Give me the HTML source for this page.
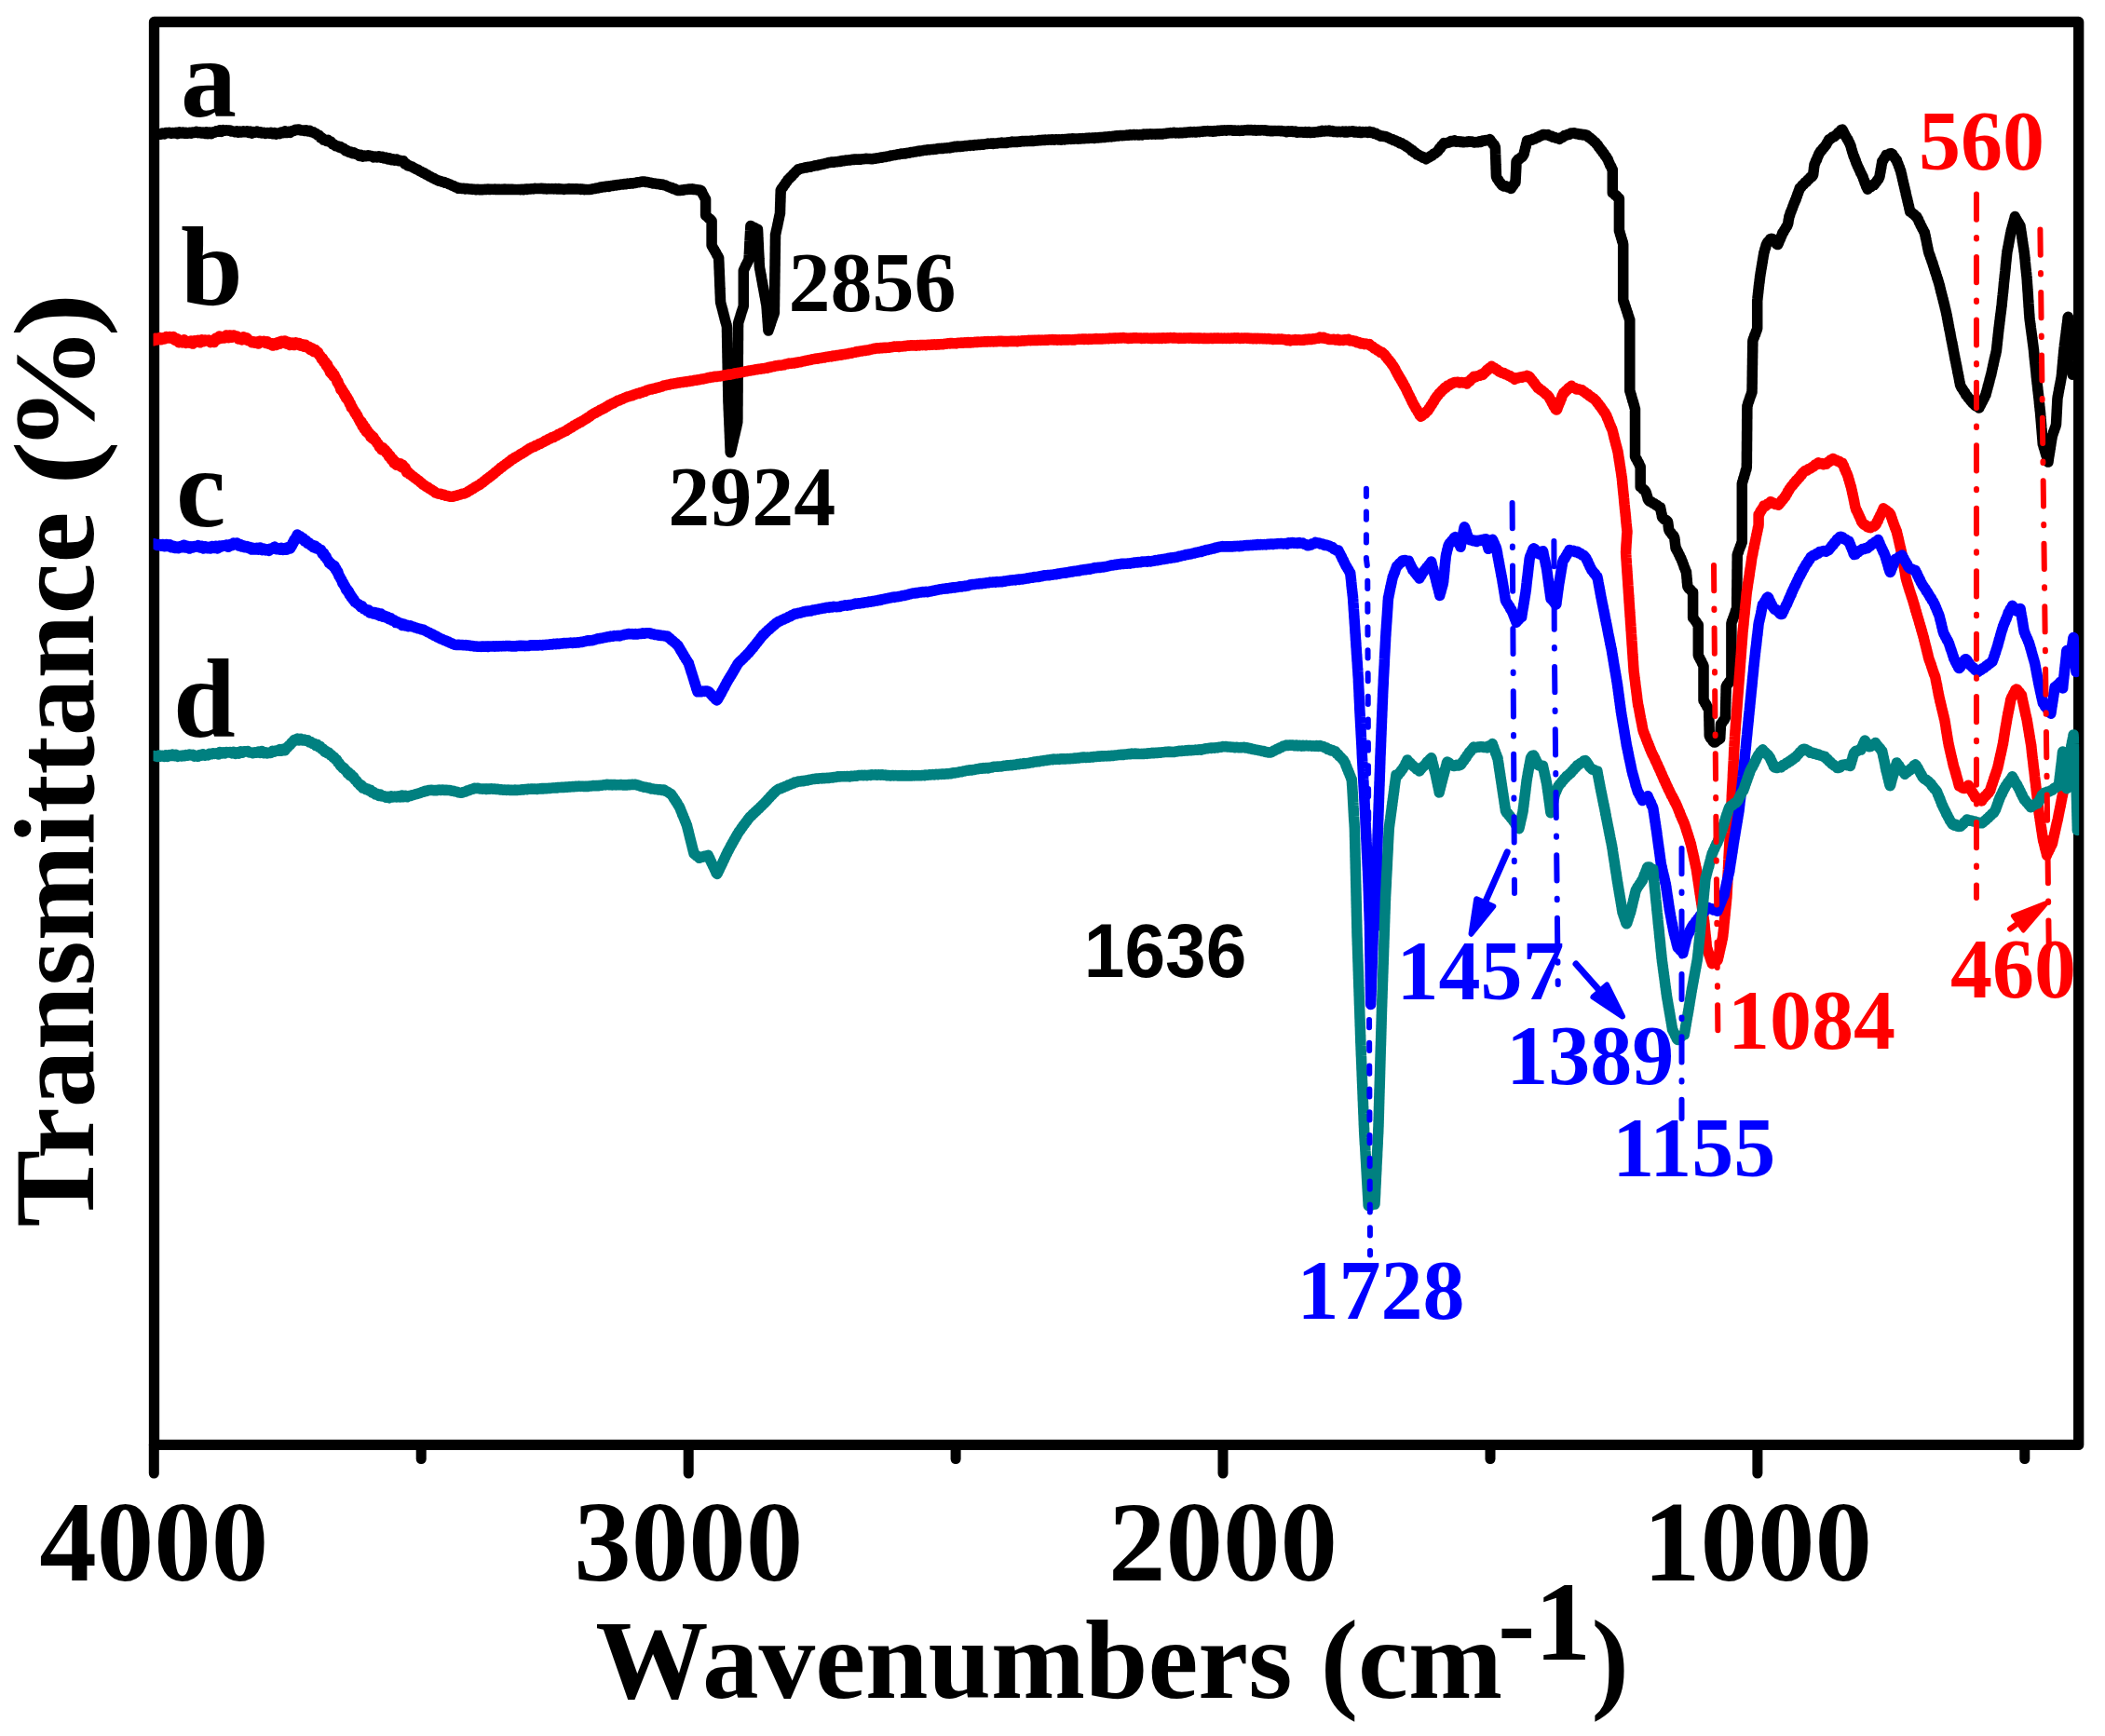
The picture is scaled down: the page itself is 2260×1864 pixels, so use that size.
<!DOCTYPE html>
<html><head><meta charset="utf-8"><title>FTIR spectra</title>
<style>html,body{margin:0;padding:0;background:#fff}svg{display:block}</style></head>
<body>
<svg width="2260" height="1864" viewBox="0 0 2260 1864">
<rect width="2260" height="1864" fill="#fff"/>
<defs><clipPath id="cp"><rect x="164.5" y="23.5" width="2067.7" height="1527.9"/></clipPath></defs>
<rect x="165.5" y="23.5" width="2066.2" height="1527.9" fill="none" stroke="#000" stroke-width="11.3" stroke-linejoin="round"/>
<g fill="none" stroke-linejoin="round" stroke-linecap="round" stroke-width="11.5" clip-path="url(#cp)">
<polyline stroke="#000" points="165.5,143.1 169.0,144.9 170.8,143.8 172.6,144.3 174.4,143.0 176.3,143.9 178.1,142.5 179.9,142.8 181.7,142.3 183.5,143.3 185.3,142.6 187.1,143.1 188.9,142.2 190.7,143.5 192.5,141.9 194.4,143.0 196.2,142.1 198.0,143.3 199.8,142.4 201.6,143.2 203.4,142.2 205.2,143.2 207.0,142.0 208.8,142.5 210.7,141.4 212.5,142.7 214.3,141.8 216.1,143.0 217.9,142.1 219.7,143.3 221.5,142.0 223.3,143.5 225.1,142.1 227.0,143.5 228.8,141.8 230.6,142.3 232.4,140.7 234.2,141.2 236.0,139.8 237.8,141.2 239.6,139.6 241.4,140.3 243.2,139.8 245.1,140.2 246.9,139.9 248.7,141.1 250.5,140.9 252.3,141.7 254.1,140.9 255.9,142.2 257.7,141.1 259.5,142.0 261.4,140.9 263.2,141.7 265.0,140.8 266.8,142.3 268.6,141.2 270.4,143.2 272.2,141.5 274.0,142.2 275.8,141.1 277.6,142.4 279.5,141.7 281.3,143.0 283.1,142.3 285.0,143.5 286.9,142.5 288.8,143.2 290.7,142.3 292.6,143.7 294.5,142.6 296.4,144.1 298.3,143.0 300.2,143.6 302.1,142.0 304.0,142.7 305.9,140.9 307.8,142.4 309.7,141.3 311.6,142.3 313.5,140.5 315.4,140.6 317.3,139.2 319.2,139.4 321.1,139.0 323.0,140.1 324.9,139.9 326.8,140.4 328.7,139.8 330.6,140.9 332.5,140.3 334.4,141.8 336.3,141.8 337.9,143.2 339.5,143.5 341.1,145.3 342.6,145.3 344.2,148.0 345.8,147.9 347.4,150.3 349.0,150.2 350.6,151.4 352.2,150.5 353.7,152.3 355.3,152.1 357.1,154.8 358.8,155.1 360.5,156.7 362.2,156.7 364.0,158.2 365.7,157.6 367.4,159.2 369.1,159.5 370.9,161.9 372.6,161.6 374.3,163.4 376.2,163.0 378.1,164.6 380.0,163.8 381.9,165.5 383.8,165.5 385.7,167.3 387.6,166.3 389.5,168.1 391.4,167.1 393.3,167.8 395.2,166.7 397.1,167.6 399.0,167.4 401.0,168.9 402.9,168.0 404.8,169.0 406.7,167.8 408.6,169.1 410.5,168.4 412.4,169.9 414.3,169.0 416.2,170.9 418.1,169.8 420.0,171.7 421.9,170.9 423.8,172.1 425.7,171.1 427.6,172.7 429.5,172.2 431.4,173.3 433.0,172.9 434.5,175.8 436.1,175.7 437.7,177.9 439.3,177.8 440.9,178.7 442.5,179.1 444.0,180.2 445.6,180.8 447.2,181.8 448.8,182.3 450.4,183.6 452.1,184.2 453.8,185.4 455.6,185.9 457.3,187.2 459.0,187.9 460.8,189.2 462.5,189.7 464.2,191.0 465.9,191.5 467.7,192.7 469.4,193.3 471.1,194.2 472.9,194.4 474.7,195.2 476.4,195.4 478.2,196.4 479.9,196.6 481.7,197.7 483.4,198.1 485.2,199.2 486.9,199.6 488.7,200.8 490.5,201.2 492.2,202.3 494.1,202.0 496.0,202.6 497.9,202.3 499.8,202.9 501.7,202.5 503.6,203.0 505.5,203.0 507.4,203.4 509.3,203.2 511.2,203.8 513.0,203.3 514.8,203.8 516.6,203.4 518.5,203.7 520.3,203.3 522.1,203.5 523.9,203.0 525.7,203.6 527.5,203.2 529.3,203.4 531.1,203.1 532.9,203.6 534.8,203.2 536.6,203.6 538.4,203.3 540.2,203.6 542.0,203.1 543.8,203.5 545.6,203.2 547.4,203.6 549.2,203.2 551.1,203.6 552.9,203.4 554.7,203.6 556.5,203.4 558.3,203.7 560.1,203.2 561.9,203.7 563.7,203.1 565.5,203.4 567.3,202.9 569.2,203.0 571.0,202.7 572.8,202.9 574.6,202.3 576.4,202.6 578.2,202.4 580.0,202.5 581.8,202.2 583.6,202.7 585.5,202.4 587.3,203.0 589.1,202.6 590.9,202.8 592.7,202.6 594.6,202.9 596.4,202.5 598.2,203.1 600.0,202.6 601.9,203.0 603.7,203.0 605.5,203.4 607.3,203.0 609.2,203.1 611.0,202.6 612.8,203.0 614.6,202.7 616.5,203.1 618.3,202.7 620.1,203.1 621.9,202.9 623.8,203.4 625.6,203.0 627.4,203.7 629.2,203.4 631.1,203.6 632.9,203.4 634.8,203.3 636.7,202.7 638.6,202.6 640.5,201.9 642.4,202.0 644.3,201.0 646.2,201.2 648.1,200.5 650.0,200.7 651.9,200.0 653.8,200.4 655.7,199.5 657.5,199.6 659.3,198.9 661.1,199.1 662.9,198.4 664.7,198.5 666.5,198.0 668.3,198.1 670.1,197.6 671.9,197.7 673.7,197.1 675.5,197.3 677.3,196.7 679.1,197.0 680.9,196.4 682.7,196.4 684.5,195.7 686.3,195.7 688.1,195.2 689.9,195.0 691.8,194.9 693.7,195.6 695.6,195.5 697.5,196.3 699.4,196.3 701.3,197.0 703.2,197.0 705.1,197.6 707.0,197.5 708.9,198.2 710.8,197.9 712.7,198.7 714.4,198.9 716.1,199.9 717.8,200.4 719.5,201.4 721.2,201.5 722.9,202.7 724.6,202.8 726.3,203.9 727.9,204.4 729.8,204.5 731.7,204.1 733.7,204.2 735.6,203.4 737.5,203.5 739.4,202.9 741.3,203.2 743.2,202.8 745.1,203.6 747.0,203.4 748.9,204.1 750.8,203.9 752.7,204.6 753.7,206.4 754.6,208.6 755.6,210.1 756.6,212.3 757.6,213.9 757.6,216.2 757.6,217.8 757.6,220.0 757.6,221.6 757.6,223.7 757.6,225.3 757.6,227.6 757.6,229.2 757.6,231.3 759.2,232.5 760.8,234.3 762.5,235.4 764.1,237.1 764.1,238.7 764.1,240.8 764.1,242.5 764.1,244.7 764.1,246.3 764.1,248.5 764.1,250.1 764.1,252.2 764.1,253.9 764.1,256.0 764.1,257.7 764.1,259.8 764.1,261.5 764.1,263.6 765.0,265.0 766.0,267.0 766.9,268.3 767.9,270.3 768.8,271.6 769.8,273.7 770.7,275.0 771.7,277.0 771.7,278.5 771.8,280.6 771.9,282.2 772.0,284.4 772.0,285.9 772.1,288.0 772.2,289.5 772.3,291.6 772.3,293.1 772.4,295.3 772.5,296.9 772.6,299.1 772.6,300.6 772.7,302.7 772.8,304.3 772.8,306.4 772.9,307.7 773.0,310.0 773.1,311.5 773.1,313.6 773.2,315.2 773.3,317.2 773.4,318.8 773.4,321.0 773.5,322.5 773.6,324.6 774.0,326.0 774.5,328.2 774.9,329.4 775.4,331.6 775.9,332.9 776.3,335.2 776.8,336.5 777.2,338.7 777.7,340.0 778.1,342.2 778.6,343.6 779.0,345.6 779.5,346.9 780.0,349.1 780.4,350.6 780.5,352.7 780.5,354.3 780.5,356.2 780.6,357.7 780.6,359.9 780.6,361.4 780.7,363.6 780.7,365.0 780.7,367.1 780.8,368.6 780.8,370.8 780.8,372.2 780.9,374.5 780.9,375.9 780.9,378.2 781.0,379.7 781.0,381.8 781.0,383.2 781.1,385.4 781.1,386.9 781.1,389.1 781.2,390.6 781.2,392.7 781.2,394.2 781.3,396.4 781.3,397.8 781.4,400.0 781.4,401.5 781.4,403.5 781.5,405.1 781.5,407.3 781.5,408.7 781.6,410.9 781.6,412.3 781.6,414.4 781.7,415.9 781.7,418.1 781.7,419.6 781.8,421.9 781.8,423.3 781.8,425.4 781.9,426.9 781.9,429.1 781.9,430.4 782.0,432.8 782.1,434.1 782.2,436.5 782.2,437.9 782.3,440.2 782.4,441.6 782.5,443.8 782.5,445.3 782.6,447.4 782.7,449.0 782.8,451.2 782.9,452.5 782.9,454.8 783.0,456.4 783.1,458.4 783.2,460.0 783.2,462.1 783.3,463.7 783.4,465.9 783.5,467.4 783.5,469.7 783.6,471.2 783.7,473.3 783.8,474.6 783.8,476.9 783.9,478.4 784.0,480.7 784.1,482.0 784.1,484.3 784.2,485.8 784.6,484.3 785.1,482.3 785.5,480.9 785.9,478.7 786.3,477.3 786.8,475.1 787.2,473.7 787.6,471.4 788.0,470.0 788.4,467.9 788.9,466.4 789.3,464.2 789.7,462.8 790.1,460.6 790.6,459.1 791.0,456.8 791.4,455.2 791.8,453.2 791.8,451.8 791.9,449.6 791.9,448.1 791.9,445.9 791.9,444.6 791.9,442.3 791.9,440.8 791.9,438.6 791.9,437.3 792.0,435.0 792.0,433.6 792.0,431.5 792.0,430.2 792.0,427.8 792.0,426.3 792.0,424.3 792.0,422.9 792.1,420.8 792.1,419.2 792.1,417.1 792.1,415.5 792.1,413.4 792.1,411.9 792.1,409.8 792.1,408.4 792.2,406.3 792.2,404.9 792.2,402.6 792.2,401.2 792.2,398.9 792.2,397.7 792.2,395.4 792.3,393.9 792.3,391.9 792.3,390.3 792.3,388.1 792.3,386.7 792.3,384.6 792.3,383.2 792.3,381.1 792.4,379.6 792.4,377.5 792.4,376.0 792.4,373.7 792.4,372.5 792.4,370.1 792.4,368.7 792.4,366.6 792.5,365.0 792.5,362.9 792.5,361.5 792.5,359.4 792.5,358.0 792.5,355.8 792.5,354.2 792.5,352.1 792.6,350.7 792.6,348.5 792.6,347.1 793.1,345.1 793.6,343.8 794.1,341.8 794.7,340.4 795.2,338.3 795.7,336.9 796.2,334.9 796.7,333.7 797.3,331.8 797.8,330.3 798.3,328.3 798.3,326.8 798.3,324.7 798.3,323.1 798.3,321.1 798.3,319.5 798.3,317.5 798.3,315.9 798.3,313.8 798.3,312.4 798.3,310.1 798.3,308.8 798.3,306.6 798.3,305.0 798.3,303.0 798.3,301.5 798.3,299.3 798.3,297.9 798.3,295.7 798.3,294.3 798.3,292.0 798.3,290.6 799.1,288.6 799.9,287.1 800.7,285.1 801.5,283.8 802.4,281.8 803.2,280.4 804.0,278.4 804.1,277.0 804.2,274.7 804.3,273.3 804.4,271.2 804.5,269.7 804.6,267.5 804.7,266.0 804.8,264.0 804.8,262.6 804.9,260.2 805.0,258.8 805.1,256.7 805.2,255.2 805.3,253.2 805.4,251.7 805.5,249.4 805.6,248.1 805.7,245.9 805.8,244.4 805.9,242.4 807.8,243.6 809.7,244.3 811.6,245.6 813.5,246.4 813.6,248.6 813.7,250.1 813.8,252.1 813.8,253.7 813.9,255.9 814.0,257.3 814.1,259.5 814.2,261.0 814.3,263.0 814.4,264.6 814.4,266.7 814.5,268.3 814.6,270.4 814.7,271.9 814.8,274.0 814.9,275.5 815.0,277.7 815.1,279.1 815.1,281.4 815.2,282.8 815.3,284.9 815.4,286.3 815.7,288.6 816.1,290.0 816.4,292.2 816.7,293.6 817.1,295.9 817.4,297.2 817.7,299.4 818.0,300.9 818.4,303.0 818.7,304.4 819.0,306.7 819.4,308.2 819.7,310.2 820.0,311.7 820.4,313.9 820.7,315.4 821.0,317.5 821.4,319.0 821.7,321.0 822.0,322.5 822.3,324.8 822.7,326.3 823.0,328.3 823.1,329.9 823.3,332.1 823.4,333.7 823.5,335.9 823.7,337.5 823.8,339.7 824.0,341.2 824.1,343.5 824.2,345.0 824.4,347.3 824.5,348.8 824.6,351.1 824.8,352.7 824.9,354.9 825.5,353.0 826.1,351.5 826.7,349.5 827.3,348.1 827.8,346.0 828.4,344.6 829.0,342.6 829.6,341.2 830.2,339.1 830.8,337.8 831.4,335.7 831.4,334.2 831.4,332.1 831.4,330.7 831.5,328.3 831.5,327.0 831.5,324.7 831.5,323.3 831.6,321.1 831.6,319.8 831.6,317.5 831.6,316.0 831.7,313.9 831.7,312.5 831.7,310.3 831.7,308.9 831.8,306.6 831.8,305.2 831.8,303.1 831.8,301.5 831.9,299.3 831.9,297.9 831.9,295.8 831.9,294.2 832.0,292.1 832.0,290.6 832.0,288.5 832.0,287.0 832.1,284.8 832.1,283.3 832.1,281.1 832.1,279.6 832.2,277.5 832.2,276.0 832.2,273.9 832.2,272.4 832.3,270.2 832.3,268.8 832.3,266.7 832.3,265.2 832.4,263.1 832.4,261.4 832.4,259.4 832.4,257.9 832.5,255.7 832.5,254.3 832.5,252.1 832.9,250.6 833.3,248.4 833.7,246.7 834.2,244.4 834.6,242.9 835.0,240.6 835.4,239.1 835.8,236.6 836.2,235.2 836.6,232.8 837.0,231.2 837.5,229.1 837.5,227.4 837.6,225.2 837.6,223.6 837.7,221.3 837.7,219.8 837.8,217.6 837.9,216.0 837.9,213.7 838.0,212.1 838.0,209.9 838.1,208.4 838.2,206.1 838.2,204.5 839.3,202.4 840.4,201.3 841.5,199.4 842.6,198.2 843.6,196.2 844.7,195.2 845.8,193.2 847.2,192.0 848.7,190.2 850.1,189.2 851.5,187.2 852.9,186.2 854.4,184.3 855.8,183.2 857.2,181.6 859.0,181.4 860.8,180.7 862.6,180.5 864.4,179.8 866.2,179.9 868.0,179.2 869.8,179.3 871.6,178.6 873.4,178.4 875.2,177.8 877.0,177.8 878.8,177.1 880.6,177.0 882.4,176.2 884.2,176.3 886.0,175.5 887.8,175.3 889.6,174.5 891.4,174.4 893.3,174.0 895.1,174.3 896.9,173.7 898.7,173.8 900.5,173.3 902.3,173.4 904.1,172.6 905.9,172.7 907.7,172.1 909.6,172.2 911.4,171.8 913.2,171.9 915.0,171.3 916.8,171.4 918.6,170.9 920.4,171.3 922.2,170.9 924.0,171.3 925.8,170.8 927.7,170.7 929.5,170.3 931.6,170.5 933.7,170.5 935.9,170.8 938.0,170.3 939.8,170.3 941.6,169.7 943.5,169.7 945.3,169.0 947.1,169.2 948.9,168.5 950.7,168.5 952.5,167.9 954.3,167.8 956.1,167.1 957.9,167.0 959.8,166.5 961.6,166.5 963.4,165.8 965.2,165.7 967.0,165.1 968.8,165.2 970.6,164.8 972.4,164.9 974.2,164.2 976.0,164.2 977.9,163.6 979.7,163.5 981.5,163.0 983.3,163.0 985.1,162.2 986.9,162.4 988.7,161.9 990.5,161.7 992.3,161.2 994.2,161.3 996.0,160.7 997.8,160.9 999.6,160.5 1001.4,160.6 1003.2,160.2 1005.0,160.3 1006.8,159.5 1008.6,159.6 1010.4,159.3 1012.3,159.5 1014.1,159.0 1015.9,159.1 1017.7,158.7 1019.5,158.9 1021.3,158.1 1023.1,158.2 1024.9,157.3 1026.7,157.7 1028.6,157.1 1030.4,157.6 1032.2,157.1 1034.0,157.2 1035.8,156.5 1037.6,156.7 1039.4,156.2 1041.2,156.4 1043.0,155.9 1044.8,156.2 1046.7,155.6 1048.5,155.7 1050.3,155.2 1052.1,155.5 1053.9,155.0 1055.7,155.2 1057.5,154.7 1059.3,154.6 1061.1,154.1 1063.0,154.3 1064.8,153.9 1066.6,154.4 1068.4,154.1 1070.2,154.1 1072.0,153.5 1073.8,153.6 1075.6,153.1 1077.4,153.5 1079.3,153.3 1081.1,153.4 1082.9,152.7 1084.7,152.8 1086.5,152.1 1088.3,152.5 1090.1,152.2 1091.9,152.6 1093.7,152.0 1095.5,152.2 1097.4,151.5 1099.2,151.8 1101.0,151.4 1102.8,151.7 1104.6,151.4 1106.4,151.6 1108.2,151.1 1110.0,151.5 1111.8,151.1 1113.7,151.1 1115.5,150.5 1117.3,150.8 1119.1,150.3 1120.9,150.6 1122.7,150.1 1124.5,150.3 1126.3,149.9 1128.1,150.2 1129.9,149.7 1131.8,150.2 1133.6,149.7 1135.4,149.9 1137.2,149.8 1139.0,150.2 1140.8,149.6 1142.6,149.9 1144.4,149.4 1146.2,149.6 1148.1,149.0 1149.9,149.4 1151.7,148.7 1153.5,149.2 1155.3,148.9 1157.1,149.2 1158.9,148.7 1160.7,149.0 1162.5,148.6 1164.3,148.8 1166.2,148.3 1168.0,148.6 1169.8,148.1 1171.6,148.3 1173.4,147.9 1175.2,148.4 1177.0,147.8 1178.8,148.1 1180.6,147.4 1182.5,147.7 1184.3,147.3 1186.1,147.4 1187.9,146.9 1189.7,147.1 1191.5,146.5 1193.3,146.9 1195.1,146.3 1196.9,146.4 1198.8,145.7 1200.6,146.0 1202.4,145.4 1204.2,145.7 1206.0,145.5 1207.8,145.5 1209.6,145.1 1211.4,145.2 1213.2,144.6 1215.0,145.0 1216.9,144.4 1218.7,144.9 1220.5,144.5 1222.3,145.1 1224.1,144.6 1225.9,144.9 1227.7,144.1 1229.5,144.2 1231.3,144.0 1233.2,144.2 1235.0,143.8 1236.8,144.2 1238.6,143.9 1240.4,144.2 1242.2,143.8 1244.0,144.1 1245.8,143.7 1247.6,144.1 1249.4,143.4 1251.3,143.5 1253.1,142.9 1254.9,142.9 1256.7,142.6 1258.5,142.8 1260.3,142.3 1262.1,142.9 1263.9,142.6 1265.7,142.9 1267.6,142.5 1269.4,142.8 1271.2,142.3 1273.0,142.5 1274.8,141.9 1276.6,142.1 1278.4,141.6 1280.2,141.9 1282.0,141.5 1283.8,142.1 1285.7,141.4 1287.5,141.7 1289.3,141.2 1291.1,141.4 1292.9,140.8 1294.7,140.9 1296.5,140.6 1298.3,141.0 1300.1,140.8 1302.0,141.3 1303.8,140.6 1305.6,140.9 1307.4,140.3 1309.2,140.5 1311.0,140.0 1312.8,140.2 1314.6,139.8 1316.4,140.2 1318.3,139.7 1320.1,139.9 1321.9,139.7 1323.7,140.2 1325.5,140.0 1327.3,140.3 1329.1,140.1 1330.9,140.5 1332.7,140.1 1334.5,140.2 1336.4,139.7 1338.2,139.8 1340.0,139.4 1341.8,139.8 1343.6,139.5 1345.4,140.0 1347.2,139.6 1349.0,140.2 1350.8,139.8 1352.7,140.1 1354.5,139.7 1356.3,139.9 1358.1,139.8 1359.9,140.4 1361.7,140.3 1363.5,140.7 1365.3,140.5 1367.1,140.7 1368.9,140.4 1370.8,140.6 1372.6,140.4 1374.4,140.7 1376.2,140.6 1378.0,141.0 1379.8,140.9 1381.6,141.8 1383.4,140.8 1385.2,141.2 1387.1,140.7 1388.9,141.6 1390.7,141.1 1392.5,142.3 1394.3,141.8 1396.1,142.1 1397.9,141.7 1399.7,142.3 1401.5,141.5 1403.3,142.4 1405.2,141.6 1407.0,142.5 1408.8,141.9 1410.6,142.3 1412.4,141.7 1414.2,141.8 1416.0,141.1 1417.8,141.5 1419.6,140.3 1421.5,141.1 1423.3,140.3 1425.1,140.8 1426.9,140.1 1428.7,140.9 1430.5,140.6 1432.3,141.6 1434.1,141.2 1435.9,141.8 1437.8,141.2 1439.6,141.7 1441.4,141.0 1443.2,141.9 1445.0,141.1 1446.8,142.0 1448.6,141.0 1450.4,141.4 1452.2,140.8 1454.0,142.0 1455.9,141.3 1457.7,142.2 1459.5,141.4 1461.3,142.5 1463.1,141.6 1464.9,142.1 1466.7,141.5 1468.5,142.4 1470.3,141.3 1472.1,142.5 1473.8,142.1 1475.5,143.4 1477.3,143.2 1479.0,144.7 1480.7,144.9 1482.4,146.3 1484.2,146.0 1485.9,146.6 1487.6,146.5 1489.4,147.5 1491.1,148.0 1492.8,149.3 1494.5,149.4 1496.3,150.6 1498.0,150.7 1499.7,152.1 1501.5,152.2 1503.2,154.0 1504.9,153.8 1506.6,155.3 1508.4,155.6 1509.8,157.4 1511.2,157.5 1512.6,159.3 1514.1,159.6 1515.5,161.8 1516.9,161.6 1518.3,163.7 1519.8,164.1 1521.4,166.1 1523.0,166.2 1524.7,167.7 1526.3,168.0 1527.9,169.4 1529.5,169.0 1531.2,170.7 1532.8,169.5 1534.4,168.9 1536.1,167.4 1537.7,167.1 1539.3,165.0 1541.0,164.6 1542.6,163.1 1543.9,162.1 1545.1,159.7 1546.4,159.2 1547.7,156.5 1548.9,155.8 1550.2,153.6 1552.1,154.0 1554.0,153.2 1555.9,153.0 1557.8,151.5 1559.7,151.9 1561.6,150.9 1563.5,152.2 1565.4,151.7 1567.3,152.4 1569.2,151.9 1571.1,152.8 1573.0,152.4 1574.9,152.6 1576.8,151.7 1578.7,152.3 1580.6,152.0 1582.5,153.0 1584.4,152.6 1586.3,152.8 1588.2,151.8 1590.1,152.4 1592.0,151.0 1593.9,151.2 1595.8,150.4 1597.7,150.7 1599.6,149.5 1600.8,151.7 1601.9,152.7 1603.0,154.9 1604.2,155.4 1605.3,158.0 1605.4,159.1 1605.5,161.7 1605.5,163.0 1605.6,165.3 1605.7,166.8 1605.7,169.2 1605.8,170.7 1605.9,173.2 1605.9,174.1 1606.0,176.9 1606.1,178.3 1606.1,180.7 1606.2,181.9 1606.3,184.5 1606.3,185.6 1606.4,188.2 1606.5,189.6 1607.5,192.0 1608.6,193.0 1609.7,195.3 1610.8,196.1 1611.9,198.0 1612.9,199.1 1614.8,200.0 1616.7,199.8 1618.6,201.0 1620.5,200.9 1622.4,202.4 1623.6,200.1 1624.7,199.2 1625.9,196.9 1627.0,196.0 1627.1,193.5 1627.2,192.2 1627.3,189.9 1627.4,188.6 1627.5,185.7 1627.6,184.9 1627.7,182.0 1627.8,180.7 1627.9,178.1 1627.9,177.2 1628.0,174.4 1628.1,173.5 1629.7,171.3 1631.2,170.8 1632.7,169.2 1634.2,168.5 1635.7,166.3 1636.2,165.3 1636.7,162.5 1637.2,161.2 1637.6,158.7 1638.1,157.7 1638.6,154.7 1639.1,153.7 1639.5,151.1 1641.3,151.3 1643.0,150.2 1644.7,150.2 1646.4,149.0 1648.1,149.0 1649.8,147.7 1651.5,147.3 1653.2,145.9 1654.9,145.7 1656.7,144.4 1660.0,144.8 1661.8,144.6 1663.6,145.9 1665.3,145.9 1667.1,147.3 1668.9,147.3 1670.7,148.3 1672.5,148.4 1674.3,149.3 1676.0,147.7 1677.8,147.5 1679.6,145.5 1681.4,145.4 1683.2,144.3 1685.0,144.4 1686.7,143.0 1688.5,143.0 1690.3,142.8 1692.1,143.8 1693.9,143.4 1695.6,144.5 1697.4,143.9 1699.2,144.9 1701.0,144.4 1702.8,145.0 1704.2,145.5 1705.6,147.6 1707.1,147.7 1708.5,149.5 1709.9,150.3 1711.3,151.9 1712.8,152.7 1714.2,154.8 1715.3,155.5 1716.5,158.0 1717.6,158.8 1718.7,160.9 1719.9,161.7 1721.0,164.0 1722.2,164.9 1723.3,167.2 1724.4,168.1 1725.6,170.5 1726.4,171.4 1727.2,173.9 1728.0,175.5 1728.8,177.7 1729.7,178.7 1730.5,181.0 1731.3,182.1 1731.3,184.8 1731.3,186.0 1731.3,188.5 1731.3,189.7 1731.3,192.3 1731.3,193.1 1731.3,196.0 1731.3,197.2 1731.3,199.3 1731.3,200.8 1731.3,203.3 1731.3,204.6 1731.3,206.9 1732.7,207.5 1734.1,209.7 1735.6,210.1 1737.0,212.3 1738.4,213.1 1738.4,215.8 1738.4,216.8 1738.4,219.2 1738.4,220.1 1738.4,222.6 1738.4,224.0 1738.4,226.4 1738.4,227.4 1738.4,230.1 1738.4,231.1 1738.4,233.8 1738.4,234.7 1738.4,237.4 1738.4,238.2 1738.4,240.7 1738.4,241.7 1738.4,244.6 1738.4,245.6 1738.4,248.1 1739.0,249.0 1739.5,251.8 1740.0,252.5 1740.6,255.4 1741.1,256.2 1741.6,258.8 1742.2,259.8 1742.7,262.7 1742.7,263.5 1742.7,266.0 1742.7,267.2 1742.7,270.0 1742.7,270.7 1742.7,273.5 1742.7,274.3 1742.7,277.0 1742.7,277.9 1742.7,280.6 1742.7,281.8 1742.7,284.1 1742.7,285.5 1742.7,287.7 1742.7,288.9 1742.7,291.8 1742.7,292.5 1742.7,295.0 1742.7,296.1 1742.7,299.0 1742.7,299.7 1742.7,302.5 1742.7,303.7 1742.7,305.9 1742.7,307.1 1742.7,309.5 1742.7,310.6 1742.7,313.5 1742.7,314.2 1742.7,316.9 1742.7,317.8 1742.7,320.6 1742.7,321.6 1743.3,324.2 1743.9,325.2 1744.5,327.8 1745.1,328.9 1745.7,331.4 1746.3,332.7 1746.9,334.9 1747.5,336.1 1748.0,338.7 1748.6,339.6 1749.2,342.1 1749.8,343.2 1749.8,346.0 1749.8,346.8 1749.8,349.5 1749.8,350.5 1749.8,353.2 1749.8,354.6 1749.8,356.9 1749.8,358.3 1749.8,360.6 1749.8,361.6 1749.8,364.2 1749.8,365.5 1749.8,367.8 1749.8,369.1 1749.8,371.6 1749.8,372.6 1749.8,375.2 1749.8,376.7 1749.8,379.2 1749.8,380.0 1749.8,382.7 1749.8,384.1 1749.8,386.4 1749.8,387.4 1749.8,390.0 1749.8,391.4 1749.8,393.9 1749.8,394.9 1749.8,397.5 1749.8,398.8 1749.8,401.0 1749.8,402.2 1749.8,405.1 1749.8,405.8 1749.8,408.4 1749.8,409.5 1749.8,412.4 1749.8,413.5 1749.8,415.9 1749.8,417.2 1749.8,419.8 1750.3,420.9 1750.9,423.2 1751.4,424.2 1751.9,427.0 1752.4,428.0 1752.9,430.5 1753.5,431.6 1754.0,434.0 1754.5,435.2 1755.0,437.6 1755.5,439.1 1755.5,441.6 1755.5,442.7 1755.5,445.1 1755.5,446.4 1755.5,448.6 1755.5,449.7 1755.5,452.7 1755.5,453.4 1755.5,455.9 1755.5,457.3 1755.5,460.0 1755.5,461.1 1755.5,463.6 1755.5,464.7 1755.5,467.2 1755.5,468.1 1755.5,471.0 1755.5,471.9 1755.5,474.4 1755.5,475.8 1755.5,478.0 1755.5,479.4 1755.5,481.8 1755.5,482.8 1755.5,485.7 1755.5,486.5 1755.5,489.2 1755.5,490.2 1756.5,492.4 1757.4,493.4 1758.4,495.9 1759.3,496.8 1760.3,499.7 1761.2,500.8 1761.2,503.0 1761.2,504.2 1761.2,506.9 1761.2,508.4 1761.2,511.2 1761.2,512.3 1761.2,514.7 1761.2,516.2 1761.2,518.6 1761.2,520.0 1761.2,522.7 1762.7,523.3 1764.1,525.7 1765.5,526.0 1766.9,528.0 1767.5,529.6 1768.1,531.8 1768.7,533.4 1769.2,535.8 1769.8,537.0 1771.4,538.5 1773.0,538.9 1774.6,540.3 1776.2,540.6 1777.8,542.3 1779.4,542.7 1781.0,544.6 1782.6,544.9 1783.0,547.5 1783.3,548.7 1783.7,550.9 1784.1,552.0 1784.4,554.6 1784.8,555.6 1786.7,557.6 1788.6,558.4 1790.5,560.1 1790.8,561.6 1791.1,564.0 1791.3,565.5 1791.6,568.0 1791.9,569.3 1793.1,571.3 1794.2,572.2 1795.3,574.2 1796.5,574.8 1797.6,577.0 1797.9,578.3 1798.1,580.7 1798.3,582.0 1798.6,584.8 1798.8,585.7 1799.0,588.6 1799.9,589.2 1800.7,591.6 1801.5,592.6 1802.3,594.9 1803.1,595.8 1803.9,598.4 1804.8,599.2 1805.5,601.7 1806.2,602.8 1806.9,605.2 1807.6,606.6 1808.3,609.3 1809.0,610.3 1809.7,612.7 1810.5,614.0 1810.6,616.8 1810.8,617.7 1811.0,620.8 1811.2,621.9 1811.3,624.8 1811.5,625.8 1811.7,628.4 1811.9,629.8 1813.3,632.1 1814.7,632.8 1816.2,635.0 1817.6,635.8 1817.6,638.0 1817.6,639.0 1817.6,641.7 1817.6,642.7 1817.6,645.3 1817.6,646.5 1817.6,649.1 1817.6,649.8 1817.6,652.5 1817.6,653.6 1817.6,656.3 1817.6,657.3 1817.6,659.9 1817.6,660.8 1817.6,663.4 1818.7,664.4 1819.9,666.4 1821.0,667.5 1822.1,669.6 1823.3,670.9 1823.3,673.2 1823.3,674.3 1823.3,676.9 1823.3,677.8 1823.3,680.7 1823.3,681.6 1823.3,684.1 1823.3,685.3 1823.3,687.9 1823.3,688.8 1823.3,691.4 1823.3,692.6 1823.3,695.0 1823.3,696.2 1823.3,698.7 1823.3,699.6 1823.3,702.3 1823.3,703.3 1824.1,705.6 1824.9,706.7 1825.7,708.7 1826.5,709.7 1827.4,712.0 1828.2,713.1 1829.0,715.2 1829.0,716.3 1829.0,718.9 1829.0,720.2 1829.0,722.7 1829.0,723.5 1829.0,726.3 1829.0,727.5 1829.0,729.8 1829.0,731.1 1829.0,733.8 1829.0,734.6 1829.0,737.4 1829.0,738.3 1829.0,741.0 1829.0,742.3 1829.0,744.9 1829.0,745.8 1829.0,748.6 1829.0,749.7 1829.0,752.2 1829.9,753.0 1830.9,755.5 1831.8,756.3 1832.8,758.9 1833.7,759.9 1834.7,762.3 1834.7,763.3 1834.8,766.1 1834.8,767.2 1834.8,769.8 1834.9,771.1 1834.9,773.5 1835.0,774.8 1835.0,777.4 1835.0,778.7 1835.1,781.2 1835.1,782.6 1835.2,785.1 1835.2,786.2 1835.2,788.8 1835.3,790.1 1836.5,792.7 1837.8,793.5 1839.1,795.9 1840.4,797.1 1842.0,796.8 1843.5,794.9 1845.1,794.4 1846.7,793.1 1846.8,791.4 1846.9,788.9 1847.0,787.9 1847.1,785.2 1847.2,784.0 1847.3,781.0 1847.4,779.7 1847.5,777.3 1848.7,776.4 1850.0,774.0 1851.2,772.9 1852.4,770.5 1852.4,769.2 1852.5,766.7 1852.5,765.7 1852.6,763.5 1852.6,762.1 1852.6,759.7 1852.7,758.8 1852.7,756.1 1852.8,755.0 1852.8,752.4 1852.9,751.2 1852.9,748.8 1853.0,748.0 1853.0,745.3 1853.1,744.0 1853.1,741.5 1853.1,740.7 1853.2,738.1 1853.2,737.2 1854.4,734.8 1855.5,734.0 1856.7,731.7 1857.8,730.6 1858.9,728.4 1858.9,727.1 1858.9,724.7 1858.9,723.7 1858.9,721.0 1858.9,719.9 1858.9,717.7 1858.9,716.4 1858.9,714.0 1858.9,712.7 1858.9,710.1 1858.9,709.0 1858.9,706.8 1858.9,705.3 1858.9,702.9 1858.9,701.9 1858.9,699.0 1858.9,698.3 1858.9,695.6 1858.9,694.4 1858.9,692.1 1858.9,691.0 1858.9,688.5 1858.9,687.1 1858.9,684.5 1858.9,683.9 1858.9,681.3 1858.9,679.9 1858.9,677.3 1858.9,676.4 1858.9,673.8 1858.9,672.8 1858.9,670.4 1858.9,669.4 1859.6,666.7 1860.2,666.0 1860.8,663.5 1861.5,662.4 1862.1,659.9 1862.7,658.8 1863.4,656.0 1864.0,655.1 1864.6,652.5 1864.7,651.5 1864.7,648.9 1864.7,647.7 1864.7,645.0 1864.7,644.3 1864.7,641.7 1864.8,640.5 1864.8,637.9 1864.8,636.5 1864.8,634.3 1864.8,632.8 1864.9,630.2 1864.9,629.2 1864.9,626.7 1864.9,625.8 1864.9,623.3 1865.0,621.8 1865.0,619.4 1865.0,618.4 1865.0,615.7 1865.0,614.8 1865.0,612.1 1865.1,610.8 1865.1,608.2 1865.1,607.4 1865.1,604.7 1865.1,603.4 1865.2,601.2 1865.2,600.1 1865.2,597.2 1865.2,596.0 1865.9,593.5 1866.5,592.7 1867.1,590.0 1867.8,589.0 1868.4,586.5 1869.1,585.6 1869.7,583.1 1870.3,582.2 1870.3,579.5 1870.3,578.1 1870.3,576.0 1870.3,574.7 1870.3,571.9 1870.3,571.2 1870.3,568.6 1870.3,567.1 1870.3,564.8 1870.3,563.6 1870.3,561.0 1870.3,559.9 1870.3,557.3 1870.3,556.4 1870.3,553.9 1870.3,552.5 1870.3,549.9 1870.3,549.1 1870.3,546.4 1870.3,545.2 1870.3,542.5 1870.3,541.4 1870.3,539.0 1870.3,537.8 1870.3,535.3 1870.3,534.1 1870.3,531.4 1870.3,530.5 1870.3,527.9 1870.3,526.9 1870.3,524.0 1870.3,522.9 1870.3,520.4 1870.3,519.4 1870.9,517.0 1871.4,515.7 1872.0,513.2 1872.5,512.2 1873.1,509.4 1873.7,508.1 1874.2,505.3 1874.8,504.2 1875.3,501.5 1875.3,500.5 1875.3,498.1 1875.4,496.9 1875.4,494.4 1875.4,493.4 1875.4,490.7 1875.4,489.7 1875.4,487.1 1875.4,485.9 1875.5,483.4 1875.5,482.1 1875.5,479.5 1875.5,478.6 1875.5,476.0 1875.5,475.1 1875.6,472.5 1875.6,471.6 1875.6,469.0 1875.6,467.8 1875.6,465.1 1875.6,464.2 1875.7,461.4 1875.7,460.4 1875.7,457.9 1875.7,456.7 1875.7,454.0 1875.7,452.9 1875.7,450.3 1875.8,449.5 1875.8,446.9 1875.8,445.7 1875.8,443.1 1875.8,442.0 1875.8,439.4 1875.9,438.5 1875.9,435.8 1876.4,434.8 1877.0,432.1 1877.6,431.0 1878.2,428.7 1878.7,427.6 1879.3,425.2 1879.9,424.6 1880.4,422.3 1881.0,421.3 1881.0,418.4 1881.1,417.6 1881.1,414.8 1881.1,413.9 1881.2,411.3 1881.2,410.3 1881.2,407.6 1881.2,406.5 1881.3,403.6 1881.3,402.5 1881.3,400.3 1881.3,399.0 1881.4,396.4 1881.4,395.3 1881.4,392.5 1881.5,391.8 1881.5,389.1 1881.5,387.7 1881.5,385.2 1881.6,384.2 1881.6,381.8 1881.6,380.3 1881.7,378.0 1881.7,376.6 1881.7,374.0 1881.7,373.1 1881.8,370.7 1881.8,369.4 1881.8,367.1 1881.9,365.9 1882.6,363.4 1883.2,362.4 1883.9,359.9 1884.6,358.9 1885.3,356.3 1886.0,355.0 1886.7,352.5 1886.7,351.5 1886.7,349.0 1886.7,347.4 1886.7,344.8 1886.7,344.0 1886.7,341.4 1886.7,340.2 1886.7,337.7 1886.7,336.3 1886.7,333.9 1886.7,332.6 1886.7,330.1 1886.7,328.8 1886.7,326.3 1886.7,325.0 1886.7,322.6 1886.9,321.3 1887.1,318.7 1887.3,317.9 1887.5,315.1 1887.7,314.2 1887.9,311.5 1888.1,310.2 1888.3,307.7 1888.5,306.7 1888.7,304.1 1889.0,303.1 1889.2,300.4 1889.4,299.6 1889.6,296.9 1889.9,295.6 1890.2,293.1 1890.5,291.8 1890.8,289.4 1891.1,288.2 1891.4,285.7 1891.7,284.8 1892.0,282.0 1892.3,281.3 1892.6,278.4 1892.9,277.3 1893.2,274.9 1893.5,273.8 1893.8,271.3 1894.4,269.8 1895.0,267.1 1895.6,265.9 1896.1,263.2 1896.7,262.0 1898.0,259.8 1899.3,259.2 1900.5,256.8 1901.8,256.2 1903.2,256.6 1904.6,258.8 1905.9,259.5 1907.3,262.0 1908.7,262.6 1909.5,261.0 1910.4,258.4 1911.2,257.1 1912.1,254.5 1912.9,252.9 1913.8,250.1 1914.8,249.3 1915.7,247.1 1916.7,246.0 1917.6,243.9 1918.6,242.8 1919.5,240.6 1919.9,239.0 1920.2,236.4 1920.6,234.7 1920.9,232.2 1921.6,231.2 1922.2,228.4 1922.9,227.5 1923.5,225.3 1924.2,224.2 1924.8,221.8 1925.5,220.5 1926.1,218.3 1926.8,217.5 1927.4,214.9 1928.1,214.3 1928.7,211.8 1929.3,210.9 1929.9,208.3 1930.5,207.6 1931.1,205.2 1931.7,204.2 1932.3,201.7 1933.8,200.9 1935.2,198.6 1936.6,198.1 1938.0,195.8 1939.5,195.3 1940.9,193.1 1942.3,192.4 1943.7,190.2 1945.2,189.9 1946.6,187.9 1946.8,186.6 1947.1,183.8 1947.3,182.9 1947.5,180.3 1947.8,178.9 1948.0,176.5 1948.8,175.1 1949.7,172.4 1950.5,171.5 1951.3,168.8 1952.1,167.5 1952.9,165.1 1953.7,164.3 1954.9,161.8 1956.0,161.4 1957.1,159.3 1958.3,158.5 1959.4,156.8 1960.5,155.6 1961.6,153.4 1962.6,152.0 1963.7,149.5 1965.5,149.1 1967.3,147.2 1969.1,146.9 1970.8,145.2 1972.3,144.2 1973.7,142.4 1975.1,142.0 1976.5,139.7 1978.0,139.1 1978.8,140.5 1979.7,142.7 1980.5,143.9 1981.4,146.3 1982.2,146.9 1983.1,149.4 1984.0,149.9 1984.8,152.3 1985.7,153.3 1986.5,155.7 1987.1,156.8 1987.7,159.7 1988.2,161.0 1988.8,163.4 1989.4,164.9 1990.1,167.6 1990.8,168.3 1991.5,171.1 1992.2,172.1 1992.9,175.0 1993.7,176.3 1994.5,178.6 1995.3,179.9 1996.1,182.0 1996.9,183.2 1997.7,185.7 1998.5,186.5 1999.4,188.8 2000.1,189.9 2000.8,192.7 2001.5,193.8 2002.2,196.5 2002.9,197.3 2003.6,200.0 2004.3,201.2 2005.1,203.2 2006.8,201.4 2008.6,200.7 2010.4,198.6 2012.2,198.5 2013.3,196.6 2014.5,195.5 2015.6,193.4 2016.7,192.5 2017.9,189.7 2018.2,188.4 2018.6,185.7 2019.0,184.2 2019.3,181.4 2019.7,180.3 2020.0,177.6 2020.4,176.1 2020.7,173.3 2021.8,172.2 2022.9,169.9 2023.9,169.0 2025.0,166.5 2026.9,166.9 2028.8,165.0 2030.7,164.8 2031.9,165.7 2033.0,168.2 2034.1,168.8 2035.3,171.1 2036.4,172.0 2037.1,174.7 2037.9,175.8 2038.6,178.6 2039.3,179.5 2040.0,182.3 2040.7,183.3 2041.1,186.2 2041.6,187.0 2042.0,189.8 2042.4,190.8 2042.8,193.3 2043.3,194.9 2043.7,197.2 2044.1,198.4 2044.6,200.8 2045.0,202.2 2045.4,204.6 2045.9,205.8 2046.3,208.6 2046.7,209.8 2047.2,212.3 2047.6,213.3 2048.1,216.2 2048.5,217.1 2048.9,219.7 2049.4,220.8 2049.8,223.5 2050.2,224.8 2050.7,227.3 2052.1,227.7 2053.5,229.5 2055.0,230.1 2056.4,231.9 2057.8,232.5 2058.7,234.7 2059.5,235.7 2060.4,238.3 2061.2,239.3 2062.1,242.1 2062.9,242.9 2063.8,245.2 2064.7,246.4 2065.5,248.5 2066.4,249.6 2066.7,252.0 2067.1,252.8 2067.4,255.3 2067.8,256.3 2068.2,258.6 2068.5,259.8 2068.9,262.3 2069.2,263.3 2069.6,265.9 2069.9,266.7 2070.3,269.1 2070.6,270.3 2071.4,273.0 2072.1,274.4 2072.8,276.9 2073.5,278.4 2074.2,281.0 2074.9,282.4 2075.5,284.9 2076.0,286.1 2076.6,288.3 2077.1,289.4 2077.7,292.0 2078.2,292.6 2078.8,295.0 2079.3,296.3 2079.9,298.8 2080.4,299.6 2081.0,302.0 2081.5,303.4 2082.1,305.8 2082.5,306.5 2082.9,309.3 2083.4,310.5 2083.8,313.0 2084.3,314.1 2084.7,316.2 2085.2,317.6 2085.6,320.0 2086.1,321.0 2086.5,323.5 2087.0,324.6 2087.4,327.0 2087.8,328.0 2088.3,330.8 2088.7,331.8 2089.2,334.4 2089.5,335.3 2089.9,337.7 2090.3,338.8 2090.6,341.7 2091.0,342.6 2091.3,345.4 2091.7,346.3 2092.0,349.1 2092.4,350.1 2092.7,352.9 2093.1,354.1 2093.5,356.3 2093.8,357.4 2094.2,360.2 2094.5,361.5 2094.9,364.1 2095.2,365.2 2095.6,367.5 2096.0,368.5 2096.3,371.4 2096.7,372.1 2097.0,374.9 2097.3,375.8 2097.7,378.3 2098.0,379.5 2098.4,382.1 2098.7,383.0 2099.0,385.6 2099.4,386.3 2099.7,388.8 2100.1,390.0 2100.4,392.6 2100.8,393.2 2101.1,395.7 2101.4,396.7 2101.8,399.6 2102.1,400.2 2102.5,402.9 2102.8,403.7 2103.2,406.2 2103.5,407.5 2103.8,409.8 2104.2,410.9 2104.5,413.2 2104.9,414.2 2106.1,416.5 2107.2,417.9 2108.4,420.2 2109.6,421.4 2110.8,424.2 2112.0,425.1 2113.2,427.3 2114.4,428.1 2115.6,430.2 2116.7,431.2 2117.9,432.9 2119.1,433.9 2121.0,435.9 2122.9,436.3 2124.8,438.1 2125.7,435.9 2126.6,434.8 2127.5,432.4 2128.4,431.3 2129.3,428.9 2130.2,427.8 2131.1,425.4 2132.0,424.0 2132.4,421.5 2132.9,420.5 2133.4,418.1 2133.9,416.9 2134.3,414.3 2134.8,413.5 2135.3,411.0 2135.8,409.7 2136.2,407.3 2136.7,406.0 2137.2,403.7 2137.7,402.6 2138.1,400.3 2138.5,398.8 2138.9,396.4 2139.3,395.1 2139.7,392.6 2140.1,391.8 2140.5,388.9 2140.9,388.0 2141.3,385.4 2141.7,384.2 2142.1,382.0 2142.6,380.8 2143.0,378.1 2143.4,377.1 2143.6,374.7 2143.8,373.4 2144.0,370.9 2144.2,369.8 2144.4,367.1 2144.6,365.9 2144.8,363.5 2145.0,362.5 2145.2,359.7 2145.4,358.5 2145.6,356.2 2145.8,355.0 2146.0,352.4 2146.2,351.6 2146.5,348.6 2146.7,347.8 2146.9,345.1 2147.2,343.8 2147.4,341.2 2147.6,340.0 2147.9,337.2 2148.1,336.3 2148.4,333.7 2148.6,332.2 2148.8,329.8 2149.1,328.6 2149.3,326.1 2149.4,325.0 2149.6,322.1 2149.8,321.3 2150.0,318.4 2150.2,317.1 2150.4,314.8 2150.6,313.8 2150.8,311.1 2151.0,309.6 2151.2,307.2 2151.3,306.1 2151.5,303.3 2151.7,302.0 2151.9,299.9 2152.1,298.6 2152.3,295.7 2152.5,294.9 2152.7,292.1 2152.9,290.8 2153.1,288.2 2153.3,287.1 2153.4,284.7 2153.6,283.2 2153.8,280.9 2154.0,279.8 2154.2,276.8 2154.4,275.7 2154.6,273.1 2154.8,271.7 2155.1,269.1 2155.5,268.0 2155.8,265.6 2156.2,264.4 2156.6,261.6 2156.9,260.3 2157.3,257.8 2157.6,256.5 2158.0,254.2 2158.3,252.8 2158.7,250.4 2159.0,249.2 2159.5,246.6 2160.0,245.5 2160.5,243.1 2161.0,242.0 2161.4,239.6 2161.9,238.4 2162.4,236.1 2162.9,235.3 2163.3,232.5 2164.3,234.8 2165.2,236.1 2166.2,238.0 2167.1,239.0 2168.1,241.4 2169.0,242.5 2169.3,245.1 2169.6,246.0 2169.8,248.5 2170.1,249.5 2170.4,251.9 2170.6,252.9 2170.9,255.6 2171.2,256.7 2171.4,259.3 2171.7,260.2 2172.0,262.8 2172.2,263.8 2172.5,266.1 2172.8,267.1 2173.0,269.7 2173.3,270.6 2173.5,273.2 2173.7,274.5 2173.9,276.9 2174.1,278.3 2174.3,281.0 2174.4,282.0 2174.6,284.4 2174.8,286.0 2175.0,288.4 2175.2,289.5 2175.4,292.0 2175.6,293.5 2175.8,295.8 2176.0,297.2 2176.2,299.8 2176.3,300.7 2176.4,303.3 2176.5,304.6 2176.7,306.9 2176.8,308.3 2176.9,310.7 2177.0,312.0 2177.2,314.2 2177.3,315.4 2177.4,317.9 2177.5,319.4 2177.6,321.7 2177.8,323.0 2177.9,325.3 2178.0,326.7 2178.1,329.3 2178.3,330.1 2178.4,332.9 2178.5,334.3 2178.6,336.6 2178.8,337.7 2178.9,340.4 2179.0,341.5 2179.3,344.2 2179.5,345.3 2179.8,347.9 2180.0,349.2 2180.3,351.7 2180.5,353.1 2180.8,355.3 2181.0,356.8 2181.3,359.2 2181.5,360.4 2181.8,362.9 2182.0,364.3 2182.3,366.7 2182.5,368.2 2182.8,370.5 2183.0,371.9 2183.3,374.6 2183.5,375.6 2183.7,378.5 2183.9,379.6 2184.0,382.4 2184.2,383.4 2184.4,385.7 2184.6,387.2 2184.8,389.6 2185.0,391.0 2185.2,393.3 2185.4,394.5 2185.6,397.3 2185.8,398.3 2186.0,400.9 2186.1,401.8 2186.3,404.5 2186.5,405.7 2186.7,408.1 2186.9,409.2 2187.1,411.7 2187.3,412.6 2187.5,415.1 2187.7,416.1 2187.9,419.0 2188.1,420.1 2188.3,422.3 2188.5,423.3 2188.7,426.1 2188.9,426.8 2189.1,429.3 2189.3,430.5 2189.4,433.0 2189.6,434.0 2189.8,436.7 2190.0,437.6 2190.2,440.5 2190.4,441.5 2190.6,444.1 2190.7,445.1 2190.9,447.8 2191.0,448.7 2191.2,451.4 2191.3,452.3 2191.5,454.8 2191.6,456.0 2191.8,458.7 2191.9,459.7 2192.1,462.0 2192.2,463.2 2192.4,466.0 2192.5,466.9 2192.7,469.6 2192.8,470.7 2193.0,473.1 2193.1,474.5 2193.3,476.9 2193.8,478.1 2194.4,480.6 2195.0,482.1 2195.6,484.6 2196.1,486.0 2196.7,488.4 2197.3,489.6 2197.8,492.1 2198.4,493.5 2199.0,496.1 2199.3,493.5 2199.5,492.2 2199.8,489.9 2200.1,488.6 2200.4,486.2 2200.7,485.1 2201.0,482.4 2201.3,481.5 2201.5,479.1 2201.8,478.0 2202.1,475.3 2202.4,474.2 2202.7,471.6 2203.0,470.7 2203.3,468.1 2204.0,466.4 2204.7,463.9 2205.4,462.5 2206.1,460.0 2206.8,458.4 2207.5,455.7 2207.6,454.4 2207.7,451.8 2207.8,450.6 2207.9,447.9 2208.0,446.7 2208.1,444.1 2208.2,443.1 2208.3,440.2 2208.4,439.3 2208.5,436.5 2208.6,435.4 2208.7,432.8 2208.8,431.6 2208.9,428.8 2209.0,427.9 2209.3,425.5 2209.7,424.2 2210.0,421.7 2210.4,420.5 2210.7,417.6 2211.1,416.6 2211.4,414.0 2211.8,412.9 2212.2,410.1 2212.5,408.9 2212.9,406.3 2213.2,405.4 2213.4,402.8 2213.6,401.8 2213.7,399.0 2213.9,398.1 2214.1,395.6 2214.2,394.2 2214.4,392.0 2214.6,390.7 2214.7,388.0 2214.9,387.2 2215.1,384.6 2215.2,383.6 2215.4,380.8 2215.6,379.5 2215.7,377.3 2215.9,376.1 2216.1,373.6 2216.3,372.3 2216.5,369.8 2216.8,368.7 2217.0,366.4 2217.2,365.2 2217.4,362.8 2217.7,361.7 2217.9,359.3 2218.1,358.2 2218.3,355.6 2218.6,354.6 2218.8,352.1 2219.0,351.0 2219.2,348.5 2219.5,347.4 2219.7,345.0 2219.9,343.8 2220.1,341.2 2220.4,340.2 2220.7,341.1 2221.0,343.9 2221.3,345.1 2221.6,347.5 2221.9,348.5 2222.3,351.4 2222.6,352.6 2222.9,355.1 2223.2,355.9 2223.3,358.5 2223.4,359.9 2223.5,362.3 2223.5,363.5 2223.6,365.9 2223.7,367.2 2223.8,369.7 2223.9,370.6 2223.9,373.2 2224.0,374.3 2224.1,376.9 2224.2,378.1 2224.3,380.3 2224.3,381.3 2224.4,383.9 2224.5,384.9 2224.6,387.7 2224.7,388.7 2224.7,391.2 2224.8,392.5 2224.9,394.9 2225.0,396.0 2225.0,398.4 2225.1,399.4 2225.2,402.2"/>
<polyline stroke="#f00" points="165.5,363.9 165.2,365.8 167.1,363.3 169.0,365.0 170.9,362.6 172.8,364.8 174.7,362.9 176.6,363.9 178.5,361.7 180.4,363.0 182.3,361.6 184.2,363.4 186.1,361.5 188.0,365.4 189.9,363.4 191.8,367.7 193.7,365.3 195.6,367.9 197.5,364.7 199.4,368.4 201.3,366.5 203.2,368.2 205.1,366.1 207.0,369.1 208.9,365.8 210.8,367.3 212.7,365.3 214.6,367.8 216.5,364.8 218.4,366.6 220.3,365.0 222.2,366.0 224.1,365.1 226.0,367.7 227.9,367.0 229.8,367.5 231.7,363.1 233.7,364.5 235.6,360.9 237.5,363.3 239.4,361.7 241.3,362.9 243.2,360.0 245.1,362.7 247.0,359.9 248.9,362.2 250.8,360.0 252.7,361.8 254.4,360.9 256.2,364.1 257.9,363.3 259.7,364.9 261.4,361.8 263.2,364.4 264.9,362.7 266.7,365.8 268.5,365.8 270.2,367.6 272.0,366.8 273.7,368.2 275.5,366.9 277.4,369.1 279.3,366.2 281.2,367.3 283.1,366.4 285.0,368.4 286.9,366.7 288.8,369.3 290.7,368.6 292.6,371.1 294.5,369.1 296.4,370.5 298.3,367.6 300.2,369.2 302.1,366.3 304.0,367.8 305.9,366.1 307.8,369.2 309.7,367.2 311.6,370.6 313.5,368.1 315.4,370.6 317.3,367.8 319.2,370.1 321.1,368.4 322.8,371.3 324.6,369.8 326.3,372.3 328.0,370.2 329.7,373.0 331.5,372.2 333.2,375.6 334.9,373.8 336.7,377.6 338.4,375.5 340.1,378.8 341.4,378.0 342.6,381.2 343.9,382.0 345.2,385.3 346.5,384.8 347.7,388.8 349.0,388.3 350.3,392.7 351.5,391.3 352.5,395.9 353.4,395.3 354.4,399.8 355.3,397.5 356.3,401.9 357.2,400.0 358.2,404.1 359.1,402.7 360.1,405.9 361.0,406.4 362.0,410.4 362.9,409.8 363.9,413.5 364.8,414.3 365.8,418.2 366.7,417.0 367.7,420.4 368.6,420.2 369.6,423.9 370.5,423.1 371.5,427.3 372.4,426.2 373.4,429.5 374.3,429.5 375.3,433.5 376.2,433.0 377.2,437.7 378.1,437.0 379.1,440.1 380.0,440.4 381.0,443.4 381.9,443.1 382.9,446.4 383.8,446.2 384.8,449.8 385.7,450.1 386.8,453.4 387.9,452.7 389.0,457.5 390.1,456.0 391.2,460.9 392.3,459.0 393.3,463.8 394.4,462.2 395.5,465.6 396.6,465.2 397.7,469.0 398.8,467.5 399.9,471.0 401.0,469.3 402.2,472.5 403.5,472.9 404.8,475.8 406.0,476.5 407.3,479.9 408.6,479.3 409.8,482.9 411.1,480.7 412.4,483.7 413.6,483.1 414.9,486.4 416.2,486.2 417.5,490.4 418.9,489.3 420.2,493.6 421.6,492.6 422.9,497.1 424.3,495.5 425.7,499.3 427.0,498.5 428.4,499.9 429.7,497.7 431.1,501.4 432.5,499.3 433.8,502.6 435.2,502.3 436.6,507.2 438.1,506.7 439.6,509.0 441.0,509.5 442.5,511.1 443.9,511.7 445.4,513.3 446.9,514.0 448.3,515.4 449.8,516.1 451.3,517.7 452.7,518.7 454.2,520.3 455.9,521.1 457.6,522.5 459.3,523.1 460.9,524.7 462.6,525.3 464.3,526.7 466.0,527.6 467.7,529.1 469.4,529.7 471.3,530.3 473.2,530.3 475.1,531.2 477.0,531.3 478.9,532.3 480.8,532.5 482.7,533.2 484.6,533.3 486.5,533.2 488.4,532.4 490.3,532.2 492.2,531.4 494.1,531.1 496.0,530.2 497.9,530.1 499.8,529.4 501.5,528.6 503.2,527.2 504.9,526.5 506.6,525.1 508.3,524.5 509.9,523.1 511.6,522.4 513.3,521.2 515.0,520.5 516.5,518.9 518.1,518.2 519.6,516.8 521.1,515.9 522.6,514.3 524.1,513.5 525.7,512.0 527.2,511.3 528.7,509.6 530.2,508.7 531.7,507.1 533.2,506.3 534.6,504.7 536.1,503.9 537.5,502.3 539.0,501.6 540.5,500.1 541.9,499.4 543.4,498.0 544.9,497.3 546.3,495.9 547.8,495.1 549.2,493.4 550.8,493.0 552.4,491.5 554.0,490.9 555.6,489.7 557.2,489.0 558.7,487.7 560.3,487.1 561.9,485.9 563.5,485.2 565.1,483.8 566.7,483.1 568.3,481.8 570.0,481.0 571.7,480.0 573.4,479.6 575.2,478.4 576.9,478.0 578.6,476.7 580.3,476.3 582.1,475.2 583.8,474.5 585.5,473.3 587.3,472.7 589.0,471.4 590.7,471.0 592.4,469.8 594.2,469.6 595.9,468.3 597.6,467.8 599.4,466.5 601.1,465.9 602.8,464.7 604.5,464.2 606.3,463.1 607.9,462.5 609.4,461.1 611.0,460.5 612.6,459.2 614.2,458.8 615.8,457.2 617.4,456.8 618.9,455.4 620.5,454.8 622.1,453.6 623.7,453.2 625.3,451.9 626.9,451.2 628.5,450.0 630.0,449.3 631.6,447.9 633.2,447.2 634.8,445.6 636.4,444.8 638.0,443.7 639.5,443.2 641.1,442.1 642.7,441.5 644.3,440.3 645.9,439.8 647.5,438.7 649.0,438.2 650.6,436.9 652.2,436.3 653.8,435.0 655.4,434.4 657.0,433.4 658.6,433.0 660.1,431.8 661.7,431.2 663.3,430.0 665.0,430.0 666.8,428.8 668.5,428.4 670.2,427.4 671.9,426.8 673.7,426.0 675.4,425.7 677.1,425.0 678.9,424.8 680.6,423.8 682.3,423.4 684.0,422.6 685.8,422.6 687.5,421.5 689.2,421.5 691.0,420.5 692.7,420.3 694.4,419.1 696.1,418.8 697.9,418.0 699.6,418.1 701.3,417.3 703.2,417.3 705.1,416.2 707.0,416.2 708.9,415.4 710.8,415.1 712.7,414.0 714.6,413.8 716.5,413.2 718.4,413.0 720.3,412.3 722.2,412.2 724.0,411.7 725.8,411.7 727.6,410.9 729.4,411.0 731.2,410.4 733.0,410.5 734.8,409.9 736.6,410.1 738.4,409.4 740.3,409.4 742.1,408.9 743.9,408.9 745.7,408.3 747.5,408.3 749.3,407.7 751.1,407.7 752.9,407.0 754.7,407.0 756.6,406.4 758.4,406.3 760.2,405.5 762.0,405.4 763.8,404.9 765.6,404.9 767.4,404.2 769.2,404.6 771.0,404.0 772.8,404.0 774.7,403.4 776.5,403.4 778.3,402.7 780.1,402.8 781.9,402.0 783.7,402.3 785.5,401.7 787.3,401.6 789.1,400.8 791.0,400.8 792.8,400.2 794.6,400.2 796.4,399.5 798.2,399.5 800.0,398.8 801.8,398.7 803.6,397.9 805.4,398.0 807.3,397.4 809.1,397.5 810.9,396.7 812.7,396.8 814.5,396.2 816.3,396.3 818.1,395.7 819.9,395.7 821.7,395.2 823.5,395.2 825.4,394.3 827.2,394.4 829.0,393.7 830.8,393.6 832.6,392.7 834.4,392.8 836.2,392.2 838.0,392.4 839.8,392.0 841.7,391.8 843.5,390.9 845.3,390.8 847.1,390.1 848.9,390.3 850.7,389.9 852.5,390.1 854.3,389.3 856.1,389.4 857.9,388.8 859.8,388.7 861.6,387.9 863.4,387.8 865.2,387.2 867.0,387.0 868.8,386.4 870.6,386.4 872.4,385.7 874.2,385.6 876.1,385.0 877.9,385.2 879.7,384.4 881.5,384.5 883.3,383.9 885.1,384.1 886.9,383.3 888.7,383.3 890.5,382.7 892.4,382.9 894.2,382.1 896.0,382.2 897.8,381.6 899.6,381.7 901.4,381.0 903.2,381.2 905.0,380.4 906.8,380.5 908.6,379.9 910.5,379.9 912.3,379.2 914.1,379.2 916.0,378.6 917.8,378.4 919.6,377.6 921.5,377.7 923.3,376.9 925.2,377.0 927.0,376.4 928.8,376.6 930.7,376.0 932.5,376.0 934.3,375.2 936.2,375.0 938.0,374.3 939.8,374.4 941.6,373.8 943.5,374.1 945.3,373.4 947.1,373.7 948.9,373.2 950.7,373.5 952.5,373.2 954.3,373.3 956.1,372.7 957.9,372.8 959.8,372.0 961.6,372.3 963.4,371.9 965.2,372.4 967.0,371.9 968.8,372.0 970.6,371.5 972.4,371.7 974.2,371.0 976.0,371.3 977.9,370.7 979.7,371.1 981.5,370.8 983.3,371.2 985.1,370.6 986.9,370.9 988.7,370.4 990.5,370.7 992.3,370.4 994.2,370.7 996.0,370.2 997.8,370.4 999.6,370.0 1001.4,370.2 1003.2,369.8 1005.0,370.2 1006.8,369.7 1008.6,370.0 1010.4,369.6 1012.3,369.8 1014.1,369.2 1015.9,369.3 1017.7,368.7 1019.5,368.9 1021.3,368.4 1023.1,368.8 1024.9,368.7 1026.7,368.9 1028.6,368.2 1030.4,368.3 1032.2,368.0 1034.0,368.3 1035.8,367.8 1037.6,368.1 1039.4,367.6 1041.2,368.1 1043.0,367.6 1044.8,367.8 1046.7,367.3 1048.5,367.6 1050.3,367.1 1052.1,367.3 1053.9,367.0 1055.7,367.1 1057.5,366.7 1059.3,367.1 1061.1,366.6 1063.0,366.9 1064.8,366.5 1066.6,366.9 1068.4,366.5 1070.2,366.8 1072.0,366.3 1073.8,366.5 1075.6,366.2 1077.4,366.8 1079.3,366.4 1081.1,366.8 1082.9,366.4 1084.7,366.6 1086.5,366.2 1088.3,366.5 1090.1,366.3 1091.9,366.7 1093.7,366.1 1095.5,366.3 1097.4,365.8 1099.2,366.1 1101.0,365.7 1102.8,365.7 1104.6,365.3 1106.4,365.7 1108.2,365.3 1110.0,365.6 1111.8,365.2 1113.7,365.5 1115.5,365.0 1117.3,365.4 1119.1,365.1 1120.9,365.3 1122.7,365.0 1124.5,365.3 1126.3,364.7 1128.1,364.9 1129.9,364.6 1131.8,365.1 1133.6,364.7 1135.4,365.2 1137.2,364.8 1139.0,365.2 1140.8,364.7 1142.6,365.1 1144.4,364.7 1146.2,365.0 1148.1,364.7 1149.9,364.9 1151.7,364.8 1153.5,364.9 1155.3,364.4 1157.1,364.3 1158.9,364.1 1160.7,364.3 1162.5,363.9 1164.3,364.4 1166.2,364.0 1168.0,364.4 1169.8,363.9 1171.6,364.3 1173.4,363.9 1175.2,364.1 1177.0,363.6 1178.8,364.0 1180.6,363.8 1182.5,364.1 1184.3,363.6 1186.1,363.8 1187.9,363.4 1189.7,363.7 1191.5,363.1 1193.3,363.4 1195.1,363.0 1196.9,363.4 1198.8,362.9 1200.6,363.2 1202.4,362.8 1204.2,363.0 1206.0,362.5 1207.8,363.0 1209.6,363.0 1211.4,363.5 1213.2,363.0 1215.0,363.3 1216.9,362.7 1218.7,363.0 1220.5,362.8 1222.3,363.1 1224.1,362.9 1225.9,363.4 1227.7,363.0 1229.5,363.2 1231.3,362.9 1233.2,363.3 1235.0,363.1 1236.8,363.6 1238.6,363.0 1240.4,363.2 1242.2,363.1 1244.0,363.4 1245.8,362.9 1247.6,363.4 1249.4,362.8 1251.3,363.3 1253.1,362.8 1254.9,363.0 1256.7,362.6 1258.5,363.0 1260.3,362.6 1262.1,363.1 1263.9,363.0 1265.7,363.4 1267.6,363.0 1269.4,363.3 1271.2,363.0 1273.0,363.2 1274.8,362.9 1276.6,363.2 1278.4,362.8 1280.2,363.3 1282.0,362.9 1283.8,363.3 1285.7,362.9 1287.5,363.4 1289.3,363.1 1291.1,363.5 1292.9,363.1 1294.7,363.6 1296.5,363.2 1298.3,363.5 1300.1,363.1 1302.0,363.5 1303.8,363.0 1305.6,363.3 1307.4,362.9 1309.2,363.3 1311.0,363.1 1312.8,363.5 1314.6,363.1 1316.4,363.4 1318.3,363.1 1320.1,363.5 1321.9,363.0 1323.7,363.3 1325.5,362.8 1327.3,363.2 1329.1,362.8 1330.9,363.5 1332.7,363.0 1334.5,363.3 1336.4,362.9 1338.2,363.2 1340.0,363.0 1341.8,363.5 1343.6,363.2 1345.4,363.7 1347.2,363.2 1349.0,363.8 1350.8,363.3 1352.7,363.7 1354.5,363.4 1356.3,363.8 1358.1,363.5 1359.9,363.9 1361.7,363.5 1363.5,364.1 1365.3,363.9 1367.1,364.5 1368.9,364.1 1370.8,364.3 1372.6,364.0 1374.4,364.3 1376.2,364.0 1378.0,364.5 1379.8,364.5 1381.6,365.5 1383.4,364.6 1385.2,365.9 1387.1,365.0 1388.9,365.3 1390.7,364.6 1392.5,365.2 1394.3,364.7 1396.2,365.3 1398.1,365.0 1400.0,365.2 1401.9,364.2 1403.8,364.7 1405.7,363.9 1407.6,364.6 1409.5,363.7 1411.4,364.0 1413.3,363.2 1415.2,363.3 1417.1,362.1 1419.0,362.9 1420.9,362.2 1422.8,363.6 1424.7,363.4 1426.6,364.5 1428.5,364.4 1430.4,364.6 1432.3,364.3 1434.2,365.0 1436.1,364.2 1438.0,365.5 1439.9,365.1 1441.8,365.4 1443.7,364.8 1445.6,365.0 1447.5,364.3 1449.4,365.9 1451.3,365.5 1453.2,366.4 1455.1,366.2 1457.0,367.8 1458.9,367.6 1460.8,368.9 1462.7,368.5 1464.6,369.6 1466.5,368.9 1468.4,369.8 1470.3,369.6 1472.0,371.7 1473.7,372.1 1475.4,374.3 1477.1,374.4 1478.8,376.1 1480.5,376.5 1482.2,378.5 1483.9,378.3 1485.6,380.2 1486.7,380.9 1487.8,383.0 1489.0,383.9 1490.1,385.9 1491.3,386.7 1492.4,388.6 1493.5,389.5 1494.7,391.7 1495.8,392.9 1497.0,395.0 1497.8,396.1 1498.7,398.4 1499.6,399.7 1500.5,402.1 1501.3,402.5 1502.2,405.0 1503.1,405.5 1504.0,408.0 1504.9,408.5 1505.7,411.0 1506.6,411.5 1507.5,414.2 1508.4,414.8 1509.2,417.2 1510.1,418.2 1511.0,421.1 1511.8,422.0 1512.7,424.3 1513.5,425.3 1514.4,427.9 1515.3,429.0 1516.1,431.7 1517.0,432.6 1517.9,435.0 1519.0,436.1 1520.0,438.8 1521.1,439.6 1522.2,442.2 1523.3,443.6 1524.4,446.0 1525.5,447.1 1527.0,446.2 1528.5,444.3 1530.0,444.0 1531.6,441.8 1533.1,441.1 1534.1,438.7 1535.2,437.8 1536.2,435.4 1537.3,434.5 1538.4,432.1 1539.4,431.3 1540.5,428.6 1541.5,427.8 1542.6,425.5 1544.0,424.4 1545.4,422.0 1546.9,421.2 1548.3,419.0 1549.7,418.4 1551.1,416.3 1552.6,416.2 1554.0,414.0 1555.9,413.9 1557.8,412.1 1559.7,411.6 1561.6,410.5 1563.5,410.6 1565.4,410.2 1567.3,411.1 1569.2,410.5 1571.1,411.1 1573.0,410.8 1574.9,411.8 1576.4,409.7 1577.9,409.4 1579.5,407.1 1581.0,406.3 1582.5,404.3 1584.4,404.7 1586.3,403.6 1588.2,403.4 1590.1,402.1 1592.0,402.4 1593.4,400.4 1594.7,399.7 1596.1,397.5 1597.4,397.3 1598.8,395.2 1600.2,395.1 1601.5,393.3 1603.1,394.9 1604.7,395.2 1606.3,396.8 1607.9,397.2 1609.4,398.9 1611.0,399.4 1612.7,400.6 1614.4,400.4 1616.1,401.9 1617.8,402.2 1619.5,403.4 1621.2,403.5 1622.9,405.2 1624.5,405.5 1626.2,407.2 1628.1,405.7 1630.0,405.9 1631.9,405.0 1633.8,405.2 1635.7,404.3 1637.6,404.6 1639.5,403.4 1641.4,404.1 1642.6,405.0 1643.8,407.1 1645.0,408.1 1646.2,410.2 1647.4,411.3 1648.6,413.3 1649.8,414.4 1651.0,416.6 1652.4,416.9 1653.8,418.7 1655.2,419.0 1656.7,420.6 1658.1,421.3 1659.5,423.3 1660.9,423.8 1662.4,425.5 1663.3,426.7 1664.3,429.0 1665.3,430.1 1666.2,432.5 1667.2,433.8 1668.2,436.2 1669.2,436.8 1670.1,439.3 1671.1,440.1 1671.8,439.3 1672.6,436.6 1673.3,435.3 1674.1,432.9 1674.8,431.8 1675.6,429.0 1676.3,428.2 1677.0,425.2 1677.8,424.2 1678.5,421.8 1680.0,421.4 1681.4,419.2 1682.8,418.6 1684.2,416.5 1685.7,416.0 1687.1,414.3 1689.0,416.1 1690.9,416.6 1692.8,418.0 1694.7,417.7 1696.6,418.6 1698.5,418.8 1700.1,420.4 1701.7,421.2 1703.3,422.9 1704.8,423.2 1706.4,425.2 1708.0,425.8 1709.6,427.3 1711.2,428.0 1712.8,429.8 1713.9,430.7 1715.0,432.6 1716.2,433.6 1717.3,435.8 1718.5,436.6 1719.6,438.8 1720.7,439.9 1721.9,442.2 1723.0,442.9 1724.2,445.4 1724.9,446.4 1725.6,448.9 1726.3,449.7 1727.0,452.1 1727.7,453.4 1728.4,456.0 1729.2,457.1 1729.9,459.5 1730.6,460.3 1731.3,462.8 1731.7,464.2 1732.2,466.7 1732.6,467.4 1733.0,470.2 1733.5,471.2 1733.9,473.5 1734.4,474.8 1734.8,476.9 1735.2,478.1 1735.7,480.2 1736.1,481.3 1736.6,483.8 1737.0,484.6 1737.3,487.1 1737.5,488.0 1737.8,490.7 1738.1,491.6 1738.3,494.1 1738.6,494.8 1738.9,497.3 1739.1,498.5 1739.4,500.8 1739.7,501.9 1739.9,504.3 1740.2,505.3 1740.5,507.7 1740.7,508.8 1741.0,511.6 1741.3,512.6 1741.5,515.5 1741.7,516.2 1741.8,519.1 1742.0,520.2 1742.2,522.9 1742.4,524.1 1742.6,526.9 1742.8,528.1 1743.0,530.7 1743.2,531.7 1743.4,534.5 1743.6,535.9 1743.7,538.2 1743.9,539.7 1744.1,542.1 1744.3,543.4 1744.5,546.3 1744.7,547.3 1744.9,550.1 1745.1,551.0 1745.3,553.9 1745.5,554.9 1745.6,557.5 1745.8,558.9 1746.0,561.5 1746.2,562.8 1746.4,565.4 1746.6,566.6 1746.8,569.1 1747.0,570.4 1746.9,572.9 1746.7,573.9 1746.6,576.6 1746.5,577.8 1746.4,580.3 1746.3,581.4 1746.1,583.9 1746.0,585.0 1745.9,587.9 1745.8,588.7 1745.7,591.4 1745.6,592.3 1745.7,595.3 1745.8,596.2 1745.9,598.6 1746.0,600.0 1746.2,602.5 1746.3,603.8 1746.4,606.1 1746.5,607.4 1746.7,610.0 1746.8,611.1 1746.9,613.9 1747.0,614.9 1747.2,617.5 1747.3,618.6 1747.4,620.9 1747.5,622.0 1747.7,624.6 1747.8,626.2 1747.9,628.6 1748.0,629.7 1748.2,632.3 1748.3,633.4 1748.4,636.0 1748.5,636.9 1748.7,639.6 1748.8,640.6 1748.9,643.2 1749.0,644.5 1749.1,646.8 1749.3,648.4 1749.4,650.7 1749.5,652.1 1749.6,654.5 1749.8,655.5 1749.9,658.0 1750.0,659.4 1750.1,661.7 1750.3,662.9 1750.4,665.6 1750.5,666.8 1750.6,669.4 1750.8,670.5 1750.9,672.8 1751.0,673.9 1751.1,676.8 1751.3,677.9 1751.4,680.3 1751.5,681.7 1751.6,683.9 1751.8,685.3 1751.9,687.8 1752.0,688.9 1752.1,691.4 1752.2,692.6 1752.4,695.1 1752.5,696.5 1752.6,699.1 1752.7,700.1 1752.9,702.8 1753.0,703.7 1753.1,706.3 1753.2,707.6 1753.4,709.9 1753.5,711.1 1753.6,714.0 1753.7,714.8 1753.9,717.6 1754.0,718.7 1754.1,720.9 1754.3,722.1 1754.6,724.7 1754.8,726.0 1755.0,728.1 1755.2,729.6 1755.5,731.7 1755.7,732.8 1755.9,735.7 1756.1,736.7 1756.4,739.2 1756.6,739.9 1756.8,742.4 1757.0,743.6 1757.3,746.2 1757.5,747.1 1757.7,749.8 1757.9,751.1 1758.2,753.5 1758.4,754.5 1758.7,757.3 1759.1,758.2 1759.5,760.7 1759.8,761.7 1760.2,764.4 1760.5,765.7 1760.9,768.3 1761.2,769.5 1761.6,771.8 1761.9,773.1 1762.3,775.4 1762.7,776.6 1763.0,779.2 1763.4,780.7 1763.7,782.9 1764.1,784.2 1764.7,786.3 1765.4,787.8 1766.1,790.1 1766.7,790.8 1767.4,793.5 1768.0,794.5 1768.7,796.9 1769.4,797.7 1770.0,800.2 1770.7,801.1 1771.3,803.7 1772.0,804.3 1772.6,806.7 1773.4,808.0 1774.2,810.3 1774.9,810.9 1775.7,813.1 1776.5,814.0 1777.2,816.6 1778.0,817.7 1778.8,819.8 1779.6,821.0 1780.3,823.3 1781.1,824.5 1781.9,826.5 1782.6,827.7 1783.4,830.1 1784.2,831.3 1785.0,833.7 1785.7,834.7 1786.5,837.3 1787.3,838.0 1788.1,840.7 1788.8,841.5 1789.6,843.9 1790.4,845.0 1791.2,847.4 1792.0,848.4 1792.9,850.7 1793.7,852.0 1794.6,854.5 1795.5,855.0 1796.3,857.6 1797.2,858.3 1798.0,861.0 1798.9,861.8 1799.7,864.0 1800.4,865.2 1801.2,867.4 1801.9,868.8 1802.6,871.1 1803.3,871.9 1804.0,874.8 1804.7,875.6 1805.4,878.0 1806.2,879.1 1806.9,881.4 1807.6,882.3 1808.3,884.3 1808.8,885.6 1809.4,887.7 1809.9,888.6 1810.5,891.4 1811.0,892.3 1811.6,894.6 1812.1,895.6 1812.7,897.9 1813.2,899.2 1813.8,901.7 1814.3,902.5 1814.9,905.3 1815.4,906.1 1815.8,908.5 1816.2,909.7 1816.6,912.3 1817.0,913.5 1817.5,915.9 1817.9,917.2 1818.3,919.8 1818.7,920.6 1819.1,923.4 1819.5,924.7 1819.9,926.9 1820.3,928.3 1820.7,930.9 1821.1,931.7 1821.4,934.4 1821.7,935.7 1821.9,937.8 1822.2,939.0 1822.5,941.5 1822.7,942.6 1823.0,945.0 1823.3,946.0 1823.5,948.6 1823.8,949.6 1824.1,952.5 1824.3,953.1 1824.6,956.0 1824.9,957.0 1825.1,959.4 1825.4,960.6 1825.7,962.9 1825.9,964.1 1826.2,966.4 1826.5,967.5 1826.7,970.1 1827.0,971.1 1827.3,973.7 1827.5,975.0 1827.8,977.2 1828.1,978.6 1828.3,980.9 1828.6,982.0 1828.9,984.6 1829.1,985.5 1829.4,987.9 1829.7,989.3 1829.9,991.7 1830.1,992.8 1830.2,995.6 1830.4,996.6 1830.6,999.4 1830.8,1000.7 1831.0,1003.2 1831.2,1004.5 1831.4,1006.8 1831.6,1007.9 1831.8,1010.8 1832.0,1011.6 1832.1,1014.2 1832.3,1015.7 1832.5,1018.4 1833.1,1019.0 1833.7,1021.4 1834.2,1022.6 1834.8,1024.8 1835.4,1025.6 1836.0,1028.2 1836.5,1029.3 1837.1,1031.7 1837.7,1032.4 1838.2,1034.7 1840.1,1033.0 1842.0,1032.7 1843.9,1031.1 1844.3,1030.1 1844.8,1027.6 1845.2,1026.6 1845.6,1024.1 1846.0,1022.9 1846.4,1020.4 1846.8,1019.3 1847.2,1016.9 1847.6,1015.9 1848.0,1013.4 1848.4,1012.4 1848.8,1009.5 1849.2,1008.4 1849.6,1006.1 1849.8,1004.9 1850.0,1002.2 1850.2,1001.2 1850.4,998.7 1850.6,997.6 1850.8,995.0 1850.9,993.7 1851.1,991.2 1851.3,989.7 1851.5,987.3 1851.7,986.3 1851.9,983.5 1852.1,982.6 1852.2,979.8 1852.4,978.8 1852.6,976.1 1852.8,975.0 1853.0,972.3 1853.2,971.1 1853.4,968.6 1853.5,967.6 1853.7,964.8 1853.9,963.8 1854.0,961.2 1854.1,960.3 1854.2,957.5 1854.3,956.4 1854.4,953.7 1854.5,952.6 1854.6,950.2 1854.7,949.1 1854.7,946.7 1854.8,945.2 1854.9,942.7 1855.0,941.9 1855.1,939.0 1855.2,938.0 1855.3,935.4 1855.4,934.1 1855.5,931.9 1855.6,930.8 1855.7,927.9 1855.8,926.8 1855.8,924.4 1855.9,923.1 1856.0,920.8 1856.1,919.5 1856.2,917.2 1856.3,915.7 1856.4,913.2 1856.5,912.2 1856.6,909.6 1856.7,908.7 1856.8,905.9 1856.9,904.9 1857.0,902.5 1857.0,901.2 1857.1,898.7 1857.2,897.7 1857.3,895.2 1857.4,893.8 1857.5,891.0 1857.6,890.0 1857.7,887.7 1857.8,886.3 1857.9,884.1 1858.0,882.9 1858.1,880.3 1858.1,879.2 1858.2,876.4 1858.3,875.2 1858.4,872.9 1858.5,871.8 1858.6,869.3 1858.7,867.9 1858.8,865.7 1858.9,864.1 1859.0,861.8 1859.1,860.8 1859.2,858.0 1859.3,856.9 1859.3,854.2 1859.4,853.2 1859.5,850.7 1859.6,849.4 1859.7,846.9 1859.8,846.0 1859.9,843.2 1860.0,842.0 1860.1,839.6 1860.2,838.7 1860.3,836.1 1860.4,834.7 1860.4,832.3 1860.5,831.2 1860.6,828.5 1860.7,827.4 1860.8,825.0 1860.9,823.7 1861.0,821.2 1861.1,820.4 1861.2,817.7 1861.3,816.3 1861.4,813.9 1861.5,812.8 1861.6,810.1 1861.6,809.3 1861.7,806.5 1861.8,805.3 1861.9,802.9 1862.0,801.6 1862.1,799.1 1862.2,798.1 1862.3,795.8 1862.4,794.3 1862.5,792.0 1862.6,790.6 1862.7,788.5 1862.9,787.2 1863.0,784.6 1863.2,783.4 1863.3,780.9 1863.4,779.6 1863.6,777.0 1863.7,776.1 1863.9,773.4 1864.0,772.2 1864.1,770.0 1864.3,769.0 1864.4,766.3 1864.5,765.3 1864.7,762.3 1864.8,761.6 1865.0,759.0 1865.1,757.7 1865.2,755.1 1865.4,753.9 1865.5,751.7 1865.6,750.2 1865.8,747.9 1865.9,746.6 1866.1,744.1 1866.2,742.9 1866.3,740.7 1866.5,739.3 1866.6,736.8 1866.7,735.7 1866.9,733.5 1867.0,732.1 1867.2,729.5 1867.3,728.5 1867.4,726.2 1867.6,725.0 1867.7,722.6 1867.9,721.4 1868.0,718.8 1868.1,717.5 1868.3,715.3 1868.4,714.0 1868.5,711.6 1868.7,710.4 1868.8,707.6 1869.0,706.6 1869.1,704.0 1869.2,703.0 1869.4,700.4 1869.5,699.5 1869.6,696.8 1869.8,695.5 1869.9,693.0 1870.1,691.8 1870.2,689.5 1870.3,688.6 1870.5,686.0 1870.6,684.9 1870.8,682.0 1870.9,681.0 1871.0,678.6 1871.2,677.4 1871.4,675.1 1871.6,673.9 1871.8,671.4 1872.0,670.3 1872.1,667.7 1872.3,666.6 1872.5,663.6 1872.7,662.4 1872.9,660.0 1873.1,659.1 1873.3,656.2 1873.4,655.3 1873.6,652.7 1873.8,651.5 1874.0,648.8 1874.2,647.7 1874.4,645.0 1874.6,643.7 1874.7,641.5 1874.9,639.9 1875.1,637.5 1875.3,636.3 1875.6,633.9 1875.9,632.4 1876.2,630.2 1876.4,628.8 1876.7,626.1 1877.0,625.2 1877.3,622.3 1877.6,621.2 1877.9,618.9 1878.2,617.7 1878.4,614.9 1878.7,613.6 1879.0,611.1 1879.3,610.0 1879.6,607.6 1879.9,606.1 1880.2,603.5 1880.4,602.6 1880.7,599.7 1881.0,598.4 1881.4,596.0 1881.8,595.0 1882.1,592.4 1882.5,591.0 1882.9,588.4 1883.3,587.6 1883.6,584.8 1884.0,583.9 1884.4,581.3 1884.8,580.2 1885.1,577.9 1885.5,576.3 1885.9,574.0 1886.3,572.9 1886.6,570.6 1887.0,569.6 1887.4,566.6 1887.8,566.0 1888.1,563.1 1888.1,562.3 1888.1,559.6 1888.1,558.3 1888.1,556.0 1888.1,555.0 1888.1,552.4 1889.1,551.7 1890.0,548.9 1891.0,548.4 1891.9,546.2 1892.9,545.3 1893.8,543.1 1895.6,543.3 1897.4,541.3 1899.2,541.1 1901.0,538.7 1902.7,539.8 1904.4,540.1 1906.1,541.5 1907.8,541.1 1909.5,542.3 1910.7,540.2 1911.9,539.5 1913.1,537.1 1914.3,536.6 1915.5,534.4 1916.7,533.5 1917.6,531.3 1918.6,530.2 1919.5,527.8 1920.5,527.0 1921.4,524.7 1922.4,523.8 1923.5,521.8 1924.7,521.2 1925.9,518.8 1927.1,518.3 1928.3,516.0 1929.5,515.4 1930.7,513.5 1931.9,512.7 1933.1,510.7 1934.2,510.0 1935.4,507.8 1936.6,506.9 1938.3,505.3 1940.0,505.3 1941.7,503.6 1943.5,503.2 1945.2,501.7 1947.0,501.1 1948.7,499.0 1950.5,498.7 1952.3,496.8 1954.1,497.9 1955.9,497.6 1957.6,498.7 1959.4,498.2 1960.9,498.2 1962.3,496.4 1963.7,496.0 1965.1,494.1 1966.6,494.3 1968.0,492.4 1969.6,494.1 1971.3,493.9 1973.0,495.3 1974.6,495.3 1976.3,497.1 1978.0,497.3 1978.8,499.4 1979.6,500.5 1980.4,503.3 1981.2,504.4 1982.0,507.0 1982.9,508.4 1983.7,510.8 1984.2,511.8 1984.7,514.3 1985.3,515.5 1985.8,517.9 1986.3,519.3 1986.9,521.7 1987.4,522.6 1987.9,525.6 1988.3,526.7 1988.7,529.3 1989.1,530.3 1989.5,532.8 1989.9,534.1 1990.3,536.6 1990.7,538.0 1991.1,540.6 1991.4,541.6 1991.8,544.1 1992.2,545.2 1992.9,547.7 1993.7,548.6 1994.4,550.5 1995.1,551.5 1995.8,553.8 1996.5,554.6 1997.2,556.7 1997.9,557.6 1998.6,560.1 1999.4,561.1 2001.1,563.3 2002.9,563.7 2004.7,565.8 2006.5,566.3 2008.3,566.7 2010.0,565.0 2011.8,565.1 2013.6,563.7 2014.5,562.6 2015.3,560.1 2016.2,559.3 2017.0,556.6 2017.9,555.4 2018.7,553.3 2019.6,552.0 2020.5,549.7 2021.3,548.3 2022.2,545.8 2023.6,547.4 2025.0,547.8 2026.4,549.4 2027.9,550.1 2029.3,551.7 2029.9,552.9 2030.6,555.4 2031.2,556.6 2031.9,559.2 2032.5,560.4 2033.2,562.9 2033.8,564.0 2034.5,566.5 2035.1,567.2 2035.8,569.7 2036.4,570.5 2036.8,573.1 2037.2,574.1 2037.6,576.4 2038.1,577.6 2038.5,580.3 2038.9,581.3 2039.3,583.8 2039.7,584.8 2040.1,587.5 2040.5,588.2 2040.9,590.8 2041.3,591.7 2041.7,594.3 2042.1,595.6 2042.4,598.3 2042.7,599.4 2043.0,601.7 2043.4,602.7 2043.7,605.3 2044.0,606.8 2044.3,609.2 2044.6,610.3 2044.9,612.9 2045.2,613.7 2045.5,616.5 2045.8,617.7 2046.1,620.0 2046.4,621.2 2047.0,623.5 2047.5,624.9 2048.1,627.4 2048.6,628.1 2049.1,630.5 2049.7,631.8 2050.2,634.3 2050.8,635.4 2051.3,637.5 2051.9,638.8 2052.4,641.1 2053.0,642.0 2053.5,644.3 2054.1,645.7 2054.6,647.9 2055.1,648.9 2055.6,651.5 2056.1,652.4 2056.6,655.2 2057.2,656.1 2057.7,658.8 2058.2,659.7 2058.7,662.0 2059.2,663.2 2059.8,665.5 2060.3,666.8 2060.8,669.3 2061.3,670.2 2061.8,672.7 2062.4,673.9 2062.9,676.6 2063.4,677.4 2063.9,680.0 2064.4,681.1 2064.9,683.5 2065.4,684.5 2065.8,687.2 2066.3,688.5 2066.7,690.6 2067.1,691.9 2067.6,694.2 2068.0,695.2 2068.5,697.9 2068.9,698.9 2069.3,701.2 2069.8,702.3 2070.2,704.8 2070.6,706.2 2071.3,708.8 2071.9,709.8 2072.6,712.2 2073.2,713.4 2073.9,716.2 2074.5,717.5 2075.2,720.0 2075.8,721.4 2076.5,723.9 2077.1,724.9 2077.8,727.1 2078.1,728.5 2078.5,731.1 2078.8,732.0 2079.2,734.8 2079.6,735.4 2079.9,738.3 2080.3,739.6 2080.6,742.1 2081.0,743.2 2081.3,745.7 2081.7,746.8 2082.1,749.3 2082.5,750.4 2082.9,753.2 2083.4,754.0 2083.8,756.7 2084.2,757.7 2084.7,760.6 2085.1,761.6 2085.6,764.2 2086.0,765.0 2086.4,767.8 2086.9,768.7 2087.3,771.4 2087.8,772.6 2088.1,775.2 2088.4,776.2 2088.7,778.6 2089.0,779.8 2089.3,782.8 2089.6,783.6 2089.9,786.4 2090.2,787.3 2090.5,789.9 2090.8,791.2 2091.1,793.7 2091.4,794.5 2091.7,797.3 2092.0,798.2 2092.4,800.9 2092.8,801.9 2093.3,804.7 2093.7,805.9 2094.1,808.3 2094.5,809.5 2094.9,811.9 2095.3,812.9 2095.7,815.1 2096.1,816.2 2096.5,818.9 2096.9,819.7 2097.3,822.3 2097.7,823.2 2098.3,825.6 2098.8,826.4 2099.3,829.1 2099.8,829.8 2100.3,832.8 2100.8,833.9 2101.4,836.4 2101.9,837.6 2102.4,840.3 2102.9,841.7 2103.4,844.0 2105.3,844.8 2107.2,846.3 2109.1,846.4 2111.3,845.0 2113.4,843.2 2114.4,845.3 2115.5,846.6 2116.5,849.2 2117.5,850.2 2118.5,852.4 2119.5,853.3 2120.6,856.1 2122.3,856.3 2124.1,858.5 2125.9,858.5 2127.7,859.9 2128.9,857.2 2130.1,856.5 2131.3,854.5 2132.6,854.1 2133.8,851.7 2135.0,851.5 2136.2,849.2 2136.8,848.6 2137.4,846.1 2137.9,845.0 2138.5,842.5 2139.1,841.8 2139.7,839.2 2140.2,838.3 2140.8,835.7 2141.4,834.7 2141.9,832.5 2142.5,831.6 2143.1,829.0 2143.7,828.2 2144.2,825.8 2144.8,824.8 2145.2,822.0 2145.6,821.1 2146.0,818.7 2146.4,817.3 2146.8,815.0 2147.2,813.7 2147.6,811.2 2148.0,810.2 2148.5,807.6 2148.9,806.1 2149.3,803.6 2149.7,802.3 2150.1,799.9 2150.5,798.8 2150.8,795.9 2151.1,795.1 2151.4,792.5 2151.7,790.8 2152.0,788.6 2152.3,787.4 2152.6,784.6 2152.9,783.3 2153.2,781.0 2153.5,779.8 2153.9,777.2 2154.2,776.2 2154.5,773.5 2154.8,772.3 2155.1,769.9 2155.5,768.9 2155.8,766.0 2156.2,765.0 2156.6,762.4 2156.9,761.5 2157.3,759.0 2157.6,757.9 2158.0,755.3 2158.3,754.3 2158.7,751.4 2159.0,750.7 2160.0,748.3 2161.0,746.9 2161.9,744.5 2162.9,743.6 2163.8,740.8 2164.8,740.1 2165.9,740.6 2167.0,742.5 2168.2,743.3 2169.3,745.6 2170.5,746.4 2170.9,749.3 2171.3,750.6 2171.7,752.9 2172.1,754.3 2172.5,756.6 2172.9,757.8 2173.3,760.4 2173.7,761.5 2174.1,764.0 2174.5,765.4 2174.9,767.9 2175.3,768.7 2175.8,771.6 2176.2,772.6 2176.5,775.3 2176.8,776.3 2177.1,778.9 2177.4,779.9 2177.7,782.6 2178.0,783.8 2178.3,786.0 2178.6,787.3 2178.9,790.0 2179.2,791.0 2179.5,793.3 2179.8,794.8 2180.1,797.0 2180.4,798.4 2180.7,800.5 2180.9,801.7 2181.1,804.1 2181.3,805.6 2181.5,808.2 2181.7,809.2 2181.9,811.9 2182.1,812.9 2182.4,815.5 2182.6,816.4 2182.8,818.9 2183.0,820.2 2183.2,822.9 2183.4,823.7 2183.6,826.2 2183.9,827.3 2184.1,829.9 2184.3,831.2 2184.5,833.6 2184.7,835.0 2184.9,837.4 2185.1,838.7 2185.4,840.8 2185.6,842.1 2185.8,844.7 2186.0,845.6 2186.2,848.3 2186.4,849.6 2186.6,852.0 2186.9,852.9 2187.1,855.8 2187.3,856.9 2187.5,859.3 2187.7,860.2 2187.9,863.1 2188.1,864.2 2188.4,866.5 2188.6,867.7 2188.8,870.4 2189.0,871.4 2189.3,874.0 2189.5,874.8 2189.8,877.3 2190.1,878.4 2190.3,881.0 2190.6,881.8 2190.9,884.6 2191.1,885.8 2191.4,888.1 2191.7,889.4 2191.9,891.7 2192.2,892.8 2192.5,895.3 2192.7,896.5 2193.0,898.8 2193.3,900.2 2193.7,903.0 2194.2,904.2 2194.7,906.6 2195.2,908.2 2195.6,910.7 2196.1,911.8 2196.6,914.3 2197.1,915.5 2197.5,918.3 2198.4,915.6 2199.2,914.7 2200.0,912.2 2200.8,911.5 2201.6,909.0 2202.4,908.0 2203.3,906.1 2203.7,904.7 2204.1,902.4 2204.5,901.0 2204.9,898.6 2205.3,897.7 2205.7,895.1 2206.1,894.2 2206.5,891.7 2206.9,890.4 2207.3,887.9 2207.7,886.7 2208.1,884.3 2208.5,883.1 2209.0,880.8 2209.3,879.8 2209.7,877.4 2210.0,876.2 2210.4,873.7 2210.7,872.5 2211.1,870.3 2211.4,869.1 2211.8,866.7 2212.2,865.7 2212.5,862.8 2212.9,861.8 2213.2,859.5 2213.6,858.2 2213.9,855.8 2214.3,854.7 2214.7,852.5 2215.0,851.2 2215.3,848.7 2215.6,847.3 2215.9,844.7 2216.2,843.5 2216.5,841.0 2216.8,840.0 2217.1,837.4 2217.4,836.3 2217.7,833.7 2218.0,832.6 2218.3,830.2 2218.6,828.7 2218.9,826.5 2219.2,825.4 2219.5,822.6 2219.8,821.7 2220.1,819.1 2220.4,817.8 2221.2,815.1 2222.0,814.1 2222.8,811.4 2223.6,810.1 2224.4,807.8 2225.2,806.6"/>
<polyline stroke="#00f" points="165.5,583.8 169.0,585.4 170.9,584.6 172.8,586.3 174.7,584.6 176.6,586.8 178.5,584.5 180.4,586.6 182.3,584.8 184.2,587.8 186.1,586.2 188.0,588.6 189.9,587.2 191.8,588.7 193.7,586.6 195.6,587.8 197.5,585.2 199.4,588.1 201.3,586.2 203.2,589.1 205.1,586.9 207.0,587.9 208.9,586.5 210.8,587.2 212.7,585.8 214.6,587.7 216.5,586.3 218.4,589.1 220.3,586.7 222.2,588.5 224.1,587.4 226.0,589.1 227.9,586.4 229.8,588.4 231.7,586.3 233.7,589.0 235.6,586.0 237.5,587.1 239.4,585.8 241.3,586.3 243.2,585.0 245.1,587.3 247.0,584.7 248.9,585.6 250.8,583.2 252.7,584.3 254.4,583.0 256.1,586.1 257.8,584.6 259.6,587.0 261.3,585.9 263.0,587.7 264.8,586.6 266.5,588.6 268.2,587.4 269.9,590.0 271.7,588.2 273.6,590.1 275.5,588.2 277.4,590.2 279.3,588.0 281.2,590.7 283.1,588.9 285.0,590.8 286.9,589.8 288.8,591.5 290.7,589.0 292.6,589.4 294.5,587.1 296.4,589.7 298.3,588.6 300.2,590.3 302.1,588.3 304.0,590.5 305.9,588.5 307.8,590.3 309.7,587.5 311.6,589.0 312.4,586.8 313.3,586.5 314.1,582.9 315.0,583.0 315.8,579.6 316.7,580.4 317.5,577.3 318.4,577.0 319.2,574.1 320.8,576.2 322.4,575.8 324.0,578.2 325.5,578.0 327.1,581.2 328.7,580.6 330.3,583.6 331.9,582.8 333.5,585.3 335.0,585.0 336.6,587.7 338.2,586.0 339.8,588.9 341.4,588.4 343.0,590.3 344.6,590.4 346.1,594.7 347.7,594.1 348.9,597.9 350.0,597.4 351.1,600.6 352.3,601.5 353.4,604.7 354.6,604.2 355.7,606.5 356.8,606.1 358.0,608.6 359.1,607.6 360.1,611.1 361.0,611.0 362.0,614.2 362.9,614.2 363.9,618.6 364.8,618.8 365.8,621.8 366.7,622.4 367.7,626.0 368.6,625.9 369.6,628.9 370.5,629.3 371.5,633.1 372.4,632.4 373.4,635.5 374.3,634.7 375.3,638.8 376.2,638.2 377.2,641.5 378.1,641.0 379.1,644.0 380.0,643.7 381.0,646.4 381.9,646.6 383.6,648.4 385.3,648.8 387.0,651.4 388.7,650.7 390.4,653.8 392.1,653.9 393.8,655.7 395.5,655.0 397.1,658.1 398.9,656.9 400.6,659.0 402.3,657.5 404.1,659.9 405.8,658.3 407.5,661.2 409.2,659.1 411.0,662.3 412.7,660.9 414.4,663.1 416.2,662.4 417.9,664.9 419.6,663.7 421.3,666.2 423.1,665.7 424.8,668.3 426.5,667.5 428.3,669.2 430.0,669.1 431.7,671.6 433.4,670.0 435.2,671.9 436.9,671.3 438.6,672.6 440.4,671.8 442.1,672.8 443.8,672.9 445.5,673.9 447.3,674.2 449.0,674.9 450.7,675.1 452.5,675.9 454.2,675.9 455.9,677.0 457.6,677.7 459.4,678.8 461.1,679.4 462.8,680.6 464.6,681.1 466.3,682.4 468.0,682.8 469.7,684.2 471.5,684.9 473.2,686.0 474.9,686.4 476.6,687.4 478.3,687.8 480.0,688.8 481.6,689.2 483.3,690.2 485.0,690.7 486.7,691.7 488.4,692.3 490.3,692.5 492.2,692.3 494.1,692.6 496.0,692.5 497.9,692.8 499.8,692.6 501.7,693.1 503.6,692.9 505.5,693.6 507.4,693.5 509.3,694.1 511.2,694.0 513.0,694.3 514.8,694.2 516.6,694.4 518.5,694.0 520.3,694.3 522.1,693.9 523.9,694.4 525.7,693.9 527.5,694.1 529.3,693.8 531.1,694.2 532.9,693.8 534.8,694.1 536.6,693.7 538.4,693.9 540.2,693.6 542.0,693.8 543.8,693.4 545.6,693.7 547.4,693.5 549.2,694.0 551.1,693.7 552.9,694.1 554.7,693.6 556.5,693.5 558.3,693.2 560.1,693.6 561.9,693.3 563.7,693.7 565.5,693.4 567.3,693.5 569.2,692.8 571.0,693.0 572.8,692.7 574.6,693.0 576.4,692.7 578.2,693.0 580.0,692.6 581.8,692.9 583.6,692.4 585.5,692.6 587.3,692.2 589.1,692.3 590.9,691.7 592.7,692.1 594.5,691.3 596.3,691.7 598.1,691.1 599.9,691.6 601.7,690.9 603.6,691.1 605.4,690.5 607.2,690.8 609.0,690.4 610.8,690.4 612.6,690.1 614.4,690.5 616.2,690.0 618.0,690.3 619.9,689.8 621.7,690.0 623.5,689.3 625.3,689.5 627.1,688.8 628.9,688.6 630.7,687.8 632.4,688.0 634.2,687.7 636.0,687.7 637.8,686.9 639.6,686.7 641.4,685.8 643.2,685.8 645.0,685.2 646.8,685.2 648.5,684.6 650.3,684.6 652.1,683.8 653.9,683.8 655.7,683.1 657.6,683.3 659.5,682.6 661.4,682.8 663.3,682.5 665.2,682.9 667.1,682.1 669.0,681.9 670.9,681.2 672.8,681.1 674.7,680.5 676.6,680.8 678.5,680.6 680.4,681.0 682.3,680.6 684.2,681.0 686.1,680.4 688.0,680.5 689.9,679.8 691.8,680.2 693.7,679.7 695.6,679.8 697.5,679.7 699.4,680.7 701.3,680.8 703.2,681.4 705.1,681.4 707.0,682.2 708.9,682.1 710.8,682.6 712.7,682.6 714.6,683.1 716.5,683.1 718.0,684.8 719.4,685.6 720.8,687.2 722.2,688.0 723.7,689.6 725.1,690.4 726.5,692.0 727.9,693.1 728.9,694.9 729.8,696.2 730.8,698.4 731.7,699.5 732.7,701.4 733.7,702.8 734.6,704.7 735.6,705.9 736.5,707.9 737.5,709.1 738.4,710.8 739.4,712.1 739.9,714.3 740.5,715.6 741.0,717.7 741.6,719.2 742.1,721.3 742.7,722.7 743.3,724.7 743.8,726.2 744.4,728.3 744.9,729.8 745.5,732.0 746.1,733.5 746.6,735.5 747.2,737.1 747.7,739.3 748.3,740.6 748.9,742.8 750.8,742.4 752.7,742.8 754.6,742.1 756.5,742.4 758.4,742.0 760.3,742.4 761.6,743.4 763.0,745.1 764.3,746.4 765.7,748.2 767.1,749.1 768.4,751.0 769.8,751.9 770.6,750.7 771.5,749.0 772.4,747.7 773.3,745.7 774.2,744.5 775.0,742.5 775.9,741.3 776.8,739.2 777.7,738.0 778.5,736.0 779.4,734.6 780.3,732.7 781.2,731.3 782.1,729.6 783.1,728.3 784.0,726.4 785.0,725.2 785.9,723.4 786.9,722.0 787.8,720.1 788.8,718.7 789.7,716.8 790.7,715.5 791.6,713.5 792.6,712.3 794.0,710.6 795.4,709.5 796.9,707.9 798.3,706.8 799.7,705.0 801.1,703.9 802.6,702.0 804.0,700.9 805.2,699.2 806.3,698.1 807.5,696.2 808.7,695.4 809.8,693.6 811.0,692.4 812.2,690.6 813.4,689.4 814.5,687.7 815.7,686.5 816.9,684.6 818.0,683.5 819.2,681.7 820.6,680.8 822.0,679.1 823.3,678.2 824.7,676.5 826.1,675.7 827.5,674.1 828.9,673.2 830.3,671.6 831.6,670.9 833.0,669.3 834.4,668.5 836.1,667.3 837.9,666.8 839.6,665.5 841.3,665.1 843.1,664.0 844.8,663.6 846.5,662.4 848.2,662.0 850.0,660.7 851.7,660.1 853.4,658.9 855.3,658.9 857.2,658.3 859.1,658.2 861.0,657.4 862.9,657.0 864.8,656.3 866.7,656.4 868.6,656.0 870.5,656.0 872.4,655.1 874.3,655.1 876.2,654.4 878.1,654.3 880.0,653.7 881.9,653.6 883.8,653.0 885.7,652.9 887.6,652.2 889.5,652.4 891.4,651.8 893.3,651.9 895.2,651.3 897.6,651.7 900.0,651.5 901.8,651.4 903.6,650.5 905.4,650.5 907.2,649.8 909.1,650.2 910.9,649.6 912.7,649.7 914.5,649.1 916.3,648.8 918.1,648.1 919.9,648.2 921.7,647.7 923.5,648.0 925.3,647.3 927.2,647.4 929.0,646.8 930.8,646.8 932.6,646.1 934.4,646.2 936.2,645.6 938.0,645.7 939.8,645.0 941.6,644.9 943.5,644.3 945.3,644.4 947.1,643.6 948.9,643.6 950.7,642.8 952.5,642.8 954.3,642.0 956.1,642.0 957.9,641.2 959.8,641.4 961.6,640.9 963.4,640.8 965.2,640.4 967.0,640.3 968.8,639.5 970.6,639.6 972.4,639.0 974.2,638.7 976.0,637.9 977.9,637.7 979.7,637.0 981.5,637.1 983.3,636.6 985.1,636.7 986.9,636.0 988.7,636.1 990.5,635.5 992.3,635.7 994.2,635.2 996.0,635.7 997.8,635.0 999.6,635.1 1001.4,634.3 1003.2,634.3 1005.0,633.5 1006.8,633.5 1008.6,632.8 1010.4,632.8 1012.3,632.3 1014.1,632.3 1015.9,631.8 1017.7,632.0 1019.5,631.3 1021.3,631.4 1023.1,630.8 1024.9,631.0 1026.7,630.4 1028.6,630.4 1030.4,629.8 1032.2,630.0 1034.0,629.4 1035.8,629.6 1037.6,628.9 1039.4,629.0 1041.2,628.0 1043.0,627.8 1044.8,627.4 1046.7,627.4 1048.5,627.0 1050.3,627.1 1052.1,626.5 1053.9,626.7 1055.7,626.2 1057.5,626.3 1059.3,625.7 1061.1,625.8 1063.0,625.1 1064.8,625.3 1066.6,624.9 1068.4,625.2 1070.2,624.6 1072.0,624.9 1073.8,624.6 1075.6,624.7 1077.4,624.1 1079.3,624.2 1081.1,623.5 1082.9,623.6 1084.7,623.0 1086.5,623.0 1088.3,622.7 1090.1,622.9 1091.9,622.2 1093.7,622.4 1095.5,621.9 1097.4,622.1 1099.2,621.5 1101.0,621.5 1102.8,620.8 1104.6,620.9 1106.4,620.3 1108.2,620.3 1110.0,619.6 1111.8,619.7 1113.7,619.3 1115.5,619.4 1117.3,618.6 1119.1,618.7 1120.9,617.8 1122.7,617.9 1124.5,617.5 1126.3,617.8 1128.1,617.2 1129.9,617.2 1131.8,616.7 1133.6,616.8 1135.4,616.1 1137.2,616.2 1139.0,615.4 1140.8,615.4 1142.6,615.0 1144.4,615.2 1146.2,614.4 1148.1,614.6 1149.9,613.8 1151.7,613.9 1153.5,613.2 1155.3,613.3 1157.1,612.8 1158.9,612.9 1160.7,612.0 1162.5,612.1 1164.3,611.4 1166.2,611.7 1168.0,611.0 1169.8,611.3 1171.6,610.4 1173.4,610.4 1175.2,609.6 1177.0,609.7 1178.8,609.2 1180.6,609.5 1182.5,608.9 1184.3,609.1 1186.1,608.5 1187.9,608.5 1189.7,607.8 1191.5,607.6 1193.3,606.8 1195.1,607.0 1196.9,606.2 1198.8,606.5 1200.6,605.7 1202.4,605.9 1204.2,605.2 1206.0,605.5 1207.8,605.2 1209.6,605.3 1211.4,604.9 1213.2,605.2 1215.0,604.5 1216.9,604.4 1218.7,603.9 1220.5,604.1 1222.3,603.6 1224.1,603.8 1225.9,603.1 1227.7,603.2 1229.5,602.9 1231.3,603.2 1233.2,602.6 1235.0,603.0 1236.8,602.5 1238.6,602.3 1240.4,601.6 1242.2,601.8 1244.0,601.1 1245.8,601.2 1247.6,600.5 1249.4,600.5 1251.3,599.9 1253.1,599.9 1254.9,599.2 1256.7,599.4 1258.5,598.7 1260.3,598.8 1262.1,598.2 1263.9,598.2 1265.7,597.3 1267.6,597.2 1269.4,596.5 1271.2,596.3 1273.0,595.6 1274.8,595.5 1276.6,594.9 1278.4,595.0 1280.2,594.2 1282.0,594.1 1283.8,593.2 1285.6,593.2 1287.4,592.4 1289.2,592.6 1291.0,591.6 1292.8,591.6 1294.5,590.6 1296.3,590.6 1298.1,589.9 1299.9,589.7 1301.7,589.0 1303.5,588.9 1305.3,588.0 1307.1,587.9 1308.9,587.2 1310.6,587.0 1312.7,586.6 1314.7,587.0 1316.7,586.8 1318.8,587.1 1320.8,586.7 1322.8,587.1 1324.6,586.4 1326.4,586.7 1328.3,586.3 1330.1,586.7 1331.9,586.1 1333.7,586.5 1335.5,585.8 1337.3,585.8 1339.1,585.4 1341.0,585.7 1342.8,585.3 1344.6,585.6 1346.4,585.0 1348.3,585.3 1350.1,584.6 1351.9,585.1 1353.8,584.6 1355.6,584.9 1357.4,584.6 1359.3,584.9 1361.1,584.3 1362.9,584.6 1364.8,584.0 1366.6,584.5 1368.4,583.9 1370.3,584.0 1372.2,583.6 1374.1,583.8 1376.0,583.5 1377.9,584.0 1379.8,583.5 1381.7,584.2 1383.7,582.8 1385.6,583.2 1387.5,582.6 1389.4,583.2 1391.3,582.9 1393.2,583.4 1395.1,582.6 1397.0,583.3 1398.7,583.1 1400.4,584.3 1402.1,584.4 1403.8,585.8 1405.5,585.5 1407.2,585.2 1408.9,583.8 1410.6,583.8 1412.4,582.3 1414.1,582.9 1416.0,582.9 1417.9,584.1 1419.8,584.0 1421.7,585.4 1423.6,584.9 1425.5,585.9 1427.1,586.0 1428.7,587.3 1430.4,587.4 1432.0,589.4 1433.6,589.9 1435.3,591.3 1436.9,591.0 1437.8,593.1 1438.7,594.4 1439.6,596.6 1440.4,597.7 1441.3,600.2 1442.2,601.3 1443.1,603.8 1444.0,605.2 1445.0,607.6 1445.9,608.5 1446.9,610.8 1447.8,611.7 1448.8,614.0 1449.7,615.0 1449.9,617.5 1450.1,618.7 1450.3,621.0 1450.5,622.2 1450.7,624.6 1450.9,626.0 1451.0,628.6 1451.2,629.3 1451.4,632.1 1451.6,632.9 1451.8,635.6 1452.0,636.4 1452.2,639.2 1452.4,640.0 1452.6,642.7 1452.7,643.7 1452.8,646.5 1452.9,647.5 1453.1,650.0 1453.2,651.3 1453.3,653.8 1453.4,655.2 1453.6,657.4 1453.7,658.8 1453.8,661.4 1453.9,662.7 1454.1,665.0 1454.2,666.2 1454.3,668.9 1454.4,669.7 1454.6,672.3 1454.7,673.7 1454.8,676.0 1454.9,677.1 1455.0,679.6 1455.2,681.1 1455.3,683.4 1455.4,684.5 1455.5,687.2 1455.7,688.1 1455.8,691.1 1455.9,692.3 1456.0,694.6 1456.2,695.9 1456.3,698.4 1456.4,699.7 1456.5,702.3 1456.7,703.1 1456.8,705.7 1456.9,706.8 1457.0,709.4 1457.2,710.8 1457.3,713.1 1457.4,714.3 1457.5,717.1 1457.7,718.3 1457.8,720.8 1457.9,721.7 1458.0,724.6 1458.1,725.3 1458.3,728.0 1458.4,729.1 1458.4,732.0 1458.5,733.0 1458.6,735.7 1458.7,736.9 1458.8,739.4 1458.9,740.4 1459.0,743.0 1459.1,744.2 1459.1,746.9 1459.2,747.9 1459.3,750.5 1459.4,751.4 1459.5,754.4 1459.6,755.2 1459.7,758.0 1459.7,759.0 1459.8,761.9 1459.9,763.1 1460.0,765.4 1460.1,766.5 1460.2,769.3 1460.3,770.4 1460.4,772.7 1460.5,774.0 1460.6,776.8 1460.7,777.7 1460.8,780.6 1460.9,781.4 1461.0,784.0 1461.1,785.3 1461.2,788.0 1461.3,789.2 1461.4,791.6 1461.5,792.7 1461.6,795.1 1461.7,796.3 1461.8,799.1 1461.9,800.4 1462.0,803.1 1462.1,804.0 1462.2,806.5 1462.2,807.6 1462.3,810.2 1462.4,811.6 1462.5,813.9 1462.6,815.0 1462.7,817.8 1462.8,818.7 1462.9,821.5 1463.0,822.7 1463.1,825.5 1463.2,826.5 1463.3,828.8 1463.4,830.2 1463.5,832.9 1463.6,833.7 1463.7,836.3 1463.8,837.7 1463.9,840.4 1464.0,841.4 1464.1,844.1 1464.2,845.1 1464.3,847.5 1464.4,849.0 1464.5,851.3 1464.6,852.6 1464.7,855.3 1464.8,856.2 1464.9,858.9 1465.0,859.9 1465.1,862.7 1465.2,863.8 1465.3,866.4 1465.3,867.7 1465.4,870.2 1465.5,871.3 1465.6,873.8 1465.7,875.1 1465.8,877.4 1465.9,878.7 1466.0,881.5 1466.0,882.3 1466.1,884.9 1466.2,886.1 1466.3,888.5 1466.4,889.6 1466.5,892.6 1466.6,893.7 1466.7,896.1 1466.7,897.2 1466.8,900.1 1466.9,901.1 1467.0,903.6 1467.1,904.7 1467.2,907.4 1467.3,908.4 1467.3,911.1 1467.4,912.3 1467.5,914.9 1467.6,915.9 1467.7,918.5 1467.8,919.9 1467.9,922.5 1468.0,923.5 1468.0,926.1 1468.1,927.2 1468.2,929.7 1468.3,931.0 1468.4,933.6 1468.5,934.6 1468.6,937.0 1468.6,938.4 1468.7,941.0 1468.8,942.2 1468.9,944.5 1468.9,945.8 1469.0,948.1 1469.1,949.2 1469.1,952.0 1469.2,953.3 1469.2,955.4 1469.3,956.7 1469.4,959.2 1469.4,960.3 1469.5,962.9 1469.5,964.0 1469.6,966.6 1469.6,967.6 1469.7,970.1 1469.8,971.4 1469.8,973.7 1469.9,975.2 1469.9,977.5 1470.0,978.7 1470.1,981.5 1470.1,982.5 1470.2,985.0 1470.2,986.2 1470.3,988.5 1470.4,989.5 1470.4,992.2 1470.5,993.1 1470.5,996.0 1470.5,997.2 1470.6,999.5 1470.6,1000.6 1470.6,1003.3 1470.6,1004.3 1470.7,1006.6 1470.7,1007.8 1470.7,1010.5 1470.7,1011.4 1470.8,1013.9 1470.8,1014.8 1470.8,1017.4 1470.8,1018.7 1470.9,1021.1 1470.9,1022.3 1470.9,1024.5 1470.9,1025.7 1471.0,1028.2 1471.0,1029.4 1471.0,1032.0 1471.0,1032.8 1471.1,1035.4 1471.1,1036.7 1471.1,1039.2 1471.1,1040.3 1471.2,1042.6 1471.2,1043.7 1471.2,1046.3 1471.2,1047.3 1471.3,1049.8 1471.3,1051.0 1471.3,1053.6 1471.3,1054.7 1471.4,1057.3 1471.4,1058.3 1471.4,1060.8 1471.4,1061.9 1471.5,1064.2 1471.5,1065.5 1471.5,1068.1 1471.5,1068.9 1471.6,1071.5 1471.6,1072.8 1471.6,1075.1 1471.6,1076.4 1471.7,1078.6 1471.7,1076.1 1471.8,1075.3 1471.9,1072.5 1471.9,1071.5 1472.0,1069.0 1472.1,1068.1 1472.1,1065.3 1472.2,1064.2 1472.2,1061.9 1472.3,1060.4 1472.4,1058.0 1472.4,1057.1 1472.5,1054.5 1472.6,1053.3 1472.6,1050.8 1472.7,1049.8 1472.8,1047.2 1472.8,1046.3 1472.9,1043.6 1472.9,1042.3 1473.0,1040.0 1473.1,1038.7 1473.1,1036.4 1473.2,1034.9 1473.3,1032.4 1473.3,1031.4 1473.4,1028.8 1473.4,1027.8 1473.5,1025.5 1473.6,1024.4 1473.6,1021.5 1473.7,1020.8 1473.8,1018.3 1473.8,1016.8 1473.9,1014.3 1474.0,1013.3 1474.0,1010.8 1474.1,1009.6 1474.1,1007.4 1474.2,1006.0 1474.3,1003.4 1474.3,1002.4 1474.4,1000.0 1474.5,999.0 1474.5,996.3 1476.8,995.1 1476.8,992.2 1476.9,991.1 1476.9,989.0 1477.0,987.9 1477.0,985.2 1477.1,984.3 1477.1,981.7 1477.2,980.6 1477.2,978.1 1477.2,977.0 1477.3,974.3 1477.3,973.2 1477.4,970.9 1477.4,969.8 1477.5,966.9 1477.5,966.2 1477.5,963.6 1477.6,962.4 1477.6,959.7 1477.7,958.7 1477.7,956.5 1477.8,955.0 1477.8,952.5 1477.8,951.8 1477.9,949.1 1477.9,948.1 1478.0,945.6 1478.0,944.6 1478.1,942.1 1478.1,941.0 1478.1,938.2 1478.2,937.2 1478.2,934.8 1478.3,933.5 1478.3,930.9 1478.4,929.9 1478.4,927.4 1478.4,926.4 1478.5,923.7 1478.5,922.6 1478.6,920.3 1478.6,919.2 1478.7,916.5 1478.7,915.7 1478.7,913.1 1478.8,911.9 1478.8,909.6 1478.9,908.4 1478.9,905.7 1479.0,904.5 1479.0,902.3 1479.0,901.1 1479.1,898.5 1479.1,897.5 1479.2,894.8 1479.3,893.8 1479.3,891.2 1479.4,890.3 1479.5,887.5 1479.5,886.6 1479.6,883.8 1479.6,882.7 1479.7,880.5 1479.8,879.2 1479.8,876.6 1479.9,875.4 1479.9,873.2 1480.0,872.0 1480.1,869.5 1480.1,868.5 1480.2,865.7 1480.2,864.6 1480.3,862.4 1480.4,861.1 1480.4,858.6 1480.5,857.7 1480.5,855.1 1480.6,853.9 1480.7,851.2 1480.7,850.2 1480.8,847.8 1480.8,846.8 1480.9,844.3 1481.0,843.2 1481.0,840.3 1481.1,839.5 1481.2,837.0 1481.2,835.6 1481.3,833.3 1481.3,832.2 1481.4,829.5 1481.5,828.4 1481.5,826.0 1481.6,824.9 1481.6,822.5 1481.7,821.2 1481.8,818.5 1481.8,817.6 1481.9,815.2 1481.9,813.9 1482.0,811.2 1482.1,810.2 1482.2,807.5 1482.2,806.5 1482.3,803.8 1482.4,803.1 1482.5,800.4 1482.5,799.1 1482.6,796.9 1482.7,795.5 1482.7,793.1 1482.8,791.7 1482.9,789.6 1483.0,788.0 1483.0,785.6 1483.1,784.7 1483.2,782.0 1483.3,780.9 1483.3,778.2 1483.4,777.1 1483.5,774.8 1483.5,773.5 1483.6,770.9 1483.7,770.0 1483.8,767.6 1483.8,766.5 1483.9,763.6 1484.0,762.6 1484.1,759.8 1484.1,758.7 1484.2,756.2 1484.3,755.4 1484.4,752.9 1484.4,751.4 1484.5,749.2 1484.6,747.9 1484.6,745.3 1484.7,744.5 1484.8,741.6 1484.9,740.3 1485.0,737.9 1485.1,736.8 1485.2,734.4 1485.3,733.4 1485.3,730.4 1485.4,729.3 1485.5,726.8 1485.6,725.8 1485.7,723.4 1485.8,722.3 1485.9,719.4 1486.0,718.2 1486.1,715.7 1486.2,714.9 1486.3,712.1 1486.4,710.8 1486.4,708.4 1486.5,707.3 1486.6,704.5 1486.7,703.4 1486.8,701.0 1486.9,700.0 1487.0,697.5 1487.1,696.3 1487.2,693.9 1487.3,692.4 1487.4,690.1 1487.5,688.6 1487.6,686.4 1487.6,685.0 1487.8,682.6 1487.9,681.5 1488.0,678.6 1488.1,677.5 1488.3,675.1 1488.4,673.9 1488.5,671.2 1488.6,670.4 1488.8,667.6 1488.9,666.6 1489.0,664.2 1489.1,663.0 1489.3,660.3 1489.4,659.1 1489.5,656.7 1489.6,655.5 1489.8,652.8 1489.9,651.7 1490.0,649.1 1490.1,648.0 1490.2,645.4 1490.4,644.3 1490.5,641.7 1490.9,640.8 1491.3,638.2 1491.7,636.8 1492.1,634.2 1492.5,632.8 1492.9,630.2 1493.3,629.2 1493.7,626.8 1494.1,625.4 1494.5,622.9 1494.9,621.6 1495.3,619.3 1496.1,617.9 1496.8,615.4 1497.5,614.4 1498.2,611.8 1498.9,610.2 1499.6,607.9 1501.0,607.2 1502.5,604.9 1503.9,604.5 1505.3,602.2 1506.7,601.7 1508.7,601.6 1510.6,602.7 1512.5,602.4 1513.3,604.6 1514.2,606.0 1515.0,608.2 1515.9,609.3 1516.7,612.0 1517.9,612.6 1519.1,615.1 1520.3,616.1 1521.5,618.1 1522.7,619.1 1523.9,621.1 1524.9,619.0 1526.0,617.7 1527.1,615.2 1528.1,614.3 1529.4,612.3 1530.6,611.3 1531.8,609.3 1533.0,608.6 1534.2,606.3 1535.5,605.2 1536.7,603.0 1537.2,605.6 1537.6,607.1 1538.1,609.5 1538.6,610.4 1539.1,612.9 1539.5,614.2 1540.0,616.8 1540.5,617.7 1541.0,620.4 1541.5,621.8 1541.9,624.1 1542.4,625.5 1542.9,628.2 1543.4,629.4 1543.9,631.8 1544.4,632.7 1544.8,635.4 1545.3,636.7 1545.8,639.4 1546.3,636.9 1546.9,635.7 1547.4,632.9 1547.9,631.8 1548.5,629.4 1549.0,628.0 1549.5,625.2 1549.7,624.4 1549.9,621.3 1550.1,620.3 1550.3,617.6 1550.5,616.6 1550.7,613.9 1550.9,612.7 1551.0,609.8 1551.2,608.6 1551.4,605.8 1551.6,604.6 1551.8,602.0 1552.0,601.0 1552.2,598.4 1552.4,597.0 1552.9,594.4 1553.3,592.9 1553.8,590.4 1554.3,589.2 1554.8,586.7 1555.2,585.4 1556.4,583.2 1557.6,582.5 1558.8,580.4 1560.0,579.7 1561.2,577.5 1562.4,576.8 1563.3,578.0 1564.3,580.2 1565.2,581.5 1566.2,583.9 1567.1,584.8 1568.1,587.3 1568.4,584.8 1568.8,583.6 1569.1,581.1 1569.5,580.1 1569.8,577.6 1570.2,576.2 1570.6,573.6 1570.9,572.7 1571.3,570.4 1571.6,569.1 1572.0,566.8 1572.3,565.7 1572.9,567.1 1573.6,569.5 1574.2,570.6 1574.8,573.5 1575.4,574.5 1576.0,577.0 1576.6,578.6 1578.3,579.8 1580.0,579.5 1581.7,580.7 1583.5,580.3 1585.2,581.5 1587.2,580.3 1589.2,580.6 1591.2,579.4 1593.2,579.7 1595.2,578.7 1595.7,581.3 1596.3,582.5 1596.9,585.4 1597.4,586.6 1598.0,589.3 1598.7,586.7 1599.4,586.0 1600.1,583.8 1600.9,582.6 1601.6,580.3 1602.3,579.3 1603.0,580.4 1603.7,582.8 1604.4,583.4 1605.1,585.7 1605.8,586.7 1606.6,589.3 1606.9,590.3 1607.2,592.8 1607.6,593.7 1607.9,596.7 1608.2,597.6 1608.6,600.3 1608.9,601.0 1609.2,603.7 1609.6,604.9 1609.9,607.6 1610.2,608.3 1610.6,610.9 1610.9,612.1 1611.3,614.7 1611.6,615.7 1611.9,618.2 1612.3,619.2 1612.6,621.6 1612.9,622.7 1613.2,625.3 1613.5,626.5 1613.8,628.8 1614.1,630.1 1614.4,632.4 1614.7,633.6 1615.0,636.1 1615.3,637.5 1615.6,639.6 1615.9,641.1 1616.2,643.7 1616.5,644.8 1617.6,646.9 1618.6,648.0 1619.6,650.3 1620.6,651.0 1621.6,653.8 1622.7,654.5 1623.7,657.3 1624.4,658.6 1625.1,660.9 1625.8,662.4 1626.5,664.6 1627.2,665.8 1627.9,668.2 1629.4,666.2 1630.8,665.2 1632.2,663.0 1633.7,662.5 1634.0,659.8 1634.3,658.6 1634.6,656.1 1634.9,654.8 1635.2,652.4 1635.5,651.6 1635.8,648.7 1636.1,648.0 1636.4,645.2 1636.7,644.0 1637.0,641.6 1637.3,640.3 1637.6,638.0 1637.9,636.6 1638.1,634.4 1638.4,633.1 1638.6,630.8 1638.8,629.3 1639.0,626.8 1639.2,625.6 1639.4,623.2 1639.6,622.0 1639.9,619.4 1640.1,618.3 1640.3,616.0 1640.5,614.6 1640.7,612.1 1640.9,611.1 1641.1,608.4 1641.3,607.4 1641.6,604.8 1641.8,603.3 1642.0,601.2 1642.2,599.9 1642.9,597.0 1643.6,596.3 1644.3,593.6 1645.1,592.2 1645.8,589.9 1646.5,588.8 1647.9,589.7 1649.3,592.2 1650.8,592.8 1652.2,594.9 1654.3,592.3 1656.5,591.8 1656.9,592.9 1657.2,595.4 1657.6,596.7 1658.0,599.3 1658.4,600.2 1658.8,602.6 1659.2,604.1 1659.6,606.7 1660.0,607.6 1660.4,610.1 1660.7,611.4 1661.0,614.1 1661.2,614.9 1661.5,617.7 1661.7,618.7 1662.0,621.3 1662.3,622.3 1662.5,624.8 1662.8,625.9 1663.0,628.8 1663.3,629.6 1663.5,632.4 1663.8,633.6 1664.0,635.8 1664.3,637.0 1664.5,639.4 1664.8,640.5 1665.0,642.9 1666.2,643.7 1667.3,645.3 1668.4,646.1 1669.6,648.4 1670.7,649.0 1671.0,648.0 1671.2,645.4 1671.5,643.7 1671.8,641.4 1672.0,640.3 1672.3,637.3 1672.5,636.4 1672.8,633.6 1673.1,632.4 1673.3,629.7 1673.6,628.3 1673.9,625.9 1674.2,624.8 1674.5,622.5 1674.8,621.1 1675.1,618.7 1675.4,617.4 1675.7,615.2 1676.0,614.0 1676.3,611.2 1676.6,610.3 1676.9,607.8 1677.2,606.8 1677.5,604.3 1677.9,602.9 1678.9,600.5 1679.9,599.8 1680.9,597.6 1681.9,596.3 1682.9,594.1 1684.0,593.1 1685.0,590.4 1687.1,591.7 1689.3,591.3 1691.4,592.7 1693.5,592.2 1695.2,594.1 1697.0,594.3 1698.7,596.1 1700.4,596.3 1702.1,598.4 1702.9,599.4 1703.7,601.5 1704.5,602.4 1705.4,605.1 1706.2,606.3 1707.0,608.5 1707.8,609.7 1709.0,612.4 1710.2,613.3 1711.4,615.6 1712.5,616.0 1713.7,618.6 1714.9,619.1 1715.3,621.6 1715.6,622.7 1716.0,625.2 1716.3,626.6 1716.7,629.2 1717.1,630.6 1717.4,633.0 1717.8,634.2 1718.1,636.9 1718.5,638.2 1718.8,640.6 1719.2,642.0 1719.6,644.4 1719.9,645.7 1720.3,648.2 1720.6,648.9 1721.0,651.4 1721.3,652.7 1721.7,655.0 1722.1,656.3 1722.4,658.8 1722.8,659.7 1723.1,662.4 1723.5,663.6 1723.8,666.0 1724.2,666.9 1724.5,669.5 1724.9,670.4 1725.3,673.0 1725.6,674.1 1726.0,676.7 1726.3,677.9 1726.7,680.3 1727.0,681.6 1727.4,683.8 1727.8,685.1 1728.1,687.5 1728.5,688.8 1728.8,691.4 1729.2,692.0 1729.5,694.5 1729.9,695.6 1730.3,698.1 1730.6,699.4 1730.9,702.1 1731.2,702.8 1731.5,705.5 1731.8,706.4 1732.1,709.2 1732.4,710.2 1732.7,712.8 1733.0,713.9 1733.3,716.2 1733.6,717.3 1733.9,720.0 1734.2,721.0 1734.5,723.3 1734.8,724.5 1735.1,726.8 1735.4,728.0 1735.7,730.8 1736.0,731.6 1736.3,734.4 1736.6,735.2 1736.8,738.0 1737.1,738.9 1737.3,741.7 1737.6,742.9 1737.8,745.2 1738.1,746.3 1738.3,749.2 1738.6,750.1 1738.8,752.7 1739.1,753.9 1739.3,756.4 1739.6,757.6 1739.8,760.0 1740.1,761.3 1740.3,764.1 1740.6,764.9 1740.9,767.5 1741.2,768.9 1741.5,771.4 1741.8,772.1 1742.1,774.7 1742.4,776.1 1742.7,778.5 1743.0,779.7 1743.3,781.8 1743.6,783.4 1743.9,785.5 1744.2,787.0 1744.5,789.3 1744.8,790.4 1745.1,793.0 1745.4,793.9 1745.7,796.7 1746.0,797.5 1746.3,800.4 1746.6,801.0 1747.0,803.5 1747.4,804.5 1747.7,807.2 1748.1,808.1 1748.4,810.3 1748.8,811.7 1749.1,814.1 1749.5,815.0 1749.9,817.4 1750.2,818.4 1750.6,820.7 1750.9,821.7 1751.3,824.2 1751.6,825.2 1752.0,827.7 1752.5,829.0 1753.0,831.5 1753.6,832.8 1754.1,835.4 1754.6,836.6 1755.1,839.1 1755.6,840.2 1756.1,843.2 1756.7,844.3 1757.2,846.6 1757.7,847.8 1758.5,850.5 1759.3,851.1 1760.1,853.6 1761.0,854.2 1761.8,856.7 1762.6,857.2 1763.4,859.5 1765.3,857.5 1767.2,856.9 1769.1,854.8 1769.9,857.4 1770.7,858.4 1771.6,860.8 1772.4,861.7 1773.2,864.6 1774.0,865.5 1774.8,867.9 1775.1,869.3 1775.3,871.4 1775.6,872.6 1775.9,874.9 1776.1,876.2 1776.4,878.5 1776.7,879.8 1776.9,882.1 1777.2,883.1 1777.5,885.9 1777.8,887.1 1778.0,889.5 1778.3,890.8 1778.6,892.9 1778.8,894.0 1779.1,896.7 1779.3,897.9 1779.6,900.3 1779.8,901.7 1780.1,904.1 1780.3,905.5 1780.6,907.9 1780.8,909.0 1781.1,911.4 1781.4,912.6 1781.6,915.2 1781.9,916.6 1782.1,918.8 1782.4,920.4 1782.6,923.0 1782.9,923.8 1783.1,926.4 1783.4,927.6 1783.8,930.1 1784.2,930.9 1784.6,933.8 1785.0,934.5 1785.4,937.2 1785.8,938.1 1786.3,940.8 1786.7,941.6 1787.1,944.3 1787.5,945.2 1787.9,948.1 1788.3,948.7 1788.6,951.5 1788.9,952.3 1789.1,954.8 1789.4,955.9 1789.7,958.6 1789.9,959.6 1790.2,962.0 1790.5,963.1 1790.7,965.5 1791.0,966.7 1791.3,969.4 1791.5,970.1 1791.8,972.9 1792.1,973.9 1792.3,976.4 1792.6,977.1 1793.0,980.1 1793.3,981.1 1793.7,983.7 1794.0,985.0 1794.4,987.3 1794.7,988.8 1795.1,991.3 1795.5,992.2 1795.8,995.0 1796.2,996.2 1796.5,998.6 1796.9,1000.0 1797.4,1002.6 1797.8,1003.5 1798.3,1006.1 1798.8,1007.4 1799.3,1009.7 1799.7,1011.0 1800.2,1013.6 1800.7,1014.9 1801.2,1017.3 1802.6,1018.5 1804.0,1020.4 1805.4,1021.3 1806.9,1023.5 1807.3,1020.6 1807.8,1019.5 1808.3,1016.7 1808.8,1015.5 1809.2,1013.2 1809.7,1011.9 1810.2,1009.0 1810.7,1007.9 1811.1,1005.2 1812.0,1004.5 1812.8,1002.1 1813.6,1001.2 1814.4,999.0 1815.2,997.9 1816.0,995.8 1816.8,994.7 1818.1,992.6 1819.3,992.0 1820.5,989.5 1821.7,988.9 1823.0,986.3 1824.2,985.6 1825.4,983.1 1826.8,982.2 1828.3,980.0 1829.7,979.1 1831.1,976.9 1832.5,976.5 1834.0,974.4 1836.0,975.8 1837.9,975.8 1839.9,977.1 1841.9,976.8 1843.9,978.3 1844.6,976.1 1845.4,975.0 1846.1,972.4 1846.8,971.5 1847.5,969.1 1848.2,967.9 1848.9,965.6 1849.6,964.4 1850.4,962.2 1851.1,961.1 1851.5,958.3 1851.9,957.0 1852.3,954.4 1852.7,953.3 1853.1,950.9 1853.5,949.7 1853.9,947.1 1854.3,946.1 1854.7,943.8 1855.1,942.7 1855.5,939.8 1856.0,939.0 1856.4,936.4 1856.8,935.7 1857.0,932.8 1857.3,931.9 1857.6,929.4 1857.8,928.3 1858.1,925.9 1858.4,925.0 1858.6,922.7 1858.9,921.5 1859.2,919.0 1859.4,918.1 1859.7,915.5 1860.0,914.8 1860.2,911.9 1860.5,910.9 1860.8,908.7 1861.0,907.3 1861.3,905.0 1861.6,903.7 1861.9,901.0 1862.2,900.1 1862.5,897.5 1862.8,896.5 1863.1,894.1 1863.4,892.8 1863.7,890.3 1864.0,889.0 1864.3,886.7 1864.6,885.6 1864.9,883.0 1865.2,882.1 1865.5,879.6 1865.8,878.3 1866.1,875.6 1866.4,874.7 1866.7,872.3 1867.0,871.0 1867.2,868.7 1867.4,867.5 1867.6,865.0 1867.8,863.9 1868.0,861.2 1868.2,860.2 1868.5,857.7 1868.7,856.5 1868.9,853.9 1869.1,852.8 1869.3,850.1 1869.5,849.1 1869.7,846.4 1870.0,845.3 1870.2,842.7 1870.4,841.5 1870.6,839.0 1870.8,838.0 1871.0,835.3 1871.2,834.1 1871.4,831.7 1871.6,830.7 1871.8,827.9 1872.0,826.7 1872.1,824.3 1872.3,823.2 1872.5,820.7 1872.7,819.4 1872.9,816.6 1873.1,815.7 1873.3,813.2 1873.4,811.8 1873.6,809.3 1873.8,807.9 1874.0,805.4 1874.2,804.1 1874.4,801.7 1874.6,800.3 1874.7,798.0 1874.9,796.6 1875.1,793.9 1875.3,792.8 1875.5,790.5 1875.7,789.1 1875.9,786.7 1876.0,785.4 1876.2,782.6 1876.4,781.6 1876.6,779.2 1876.8,777.8 1877.0,775.0 1877.2,774.3 1877.3,771.3 1877.5,770.5 1877.7,767.5 1877.9,766.8 1878.1,763.8 1878.3,762.6 1878.5,760.2 1878.7,759.1 1878.8,756.6 1879.0,755.6 1879.2,752.9 1879.4,751.7 1879.6,748.9 1879.8,747.9 1880.0,745.2 1880.1,744.3 1880.3,741.5 1880.5,740.7 1880.7,737.8 1880.9,737.0 1881.1,734.3 1881.3,732.9 1881.4,730.4 1881.6,729.4 1881.8,726.7 1882.0,725.5 1882.2,722.8 1882.4,721.9 1882.6,719.3 1882.7,718.1 1882.9,715.5 1883.1,714.6 1883.3,712.0 1883.5,710.6 1883.7,708.0 1883.9,706.9 1884.1,704.4 1884.3,703.6 1884.5,700.6 1884.7,699.7 1884.9,697.3 1885.1,695.9 1885.4,693.6 1885.6,692.5 1885.8,689.8 1886.0,688.6 1886.2,686.0 1886.4,684.8 1886.6,682.4 1886.9,681.5 1887.1,678.6 1887.3,677.3 1887.5,675.2 1887.7,674.0 1887.9,671.3 1888.1,670.1 1888.5,667.6 1888.9,666.5 1889.3,664.2 1889.7,663.2 1890.1,660.7 1890.5,659.5 1890.9,656.8 1891.2,655.5 1891.6,653.0 1892.0,652.0 1892.4,649.2 1893.6,648.2 1894.7,645.7 1895.8,644.3 1897.0,641.9 1898.1,641.1 1898.9,642.2 1899.7,644.7 1900.6,645.8 1901.4,648.2 1902.2,649.0 1903.0,651.2 1903.8,652.2 1905.2,654.2 1906.7,654.4 1908.1,656.0 1909.5,656.9 1911.0,659.1 1912.4,659.6 1913.3,659.3 1914.2,657.0 1915.0,656.0 1915.9,653.3 1916.8,652.0 1917.7,649.6 1918.6,648.5 1919.5,646.0 1920.2,644.6 1920.9,642.5 1921.6,641.5 1922.4,639.4 1923.1,638.4 1923.8,635.8 1924.5,635.0 1925.2,632.8 1926.0,631.7 1926.8,629.4 1927.7,628.2 1928.5,626.0 1929.3,624.7 1930.1,622.6 1930.9,621.4 1931.8,618.9 1932.7,618.1 1933.6,615.8 1934.5,614.8 1935.4,612.1 1936.3,611.5 1937.2,609.2 1938.0,608.2 1939.2,605.6 1940.4,604.7 1941.6,602.0 1942.8,601.0 1944.0,598.4 1945.2,597.6 1946.9,596.2 1948.6,596.3 1950.3,594.5 1952.0,594.3 1953.7,592.4 1955.9,592.1 1958.0,591.4 1960.1,592.3 1962.3,591.2 1963.5,590.6 1964.7,588.6 1965.8,587.7 1967.0,585.6 1968.2,585.0 1969.4,582.7 1970.8,581.8 1972.3,579.2 1973.7,578.3 1975.1,576.6 1976.5,576.2 1978.3,577.0 1980.0,578.9 1981.7,579.2 1983.4,580.8 1985.1,581.2 1985.8,583.5 1986.5,584.7 1987.2,587.0 1987.9,588.2 1988.7,590.5 1989.4,591.9 1990.1,594.3 1990.8,595.5 1992.2,595.2 1993.7,593.2 1995.1,592.8 1996.5,591.1 1997.9,590.9 1999.6,589.5 2001.3,589.6 2003.1,588.5 2004.8,588.7 2006.5,586.9 2008.1,586.2 2009.8,584.1 2011.5,583.8 2013.1,581.9 2014.8,581.5 2016.5,579.6 2017.3,582.1 2018.0,583.1 2018.8,585.8 2019.6,586.7 2020.4,589.1 2021.2,590.2 2022.0,592.7 2022.8,593.4 2023.6,596.0 2024.1,596.8 2024.6,599.1 2025.1,600.4 2025.7,602.9 2026.2,603.7 2026.7,606.2 2027.2,607.4 2027.7,610.0 2028.3,611.0 2028.8,613.2 2029.3,614.4 2030.0,613.6 2030.7,611.0 2031.4,609.7 2032.1,607.5 2032.9,606.4 2033.6,603.7 2034.3,602.7 2035.0,600.4 2036.8,600.1 2038.6,598.2 2040.3,597.8 2042.1,596.1 2043.0,598.3 2043.9,599.3 2044.8,601.7 2045.7,602.7 2046.6,604.7 2047.5,605.7 2048.4,608.0 2049.3,609.3 2051.0,610.5 2052.8,611.0 2054.6,612.0 2056.4,612.4 2057.2,614.7 2058.0,615.5 2058.8,618.2 2059.6,619.0 2060.5,621.6 2061.3,622.4 2062.1,624.8 2063.1,626.2 2064.1,628.3 2065.1,629.5 2066.2,631.4 2067.2,632.4 2068.2,634.8 2069.2,635.5 2070.2,637.7 2071.3,639.1 2072.3,641.3 2073.3,642.0 2074.3,644.5 2075.3,645.4 2076.3,647.7 2077.1,648.9 2077.8,651.4 2078.5,652.0 2079.2,654.5 2079.9,655.7 2080.6,657.9 2081.3,659.1 2082.1,661.4 2082.5,662.8 2083.0,665.4 2083.5,666.5 2084.0,669.2 2084.4,670.2 2084.9,673.3 2085.4,674.3 2085.9,677.3 2086.3,678.5 2087.1,680.7 2088.0,682.0 2088.8,684.0 2089.6,685.0 2090.4,687.2 2091.2,687.9 2092.0,689.9 2092.6,691.0 2093.2,693.2 2093.7,694.3 2094.3,696.8 2094.9,697.8 2095.5,699.9 2096.0,701.2 2096.6,703.6 2097.2,704.7 2097.7,707.2 2098.6,708.3 2099.4,710.6 2100.2,711.5 2101.0,713.6 2101.8,714.7 2102.6,716.7 2103.4,717.6 2104.5,716.6 2105.5,714.5 2106.5,713.5 2107.5,711.2 2108.5,710.4 2109.6,708.1 2110.6,707.7 2111.7,708.6 2112.9,710.8 2114.0,712.0 2115.1,714.2 2116.3,714.8 2117.7,716.7 2119.1,717.2 2120.6,719.4 2122.0,719.7 2123.4,721.6 2125.1,719.9 2126.8,719.6 2128.5,717.8 2130.2,717.3 2132.0,715.4 2133.4,714.8 2134.8,713.1 2136.2,712.6 2137.7,711.2 2139.1,710.3 2139.7,708.0 2140.2,707.3 2140.8,704.9 2141.4,704.0 2141.9,701.4 2142.5,700.6 2143.1,698.0 2143.7,696.7 2144.2,694.5 2144.8,693.5 2145.3,690.5 2145.8,689.7 2146.3,686.8 2146.9,685.9 2147.4,683.4 2147.9,681.9 2148.4,679.6 2148.9,678.3 2149.5,675.9 2150.0,675.1 2150.5,672.6 2151.2,671.3 2151.9,668.9 2152.6,668.2 2153.3,665.4 2154.1,664.6 2154.8,662.0 2155.5,660.6 2156.2,658.0 2157.3,656.8 2158.3,653.8 2159.4,653.0 2160.5,650.3 2161.9,652.6 2163.3,653.9 2164.8,656.0 2166.9,654.2 2169.0,653.4 2169.3,654.5 2169.6,657.2 2169.9,658.3 2170.3,660.7 2170.6,662.0 2170.9,664.5 2171.2,665.4 2171.5,668.0 2171.8,669.3 2172.1,671.8 2172.4,672.9 2172.7,675.5 2173.0,676.5 2173.3,678.7 2174.0,679.6 2174.7,682.2 2175.4,683.0 2176.2,685.4 2176.9,686.4 2177.6,688.8 2178.3,689.7 2179.0,692.5 2179.5,693.6 2180.0,696.2 2180.6,697.1 2181.1,699.9 2181.6,701.1 2182.1,703.6 2182.6,704.5 2183.2,707.4 2183.7,708.4 2184.2,710.8 2184.7,712.0 2185.1,714.7 2185.4,715.8 2185.8,718.5 2186.1,719.3 2186.5,722.3 2186.9,723.3 2187.2,726.0 2187.6,726.9 2187.9,729.4 2188.3,730.9 2188.6,733.2 2189.0,734.5 2189.4,737.2 2189.8,737.9 2190.2,740.8 2190.5,741.8 2190.9,744.1 2191.3,745.2 2191.7,747.9 2192.1,749.0 2192.5,751.3 2192.9,752.4 2193.3,755.0 2194.5,756.2 2195.7,758.6 2196.9,759.4 2198.2,761.6 2199.4,762.8 2200.6,764.9 2201.8,766.2 2202.1,764.8 2202.4,762.3 2202.6,761.3 2202.9,758.7 2203.2,757.8 2203.4,755.4 2203.7,754.4 2204.0,752.0 2204.2,751.0 2204.5,748.4 2204.8,747.4 2205.0,744.7 2205.3,744.0 2205.6,741.6 2205.8,740.5 2206.1,737.7 2207.5,737.0 2209.0,735.3 2210.4,734.7 2211.8,732.4 2212.8,735.0 2213.7,736.4 2214.7,738.9 2214.9,736.0 2215.0,735.2 2215.2,732.6 2215.4,731.6 2215.6,728.8 2215.8,727.9 2216.0,725.2 2216.2,724.1 2216.4,721.4 2216.6,720.3 2216.8,717.6 2217.0,716.8 2217.2,714.2 2217.4,713.2 2217.6,710.6 2217.8,709.4 2218.0,706.9 2218.2,705.8 2218.4,703.4 2218.5,701.8 2218.7,699.4 2218.9,698.5 2220.4,699.4 2221.8,702.0 2223.2,703.2 2223.5,702.2 2223.7,699.8 2224.0,699.0 2224.2,696.4 2224.5,695.2 2224.8,692.9 2225.0,691.5 2225.3,689.2 2225.5,688.2 2225.8,685.6 2226.1,684.5 2226.2,685.3 2226.3,688.3 2226.5,689.2 2226.6,691.7 2226.8,692.8 2226.9,695.4 2227.1,696.4 2227.2,699.0 2227.3,700.2 2227.5,702.8 2227.6,704.1 2227.8,706.6 2227.9,707.8 2228.1,710.2 2228.2,711.3 2228.3,714.3 2228.5,715.1 2228.6,717.9 2228.8,718.8 2228.9,721.4"/>
<polyline stroke="#008080" points="165.5,811.5 169.0,812.4 170.8,811.0 172.6,812.1 174.4,811.2 176.3,812.4 178.1,811.0 179.9,812.3 181.7,810.6 183.5,811.5 185.3,810.1 187.1,811.6 188.9,810.5 190.7,812.3 192.5,811.5 194.4,811.9 196.2,811.1 198.0,811.8 199.8,810.5 201.6,811.2 203.4,810.0 205.2,811.0 207.0,810.3 208.8,812.1 210.7,811.4 212.5,812.2 214.3,810.5 216.1,811.1 217.9,809.9 219.7,811.2 221.5,810.6 223.3,810.9 225.1,809.3 227.0,809.8 228.8,808.7 230.6,809.4 232.4,808.8 234.2,809.9 236.0,807.8 237.8,809.0 239.6,807.9 241.4,808.9 243.2,807.6 245.1,808.1 247.0,807.5 248.9,808.8 250.8,807.5 252.7,809.3 254.6,807.9 256.5,809.0 258.4,806.9 260.3,808.1 262.2,806.7 264.1,807.1 266.0,806.6 267.9,808.0 269.8,807.9 271.7,808.8 273.6,807.7 275.5,808.2 277.4,807.0 279.3,808.3 281.2,806.6 283.1,808.6 285.0,807.8 286.9,809.0 288.8,808.0 290.7,808.4 292.6,806.3 294.5,807.2 296.4,806.0 298.3,806.3 300.2,804.7 302.1,806.3 304.0,804.2 305.9,805.8 307.3,803.2 308.7,802.6 310.2,800.3 311.6,799.8 313.0,797.5 314.4,796.8 315.9,794.4 317.3,794.1 319.2,793.2 321.1,794.9 323.0,793.5 324.9,795.0 326.8,794.1 328.7,795.3 330.4,794.8 332.1,796.9 333.8,796.5 335.5,798.4 337.2,798.3 338.8,800.3 340.5,799.4 342.2,801.9 343.9,801.6 345.4,804.4 347.0,804.3 348.5,807.2 350.0,806.3 351.5,808.6 353.0,808.1 354.6,810.7 356.1,810.8 357.6,813.2 359.1,813.3 360.4,815.6 361.7,815.8 362.9,818.8 364.2,819.5 365.5,822.3 366.7,822.4 368.0,824.9 369.3,824.3 370.5,826.8 371.8,827.2 373.1,830.0 374.3,829.6 375.7,832.4 377.1,831.9 378.5,834.5 379.9,834.5 381.2,837.4 382.6,838.1 384.0,840.7 385.4,841.3 386.8,843.8 388.2,843.2 389.5,846.0 391.2,845.8 392.9,847.7 394.6,847.1 396.3,849.1 398.0,848.4 399.7,851.2 401.4,850.5 403.1,852.9 404.8,852.3 406.7,854.4 408.6,853.2 410.5,855.1 412.4,854.7 414.3,856.1 416.2,855.2 418.1,856.7 420.0,854.9 421.9,856.0 423.8,855.0 425.7,855.9 427.6,854.9 429.5,855.9 431.4,853.9 433.3,855.6 435.2,854.3 437.1,855.7 439.0,854.6 440.7,854.6 442.5,853.7 444.2,853.5 446.0,852.8 447.7,852.6 449.5,851.8 451.3,851.4 453.0,850.5 454.8,850.3 456.5,849.3 458.3,849.4 460.0,848.6 461.8,848.5 463.7,848.2 465.6,848.7 467.5,848.5 469.4,848.8 471.3,848.0 473.2,848.5 475.1,847.9 477.0,848.5 478.9,848.3 480.8,848.5 482.7,848.5 484.6,849.2 486.5,849.2 488.4,849.9 490.3,850.1 492.2,850.8 494.1,851.2 496.0,851.2 497.9,850.4 499.8,850.1 501.7,849.0 503.6,848.6 505.5,847.6 507.4,847.3 509.3,846.3 511.2,846.4 513.0,846.3 514.8,846.9 516.6,846.9 518.5,847.2 520.3,846.9 522.1,847.4 523.9,846.9 525.7,847.3 527.5,846.8 529.3,847.3 531.1,847.0 532.9,847.6 534.8,847.3 536.6,848.0 538.4,847.8 540.2,848.3 542.0,848.0 543.8,848.4 545.6,848.0 547.4,848.5 549.2,848.3 551.1,848.5 552.9,848.1 554.7,848.6 556.5,848.2 558.3,848.3 560.1,847.8 561.9,848.0 563.7,847.4 565.5,847.7 567.3,847.1 569.2,847.3 571.0,846.9 572.8,847.3 574.6,847.0 576.4,847.4 578.2,846.9 580.0,847.1 581.8,846.4 583.6,846.9 585.5,846.5 587.3,846.7 589.1,846.3 590.9,846.4 592.7,846.0 594.5,846.1 596.3,845.8 598.1,845.9 599.9,845.4 601.7,845.6 603.6,845.3 605.4,845.5 607.2,845.0 609.0,845.3 610.8,844.8 612.6,844.9 614.4,844.5 616.2,844.8 618.0,844.3 619.9,844.5 621.7,844.1 623.5,844.4 625.3,844.2 627.2,844.6 629.1,844.2 631.0,844.5 632.9,843.9 634.8,844.0 636.7,843.5 638.6,843.7 640.5,843.5 642.4,843.8 644.3,843.2 646.2,843.2 648.1,842.7 650.0,842.9 651.9,842.2 653.8,842.7 655.7,842.4 657.6,842.9 659.5,842.5 661.4,842.9 663.3,842.7 665.2,842.8 667.1,842.5 669.0,843.0 670.9,842.7 672.8,843.0 674.7,842.4 676.6,842.7 678.5,842.3 680.4,842.6 682.3,842.2 684.2,843.0 686.1,843.4 688.0,844.3 689.9,844.6 691.8,845.3 693.7,845.2 695.6,846.0 697.5,846.1 699.4,847.0 701.3,847.0 703.2,847.5 705.1,847.4 707.0,848.0 708.9,847.8 710.8,848.4 712.7,848.0 714.6,849.4 716.5,850.1 718.4,851.6 720.3,852.3 721.4,854.1 722.5,855.3 723.5,857.4 724.6,858.4 725.6,860.5 726.7,861.7 727.7,863.8 728.8,865.3 729.8,867.2 730.5,868.8 731.2,870.8 731.9,872.2 732.6,874.5 733.3,875.7 734.0,877.7 734.7,879.1 735.4,881.2 736.1,882.6 736.8,884.7 737.5,886.1 737.9,888.1 738.3,889.7 738.8,891.7 739.2,893.1 739.7,895.2 740.1,896.7 740.6,898.9 741.0,900.4 741.5,902.5 741.9,904.0 742.4,906.0 742.8,907.5 743.3,909.7 743.7,911.2 744.2,913.3 744.6,914.8 745.1,916.7 746.5,917.5 747.9,919.0 749.3,919.6 750.8,921.2 752.7,920.3 754.6,920.2 756.5,919.2 758.4,919.0 760.3,918.3 761.1,920.3 761.9,921.7 762.6,923.7 763.4,925.0 764.2,927.0 765.0,928.4 765.8,930.3 766.6,931.6 767.4,933.7 768.2,935.0 769.0,937.2 769.8,938.4 770.6,937.2 771.4,935.2 772.2,933.9 773.0,931.9 773.8,930.5 774.7,928.4 775.5,927.1 776.3,924.9 777.1,923.6 777.9,921.5 778.7,920.1 779.5,918.0 780.4,916.6 781.2,914.5 782.1,913.3 782.9,911.4 783.8,910.1 784.7,908.0 785.6,906.8 786.4,904.9 787.3,903.7 788.2,901.8 789.1,900.6 790.0,898.6 790.8,897.6 791.7,895.6 792.6,894.4 793.7,892.5 794.9,891.3 796.0,889.3 797.1,888.0 798.3,886.0 799.4,884.9 800.6,883.0 801.7,881.9 802.9,880.0 804.0,878.7 805.4,876.9 806.8,875.9 808.1,874.2 809.5,873.2 810.9,871.6 812.3,870.7 813.7,869.0 815.1,868.1 816.4,866.4 817.8,865.4 819.2,863.7 820.6,862.6 822.0,860.9 823.3,859.7 824.7,857.9 826.1,856.6 827.5,854.8 828.9,853.7 830.3,851.9 831.6,850.9 833.0,849.3 834.4,848.4 836.1,847.2 837.9,846.9 839.6,845.8 841.3,845.4 843.1,844.3 844.8,844.0 846.5,842.9 848.2,842.5 850.0,841.5 851.7,841.2 853.4,839.9 855.3,839.7 857.2,839.1 859.1,839.0 861.0,838.4 862.9,838.8 864.8,838.0 866.7,838.1 868.6,837.2 870.5,837.3 872.4,836.5 874.3,836.6 876.2,836.0 878.1,836.3 880.0,835.7 881.9,835.9 883.8,835.4 885.7,835.7 887.6,835.3 889.5,835.6 891.4,834.9 893.3,835.1 895.2,834.6 897.1,834.5 899.0,833.8 900.9,834.0 902.8,833.7 904.6,833.8 906.5,833.6 908.3,833.8 910.2,833.5 912.0,833.9 913.9,833.3 915.8,833.5 917.6,833.1 919.5,833.2 921.3,832.6 923.2,832.6 925.0,832.3 926.9,832.7 928.7,832.3 930.6,832.7 932.5,832.2 934.3,832.4 936.2,831.8 938.0,832.1 939.8,831.8 941.6,832.3 943.5,831.8 945.3,832.2 947.1,831.7 948.9,832.3 950.7,832.1 952.5,832.8 954.3,832.5 956.1,833.0 957.9,832.5 959.8,832.9 961.6,832.6 963.4,833.0 965.2,832.7 967.0,833.1 968.8,832.6 970.6,833.0 972.4,832.7 974.2,833.1 976.0,832.8 977.9,833.1 979.7,832.6 981.5,832.9 983.3,832.7 985.1,832.8 986.9,832.6 988.7,832.8 990.5,832.4 992.3,832.7 994.2,832.1 996.0,832.3 997.8,831.8 999.6,832.0 1001.4,831.6 1003.2,832.0 1005.0,831.3 1006.8,831.7 1008.6,831.2 1010.4,831.4 1012.3,831.0 1014.1,831.3 1015.9,830.8 1017.7,831.0 1019.5,830.5 1021.3,830.7 1023.1,829.8 1024.9,830.0 1026.7,829.4 1028.6,829.4 1030.4,828.8 1032.2,828.7 1034.0,828.1 1035.8,828.0 1037.6,827.3 1039.4,827.3 1041.2,826.7 1043.0,827.0 1044.8,826.4 1046.7,826.4 1048.5,825.8 1050.3,825.8 1052.1,825.0 1053.9,825.3 1055.7,824.6 1057.5,824.9 1059.3,824.4 1061.1,824.9 1063.0,824.2 1064.8,824.1 1066.6,823.2 1068.4,823.3 1070.2,823.1 1072.0,823.2 1073.8,822.9 1075.6,823.0 1077.4,822.3 1079.3,822.2 1081.1,821.7 1082.9,822.0 1084.7,821.6 1086.5,821.7 1088.3,821.2 1090.1,821.2 1091.9,820.6 1093.7,820.7 1095.5,820.1 1097.4,820.3 1099.2,819.6 1101.0,819.9 1102.8,819.5 1104.6,819.6 1106.4,818.8 1108.2,818.8 1110.0,818.1 1111.8,818.1 1113.7,817.6 1115.5,817.7 1117.3,817.1 1119.1,817.1 1120.9,816.6 1122.7,816.6 1124.5,816.1 1126.3,816.0 1128.1,815.4 1129.9,815.7 1131.8,815.1 1133.6,815.4 1135.4,815.1 1137.2,815.4 1139.0,814.7 1140.8,815.0 1142.6,814.8 1144.4,815.0 1146.2,814.6 1148.1,814.8 1149.9,814.4 1151.7,814.5 1153.5,814.0 1155.3,814.2 1157.1,813.8 1158.9,813.9 1160.7,813.3 1162.5,813.4 1164.3,812.9 1166.2,813.5 1168.0,813.1 1169.8,813.3 1171.6,812.8 1173.4,812.9 1175.2,812.4 1177.0,812.5 1178.8,811.9 1180.6,812.3 1182.5,811.7 1184.3,812.1 1186.1,811.7 1187.9,811.9 1189.7,811.5 1191.5,811.8 1193.3,811.3 1195.1,811.5 1196.9,811.0 1198.8,811.0 1200.6,810.6 1202.4,810.6 1204.2,810.2 1206.0,810.5 1207.8,809.9 1209.6,810.0 1211.4,809.5 1213.2,809.8 1215.0,809.1 1216.9,809.5 1218.7,809.1 1220.5,809.6 1222.3,809.3 1224.1,809.6 1225.9,809.3 1227.7,809.6 1229.5,809.2 1231.3,809.4 1233.2,808.7 1235.0,809.0 1236.8,808.3 1238.6,808.8 1240.4,808.2 1242.2,808.6 1244.0,808.0 1245.8,808.3 1247.6,807.7 1249.4,807.8 1251.3,807.3 1253.1,807.6 1254.9,807.1 1256.7,807.6 1258.5,807.3 1260.3,807.6 1262.1,806.9 1263.9,807.1 1265.7,806.3 1267.6,806.6 1269.4,806.1 1271.2,806.3 1273.0,805.8 1274.8,805.9 1276.6,805.4 1278.4,805.8 1280.2,805.4 1282.0,805.5 1283.8,805.1 1285.6,805.3 1287.4,804.8 1289.2,805.2 1291.0,804.4 1292.8,804.4 1294.6,803.7 1296.4,803.7 1298.2,803.2 1300.0,803.4 1301.8,802.9 1303.6,803.2 1305.4,802.7 1307.2,802.9 1309.0,802.3 1310.8,802.2 1312.6,801.6 1314.4,801.7 1316.3,801.6 1318.3,802.0 1320.2,802.0 1322.1,802.3 1324.0,802.2 1325.9,802.8 1327.8,802.3 1329.7,802.8 1331.6,802.6 1333.5,802.7 1335.4,802.3 1337.3,802.9 1339.0,802.8 1340.8,803.7 1342.6,803.6 1344.4,804.4 1346.1,804.5 1347.9,805.1 1349.7,805.2 1351.5,805.7 1353.2,805.9 1355.0,806.5 1356.8,806.6 1358.6,807.4 1360.3,807.4 1362.1,808.1 1363.9,808.0 1365.6,807.5 1367.3,806.2 1368.9,805.8 1370.6,804.5 1372.3,804.2 1374.0,802.9 1375.7,802.5 1377.4,801.2 1379.1,800.8 1380.9,800.1 1382.7,800.5 1384.5,799.9 1386.3,800.3 1388.1,799.9 1390.0,800.8 1391.8,800.0 1393.6,801.0 1395.4,800.3 1397.2,801.1 1399.0,800.2 1400.8,801.0 1402.6,800.3 1404.4,801.0 1406.2,800.5 1408.1,801.2 1409.9,800.7 1411.7,801.3 1413.5,800.5 1415.3,801.4 1417.1,800.5 1418.8,801.5 1420.5,801.4 1422.2,802.7 1423.9,802.7 1425.6,804.6 1427.2,804.5 1428.9,806.0 1430.6,805.6 1432.3,806.7 1433.7,806.8 1435.2,809.3 1436.6,809.9 1438.0,812.1 1439.4,812.9 1440.9,814.9 1442.3,816.0 1443.7,818.6 1444.4,819.7 1445.1,822.2 1445.8,823.2 1446.5,825.8 1447.2,826.7 1447.9,829.0 1448.6,830.2 1449.3,832.4 1449.9,833.5 1450.6,836.0 1451.3,836.9 1451.4,839.4 1451.5,840.9 1451.6,843.0 1451.8,844.5 1451.9,846.9 1452.0,848.0 1452.1,850.6 1452.2,851.6 1452.3,854.1 1452.4,855.3 1452.5,857.9 1452.6,858.8 1452.7,861.7 1452.8,862.7 1452.9,865.1 1453.0,866.5 1453.1,869.1 1453.2,870.1 1453.3,872.5 1453.4,873.6 1453.5,876.5 1453.6,877.5 1453.7,880.0 1453.8,880.9 1454.0,883.5 1454.1,884.6 1454.2,887.2 1454.3,888.3 1454.4,891.1 1454.4,891.8 1454.5,894.7 1454.5,895.4 1454.5,898.3 1454.6,899.4 1454.6,901.5 1454.7,902.8 1454.7,905.4 1454.8,906.3 1454.8,908.9 1454.8,910.0 1454.9,912.5 1454.9,913.5 1455.0,916.3 1455.0,917.2 1455.0,919.9 1455.1,920.7 1455.1,923.6 1455.2,924.5 1455.2,926.8 1455.3,928.4 1455.3,930.5 1455.3,931.8 1455.4,934.1 1455.4,935.6 1455.5,937.9 1455.5,939.0 1455.6,941.6 1455.6,942.9 1455.6,945.2 1455.7,946.1 1455.7,948.8 1455.8,950.1 1455.8,952.4 1455.9,953.7 1455.9,956.2 1455.9,957.0 1456.0,959.7 1456.0,960.9 1456.1,963.1 1456.1,964.4 1456.1,966.6 1456.2,968.0 1456.2,970.4 1456.3,971.4 1456.3,974.2 1456.4,975.2 1456.4,977.5 1456.4,978.6 1456.5,981.2 1456.5,982.4 1456.6,984.9 1456.6,986.0 1456.7,988.7 1456.7,989.5 1456.7,992.1 1456.8,993.4 1456.8,995.7 1456.9,997.0 1456.9,999.7 1456.9,1000.7 1457.0,1003.3 1457.0,1004.3 1457.1,1006.8 1457.2,1007.6 1457.2,1010.4 1457.3,1011.2 1457.3,1013.8 1457.4,1015.1 1457.5,1017.4 1457.5,1018.5 1457.6,1021.1 1457.6,1022.2 1457.7,1024.7 1457.8,1025.6 1457.8,1028.6 1457.9,1029.4 1457.9,1031.8 1458.0,1033.1 1458.1,1035.8 1458.1,1036.7 1458.2,1039.2 1458.2,1040.4 1458.3,1042.7 1458.4,1043.9 1458.4,1046.6 1458.5,1047.8 1458.5,1050.2 1458.6,1051.3 1458.7,1053.8 1458.7,1054.8 1458.8,1057.4 1458.8,1058.7 1458.9,1060.9 1459.0,1062.2 1459.0,1064.6 1459.1,1065.7 1459.1,1068.4 1459.2,1069.2 1459.3,1072.0 1459.3,1073.0 1459.4,1075.7 1459.4,1076.7 1459.5,1079.2 1459.6,1080.0 1459.6,1082.6 1459.7,1083.7 1459.8,1086.2 1459.8,1087.3 1459.9,1090.1 1459.9,1091.1 1460.0,1093.7 1460.1,1094.9 1460.1,1097.1 1460.2,1098.3 1460.2,1101.0 1460.3,1101.9 1460.4,1104.3 1460.4,1105.5 1460.5,1108.1 1460.5,1109.4 1460.6,1111.8 1460.7,1113.0 1460.7,1115.6 1460.8,1116.4 1460.8,1119.1 1460.9,1120.1 1461.0,1122.9 1461.1,1124.0 1461.1,1126.2 1461.2,1127.7 1461.3,1130.1 1461.3,1131.4 1461.4,1133.7 1461.5,1134.7 1461.6,1137.4 1461.6,1138.6 1461.7,1141.2 1461.8,1142.3 1461.9,1144.8 1461.9,1145.9 1462.0,1148.4 1462.1,1149.6 1462.2,1151.9 1462.2,1153.4 1462.3,1155.9 1462.4,1156.6 1462.4,1159.3 1462.5,1160.3 1462.6,1163.2 1462.7,1164.0 1462.7,1166.8 1462.8,1168.0 1462.9,1170.6 1463.0,1171.3 1463.0,1174.0 1463.1,1175.0 1463.2,1177.9 1463.2,1179.0 1463.3,1181.6 1463.4,1182.4 1463.5,1185.0 1463.5,1186.4 1463.6,1188.7 1463.7,1189.9 1463.8,1192.1 1463.8,1193.4 1463.9,1196.0 1464.0,1197.0 1464.1,1199.9 1464.1,1200.5 1464.2,1203.2 1464.3,1204.3 1464.3,1207.0 1464.4,1208.2 1464.5,1210.7 1464.6,1211.6 1464.6,1214.3 1464.7,1215.1 1464.8,1217.6 1464.9,1219.0 1465.0,1221.2 1465.1,1222.2 1465.2,1224.7 1465.3,1225.9 1465.4,1228.5 1465.6,1229.4 1465.7,1231.9 1465.8,1233.4 1465.9,1235.8 1466.0,1236.8 1466.1,1239.4 1466.2,1240.6 1466.3,1242.9 1466.4,1244.1 1466.5,1246.4 1466.6,1247.6 1466.7,1249.9 1466.8,1251.2 1466.9,1253.7 1467.0,1254.9 1467.1,1257.3 1467.2,1258.2 1467.3,1260.8 1467.4,1261.9 1467.5,1264.4 1467.6,1265.7 1467.7,1268.2 1467.8,1269.3 1467.9,1271.8 1468.0,1272.8 1468.1,1275.4 1468.2,1276.1 1468.3,1279.0 1468.4,1279.9 1468.5,1282.4 1468.6,1283.6 1468.7,1285.8 1468.8,1287.0 1468.9,1289.4 1469.0,1290.5 1469.1,1293.1 1469.2,1294.5 1471.5,1294.5 1473.8,1293.2 1476.0,1293.1 1476.1,1290.8 1476.2,1289.5 1476.3,1287.3 1476.4,1285.9 1476.5,1283.7 1476.6,1282.4 1476.7,1279.6 1476.7,1278.9 1476.8,1276.3 1476.9,1275.1 1477.0,1272.4 1477.1,1271.6 1477.2,1268.9 1477.3,1267.8 1477.3,1265.1 1477.4,1264.0 1477.5,1261.6 1477.6,1260.7 1477.7,1257.9 1477.8,1256.9 1477.9,1254.4 1477.9,1253.1 1478.0,1250.8 1478.1,1249.6 1478.2,1247.0 1478.3,1245.9 1478.4,1243.5 1478.5,1242.5 1478.6,1239.9 1478.6,1238.6 1478.7,1236.1 1478.8,1235.1 1478.9,1232.7 1479.0,1231.5 1479.1,1228.9 1479.2,1227.8 1479.2,1225.3 1479.3,1224.0 1479.4,1221.6 1479.5,1220.3 1479.6,1217.8 1479.7,1217.1 1479.8,1214.4 1479.8,1213.1 1479.9,1210.5 1480.0,1209.3 1480.0,1206.9 1480.1,1206.0 1480.1,1203.2 1480.2,1202.3 1480.2,1199.9 1480.3,1198.7 1480.3,1196.0 1480.4,1195.0 1480.4,1192.5 1480.5,1191.3 1480.5,1188.7 1480.6,1187.4 1480.6,1185.2 1480.7,1184.1 1480.7,1181.3 1480.8,1180.2 1480.8,1178.0 1480.9,1176.6 1480.9,1174.3 1481.0,1173.2 1481.0,1170.5 1481.1,1169.2 1481.2,1166.9 1481.2,1165.7 1481.3,1163.3 1481.3,1162.1 1481.4,1159.4 1481.4,1158.3 1481.5,1155.9 1481.5,1154.5 1481.6,1152.4 1481.6,1150.9 1481.7,1148.3 1481.7,1147.3 1481.8,1144.9 1481.8,1143.9 1481.9,1141.2 1481.9,1140.0 1482.0,1137.8 1482.0,1136.6 1482.1,1134.1 1482.1,1132.9 1482.2,1130.4 1482.2,1129.1 1482.3,1126.7 1482.3,1125.4 1482.4,1122.9 1482.5,1121.7 1482.5,1119.2 1482.6,1118.3 1482.6,1115.6 1482.7,1114.8 1482.7,1112.2 1482.8,1110.9 1482.8,1108.3 1482.9,1107.2 1482.9,1104.7 1483.0,1103.9 1483.0,1101.0 1483.1,1100.3 1483.1,1097.6 1483.2,1096.5 1483.2,1093.7 1483.3,1092.6 1483.3,1090.0 1483.4,1089.0 1483.4,1086.6 1483.5,1085.7 1483.5,1082.9 1483.6,1081.8 1483.7,1079.4 1483.7,1078.3 1483.8,1075.8 1483.8,1074.5 1483.9,1072.2 1484.0,1071.0 1484.0,1068.3 1484.1,1067.1 1484.1,1064.6 1484.2,1063.6 1484.3,1061.2 1484.3,1059.9 1484.4,1057.7 1484.4,1056.4 1484.5,1054.2 1484.6,1052.8 1484.6,1050.4 1484.7,1049.1 1484.7,1046.6 1484.8,1045.7 1484.9,1043.0 1484.9,1041.9 1485.0,1039.6 1485.0,1038.2 1485.1,1035.9 1485.2,1034.8 1485.2,1032.2 1485.3,1031.1 1485.3,1028.4 1485.4,1027.7 1485.5,1025.1 1485.5,1023.7 1485.6,1021.4 1485.6,1020.3 1485.7,1017.9 1485.8,1016.8 1485.8,1014.2 1485.9,1012.9 1485.9,1010.4 1486.0,1009.3 1486.1,1006.7 1486.1,1005.9 1486.2,1003.5 1486.2,1002.0 1486.3,999.5 1486.4,998.5 1486.4,996.0 1486.5,995.1 1486.5,992.6 1486.6,991.4 1486.7,988.8 1486.7,987.6 1486.8,985.4 1486.8,984.0 1486.9,981.6 1487.0,980.5 1487.0,978.0 1487.1,976.9 1487.2,974.5 1487.2,973.5 1487.3,970.8 1487.3,969.5 1487.4,967.1 1487.5,966.1 1487.5,963.3 1487.6,962.5 1487.7,960.0 1487.8,958.8 1487.9,956.2 1488.0,955.0 1488.1,952.7 1488.2,951.7 1488.3,949.2 1488.4,948.0 1488.4,945.2 1488.5,944.4 1488.6,941.7 1488.7,940.7 1488.8,938.3 1488.9,937.1 1489.0,934.5 1489.1,933.7 1489.2,931.0 1489.3,930.0 1489.4,927.1 1489.4,926.3 1489.5,923.8 1489.6,922.8 1489.7,919.9 1489.8,918.8 1489.9,916.4 1490.0,915.3 1490.1,912.8 1490.2,911.9 1490.3,909.1 1490.3,908.1 1490.4,905.5 1490.5,904.6 1490.6,902.0 1490.7,901.0 1490.8,898.2 1490.9,897.2 1491.0,894.7 1491.1,893.7 1491.2,890.9 1491.3,889.9 1491.5,887.3 1491.7,886.4 1492.0,883.7 1492.2,882.7 1492.5,880.3 1492.7,879.0 1493.0,876.4 1493.2,875.3 1493.5,872.6 1493.7,871.5 1494.0,869.1 1494.2,868.0 1494.4,865.2 1494.7,864.5 1494.9,861.5 1495.2,860.4 1495.4,858.0 1495.7,856.9 1495.9,854.2 1496.2,853.1 1496.4,850.7 1496.7,849.5 1496.9,847.0 1497.1,845.7 1497.4,843.2 1497.6,842.0 1497.9,839.5 1498.1,838.5 1498.4,835.9 1498.6,834.8 1498.9,832.3 1501.0,832.3 1502.2,830.1 1503.4,829.3 1504.6,827.0 1505.8,826.2 1507.0,823.6 1508.2,822.6 1509.1,819.7 1510.1,818.4 1511.0,815.9 1512.5,818.1 1513.9,818.9 1515.3,820.9 1516.7,821.8 1518.2,823.6 1519.6,824.1 1521.0,826.0 1522.4,826.3 1523.9,828.0 1525.0,826.2 1526.2,825.3 1527.4,823.4 1528.6,822.9 1529.8,821.3 1531.0,820.1 1532.4,817.8 1533.8,817.2 1535.3,815.0 1536.7,813.8 1537.2,814.9 1537.6,817.7 1538.1,818.9 1538.6,821.2 1539.1,822.6 1539.5,825.3 1540.0,826.4 1540.5,829.0 1541.0,829.7 1541.4,832.3 1541.7,833.3 1542.1,835.8 1542.5,837.2 1542.9,839.6 1543.3,840.8 1543.7,843.5 1544.1,844.7 1544.5,847.2 1544.9,848.2 1545.2,850.9 1545.7,848.2 1546.2,847.0 1546.7,844.4 1547.1,843.5 1547.6,840.6 1548.1,839.5 1548.6,837.1 1549.0,836.0 1549.5,833.3 1550.0,832.4 1550.5,829.9 1551.0,828.5 1551.4,826.3 1551.9,825.4 1552.4,822.9 1552.9,822.0 1553.3,819.3 1553.8,818.1 1555.7,819.1 1557.6,821.0 1559.5,822.1 1561.6,822.6 1563.8,821.3 1565.9,821.9 1568.1,821.2 1569.2,820.2 1570.4,817.9 1571.6,816.9 1572.8,814.5 1574.0,813.5 1575.2,810.9 1576.4,809.8 1577.6,807.5 1578.8,806.8 1579.9,804.9 1581.1,803.8 1582.3,802.0 1584.4,802.8 1586.4,801.9 1588.4,802.2 1590.5,801.7 1592.5,802.5 1594.5,802.1 1596.6,802.9 1598.5,800.9 1600.4,800.6 1602.3,798.6 1603.0,801.4 1603.7,802.3 1604.4,805.1 1605.1,806.3 1605.8,808.9 1606.6,810.3 1607.3,813.0 1608.0,813.8 1608.3,816.5 1608.5,817.4 1608.8,819.8 1609.1,821.0 1609.3,823.6 1609.6,824.7 1609.9,827.2 1610.1,828.0 1610.4,830.3 1610.7,831.7 1610.9,834.1 1611.2,835.2 1611.5,837.7 1611.7,838.5 1612.0,841.0 1612.3,842.3 1612.5,844.6 1612.8,845.8 1613.1,848.4 1613.3,849.4 1613.6,851.9 1613.9,852.8 1614.1,855.4 1614.4,856.2 1614.7,858.9 1614.9,859.9 1615.2,862.6 1615.5,863.3 1615.7,866.0 1616.0,866.9 1616.3,869.6 1616.5,870.7 1617.7,872.8 1618.9,873.3 1620.1,875.8 1621.3,876.2 1622.5,878.6 1623.7,879.6 1624.9,881.8 1626.0,882.8 1627.2,885.3 1628.4,886.1 1629.6,888.8 1630.8,889.7 1631.2,888.5 1631.7,885.9 1632.1,884.7 1632.5,882.2 1632.9,880.9 1633.4,878.4 1633.8,877.3 1634.2,874.6 1634.6,873.4 1635.1,870.9 1635.3,869.4 1635.5,866.9 1635.8,865.7 1636.0,863.3 1636.2,862.3 1636.4,859.5 1636.7,858.6 1636.9,856.0 1637.1,854.8 1637.3,852.5 1637.6,851.4 1637.8,848.9 1638.0,847.8 1638.2,844.8 1638.5,843.8 1638.7,841.2 1638.9,840.1 1639.1,837.8 1639.4,836.9 1639.7,834.2 1640.1,833.0 1640.4,830.1 1640.8,828.9 1641.1,826.4 1641.5,825.2 1641.8,822.4 1642.2,821.2 1642.6,818.5 1642.9,817.4 1643.3,814.8 1643.6,813.5 1645.1,811.4 1646.5,811.1 1647.3,812.2 1648.1,814.6 1648.9,815.5 1649.7,818.0 1650.6,818.7 1651.4,821.3 1652.2,822.0 1654.3,822.5 1656.5,822.2 1656.9,824.5 1657.2,825.6 1657.6,827.8 1658.0,828.9 1658.4,831.7 1658.8,832.5 1659.2,835.3 1659.6,836.1 1660.0,838.9 1660.4,840.1 1660.7,842.3 1661.0,843.5 1661.2,845.9 1661.5,847.0 1661.7,849.5 1662.0,850.8 1662.3,853.3 1662.5,854.4 1662.8,857.1 1663.0,858.3 1663.3,860.7 1663.5,861.6 1663.8,864.1 1664.0,865.5 1664.3,868.1 1664.5,869.2 1664.8,871.7 1665.0,872.8 1665.4,871.6 1665.8,869.2 1666.2,868.1 1666.6,865.4 1667.0,864.2 1667.4,861.5 1667.7,860.7 1668.1,857.9 1668.5,856.8 1668.9,854.5 1669.3,853.2 1670.0,850.8 1670.7,850.0 1671.4,847.8 1672.1,846.7 1672.9,844.4 1673.6,843.7 1674.8,841.6 1676.0,840.9 1677.2,838.7 1678.5,837.8 1679.7,835.8 1680.9,835.3 1682.1,833.1 1683.6,832.6 1685.0,830.9 1686.4,830.3 1687.8,828.0 1689.3,826.8 1690.7,824.7 1692.1,823.9 1693.5,821.8 1695.2,821.0 1697.0,819.4 1698.7,819.1 1700.4,816.9 1702.1,816.6 1703.2,817.7 1704.4,819.7 1705.5,821.2 1706.7,823.4 1707.8,824.4 1709.6,826.3 1711.4,826.4 1713.1,827.8 1714.9,827.9 1715.3,830.7 1715.6,832.1 1716.0,834.4 1716.3,835.6 1716.7,838.3 1717.1,839.6 1717.4,842.1 1717.8,843.2 1718.1,845.8 1718.5,847.0 1718.8,849.2 1719.2,850.5 1719.6,853.0 1719.9,853.8 1720.3,856.4 1720.6,857.5 1721.0,860.0 1721.3,860.9 1721.7,863.6 1722.1,864.4 1722.4,866.8 1722.8,867.9 1723.1,870.5 1723.5,871.4 1723.8,874.3 1724.2,875.1 1724.5,878.0 1724.9,879.1 1725.3,881.4 1725.6,882.7 1726.0,885.2 1726.3,886.4 1726.7,888.6 1727.0,889.6 1727.4,892.6 1727.8,893.4 1728.1,896.1 1728.5,897.2 1728.8,899.4 1729.2,900.9 1729.5,903.2 1729.9,904.2 1730.3,907.0 1730.6,907.9 1730.9,910.5 1731.2,911.4 1731.5,914.0 1731.7,915.3 1732.0,917.8 1732.3,919.1 1732.6,921.6 1732.9,923.0 1733.2,925.2 1733.5,926.3 1733.7,928.9 1734.0,930.2 1734.3,932.7 1734.6,934.1 1734.9,936.5 1735.2,937.5 1735.5,940.0 1735.7,941.2 1736.0,943.6 1736.3,945.2 1736.6,947.5 1736.9,948.4 1737.2,951.1 1737.5,952.3 1737.8,954.5 1738.1,955.9 1738.4,958.3 1738.7,959.3 1739.0,961.7 1739.3,963.0 1739.6,965.3 1739.9,966.3 1740.2,968.9 1740.5,970.0 1740.8,972.5 1741.1,973.4 1741.4,976.3 1741.7,977.4 1742.0,979.9 1742.6,980.9 1743.2,983.4 1743.8,984.7 1744.5,987.2 1745.1,988.4 1745.7,990.8 1746.3,991.8 1746.9,991.1 1747.5,988.4 1748.1,987.4 1748.7,984.6 1749.3,983.5 1750.0,980.8 1750.6,979.7 1751.0,977.5 1751.4,976.5 1751.9,973.8 1752.3,973.0 1752.8,970.2 1753.2,968.9 1753.6,966.7 1754.1,965.3 1754.5,962.8 1755.0,961.9 1755.4,959.1 1755.8,958.2 1756.3,955.7 1757.3,954.4 1758.3,952.2 1759.3,951.2 1760.3,949.2 1761.4,948.4 1762.4,946.0 1763.4,945.5 1764.1,943.0 1764.8,941.6 1765.5,939.0 1766.3,938.2 1767.0,935.5 1767.7,934.2 1768.4,931.9 1769.1,930.9 1771.0,930.9 1772.9,933.1 1774.8,933.3 1774.9,935.8 1775.1,936.8 1775.2,939.5 1775.4,940.6 1775.5,943.4 1775.7,944.7 1775.9,947.1 1776.1,948.3 1776.2,950.7 1776.4,952.2 1776.6,954.5 1776.8,955.7 1777.0,958.4 1777.2,959.2 1777.4,962.0 1777.5,963.2 1777.7,965.6 1777.9,966.8 1778.1,969.2 1778.3,970.2 1778.5,972.8 1778.7,973.9 1778.8,976.7 1779.0,977.8 1779.2,980.3 1779.4,981.6 1779.6,983.9 1779.8,985.2 1780.0,987.8 1780.1,988.8 1780.3,991.6 1780.5,992.6 1780.7,995.2 1780.9,996.1 1781.1,998.7 1781.3,999.7 1781.4,1002.3 1781.6,1003.6 1781.8,1006.3 1782.0,1007.3 1782.2,1010.0 1782.4,1011.1 1782.6,1013.5 1782.7,1014.8 1782.9,1017.4 1783.1,1018.7 1783.3,1021.2 1783.5,1022.1 1783.7,1024.9 1783.9,1026.1 1784.0,1028.4 1784.3,1029.7 1784.5,1032.6 1784.8,1033.8 1785.0,1036.2 1785.3,1037.3 1785.5,1040.2 1785.8,1041.3 1786.0,1043.9 1786.3,1044.9 1786.5,1047.7 1786.8,1048.7 1787.0,1051.1 1787.3,1052.5 1787.5,1055.0 1787.8,1056.4 1788.0,1059.0 1788.3,1060.2 1788.5,1062.4 1788.8,1063.7 1789.0,1066.3 1789.3,1067.5 1789.5,1069.7 1789.8,1071.1 1790.1,1073.3 1790.4,1074.4 1790.7,1076.8 1791.0,1078.1 1791.3,1080.5 1791.6,1081.5 1791.9,1083.8 1792.2,1085.0 1792.5,1087.5 1792.8,1088.3 1793.1,1090.9 1793.4,1092.3 1793.7,1094.6 1794.0,1095.4 1794.3,1098.0 1794.6,1099.1 1794.9,1101.6 1795.2,1102.9 1795.5,1105.6 1796.3,1106.6 1797.1,1109.0 1797.9,1109.7 1798.7,1112.2 1799.5,1113.3 1800.3,1115.5 1801.2,1116.4 1802.6,1115.8 1804.0,1113.6 1805.4,1112.9 1806.9,1111.3 1808.3,1111.0 1808.6,1108.7 1808.9,1107.9 1809.2,1105.3 1809.5,1104.0 1809.8,1101.4 1810.1,1100.8 1810.4,1097.9 1810.7,1097.1 1811.0,1094.6 1811.3,1093.6 1811.6,1091.1 1812.0,1089.8 1812.3,1087.2 1812.6,1086.4 1812.9,1083.8 1813.2,1082.8 1813.5,1079.8 1813.8,1079.0 1814.1,1076.3 1814.4,1075.2 1814.7,1072.5 1815.0,1071.4 1815.3,1069.2 1815.6,1068.0 1815.9,1065.1 1816.2,1064.3 1816.5,1061.5 1816.8,1060.8 1817.2,1058.1 1817.5,1056.7 1817.9,1054.5 1818.2,1053.2 1818.5,1050.6 1818.9,1049.3 1819.2,1047.1 1819.5,1045.7 1819.9,1043.4 1820.2,1042.0 1820.5,1039.7 1820.9,1038.6 1821.2,1036.1 1821.5,1035.0 1821.9,1032.3 1822.2,1031.1 1822.5,1028.4 1822.7,1027.5 1822.9,1024.8 1823.1,1023.6 1823.3,1021.0 1823.5,1020.1 1823.7,1017.3 1823.8,1016.5 1824.0,1013.6 1824.2,1012.7 1824.4,1009.9 1824.6,1008.9 1824.8,1006.5 1825.0,1004.9 1825.2,1002.5 1825.3,1001.5 1825.5,998.6 1825.7,997.8 1825.9,995.1 1826.1,993.9 1826.3,991.5 1826.5,990.0 1826.6,987.5 1826.8,986.6 1827.0,983.7 1827.2,982.7 1827.4,980.2 1827.6,979.0 1827.8,976.5 1827.9,975.2 1828.1,972.8 1828.3,971.6 1828.5,968.9 1828.7,967.7 1828.9,965.2 1829.1,963.8 1829.2,961.3 1829.4,960.5 1829.6,957.5 1829.8,956.4 1830.0,953.8 1830.2,952.9 1830.4,950.1 1830.5,949.2 1830.7,946.2 1830.9,945.0 1831.1,942.6 1831.6,941.6 1832.1,939.1 1832.6,937.7 1833.1,935.2 1833.6,934.1 1834.2,931.2 1834.7,930.4 1835.2,927.5 1835.7,926.2 1836.2,924.0 1836.7,922.5 1837.2,920.0 1837.7,919.0 1838.2,916.5 1839.0,915.4 1839.8,912.8 1840.6,911.7 1841.4,909.2 1842.2,908.1 1843.0,905.6 1843.8,904.9 1844.6,902.4 1845.4,901.2 1845.9,899.1 1846.5,897.9 1847.1,895.8 1847.6,895.1 1848.2,892.3 1848.8,891.6 1849.4,888.7 1849.9,888.0 1850.5,885.4 1851.1,884.0 1851.6,881.8 1852.2,880.8 1852.8,878.0 1853.3,876.9 1853.9,874.4 1854.5,873.8 1855.1,871.1 1855.6,870.0 1856.2,868.0 1856.8,866.8 1858.5,865.2 1860.2,864.6 1861.9,862.5 1863.6,862.2 1865.3,860.2 1866.2,858.9 1867.1,856.5 1868.0,855.4 1868.9,853.0 1869.8,852.0 1870.7,850.0 1871.6,849.0 1872.5,846.5 1873.1,845.1 1873.7,842.6 1874.4,841.4 1875.0,839.0 1875.7,837.7 1876.3,835.1 1877.0,834.2 1877.6,831.3 1878.3,830.6 1878.9,827.8 1879.6,826.8 1880.5,824.6 1881.4,823.8 1882.3,821.3 1883.1,820.5 1884.0,818.1 1884.9,816.7 1885.8,814.2 1886.7,812.7 1887.9,810.4 1889.0,809.6 1890.1,807.2 1891.3,806.5 1892.4,804.8 1893.8,806.8 1895.3,807.8 1896.7,809.8 1898.1,810.4 1899.5,812.6 1900.4,813.6 1901.2,816.1 1902.0,817.1 1902.8,819.4 1903.6,820.3 1904.4,823.0 1905.2,823.9 1907.6,824.6 1910.0,823.6 1912.4,823.9 1914.2,821.5 1915.9,821.5 1917.7,819.4 1919.5,819.2 1920.9,817.4 1922.4,817.4 1923.8,815.4 1925.2,815.4 1926.6,813.5 1928.1,813.0 1929.5,810.9 1930.9,809.8 1932.3,807.8 1933.8,806.9 1935.2,804.9 1936.6,804.2 1938.4,804.4 1940.2,805.9 1942.0,806.4 1943.7,808.3 1945.5,807.9 1947.3,809.3 1949.1,809.1 1950.9,810.3 1952.6,810.1 1954.3,811.2 1956.0,811.5 1957.7,812.4 1959.4,812.3 1960.9,814.9 1962.3,815.2 1963.7,817.6 1965.1,818.1 1966.6,820.3 1968.0,820.6 1969.4,822.2 1970.8,822.5 1972.3,824.4 1973.7,824.4 1975.6,823.9 1977.5,821.5 1979.4,821.2 1981.2,820.7 1983.0,821.7 1984.7,821.1 1986.5,822.5 1987.1,819.9 1987.6,818.9 1988.1,816.1 1988.7,815.2 1989.2,812.4 1989.7,811.7 1990.3,809.0 1990.8,808.1 1992.6,806.2 1994.4,806.5 1996.1,805.0 1997.9,805.0 1998.8,802.4 1999.6,801.2 2000.5,798.7 2001.3,797.2 2002.2,795.0 2003.3,796.9 2004.3,797.9 2005.4,800.6 2006.5,801.7 2008.3,801.5 2010.0,799.7 2011.8,799.1 2013.6,797.5 2014.8,799.6 2016.0,800.7 2017.2,802.4 2018.4,803.4 2019.6,805.5 2020.7,806.3 2021.1,808.6 2021.5,809.8 2021.9,812.4 2022.3,813.3 2022.7,815.9 2023.1,817.2 2023.5,819.6 2023.9,820.9 2024.2,823.7 2024.6,824.4 2025.0,827.4 2025.5,828.7 2026.0,831.1 2026.4,832.1 2026.9,835.2 2027.4,836.1 2027.9,839.1 2028.3,840.0 2028.8,842.5 2029.3,843.7 2029.8,842.7 2030.3,840.1 2030.8,838.7 2031.3,836.3 2031.8,835.2 2032.4,832.7 2032.9,831.6 2033.4,829.3 2033.9,828.1 2034.4,825.4 2034.9,824.8 2035.4,822.1 2035.9,821.1 2036.4,818.9 2037.6,821.1 2038.9,822.2 2040.1,824.6 2041.3,825.8 2042.5,828.3 2043.8,828.9 2045.0,831.3 2046.4,829.6 2047.8,829.1 2049.3,827.2 2050.7,826.9 2052.1,824.7 2053.5,824.3 2055.0,821.9 2056.4,821.0 2057.3,821.9 2058.3,824.1 2059.2,824.8 2060.2,827.4 2061.1,828.5 2062.1,830.9 2063.0,831.8 2064.0,834.1 2064.9,835.2 2066.4,836.7 2067.8,836.9 2069.2,838.5 2070.6,839.2 2072.1,840.9 2073.3,841.7 2074.4,844.3 2075.6,845.0 2076.8,847.0 2078.0,847.9 2079.2,849.5 2079.9,850.7 2080.6,853.2 2081.3,854.1 2082.1,856.7 2082.8,857.6 2083.5,860.2 2084.2,861.4 2084.9,864.1 2085.7,864.8 2086.5,867.2 2087.3,868.5 2088.2,870.6 2089.0,871.7 2089.8,874.1 2090.6,875.0 2091.6,877.4 2092.5,878.6 2093.5,881.1 2094.4,882.0 2095.4,883.9 2096.3,885.0 2098.1,886.1 2099.9,885.3 2101.7,887.3 2103.4,887.4 2104.9,887.2 2106.3,885.9 2107.7,884.8 2109.1,882.6 2110.6,881.9 2112.0,879.9 2114.1,881.3 2116.3,880.9 2118.4,882.0 2120.6,882.0 2122.3,883.1 2124.1,882.9 2125.9,883.7 2127.7,883.8 2129.1,882.9 2130.5,881.5 2132.0,880.6 2133.4,878.9 2134.8,878.1 2136.2,876.2 2137.7,875.4 2139.1,873.3 2140.5,872.8 2141.9,870.2 2142.6,869.3 2143.2,867.1 2143.8,865.8 2144.5,863.5 2145.1,862.3 2145.7,859.9 2146.4,858.8 2147.0,856.5 2147.6,855.7 2148.5,853.4 2149.3,852.4 2150.1,849.9 2150.9,849.0 2151.7,846.7 2152.5,846.2 2153.3,843.9 2154.5,842.6 2155.7,840.3 2156.9,839.6 2158.1,837.2 2159.3,836.0 2160.5,833.8 2161.4,835.9 2162.3,836.8 2163.1,839.1 2164.0,840.0 2164.9,842.2 2165.8,842.8 2166.7,845.4 2167.6,846.4 2168.4,848.6 2169.2,849.7 2170.0,852.2 2170.9,853.0 2171.7,855.7 2172.5,856.5 2173.3,858.6 2174.5,859.4 2175.7,861.5 2176.9,862.4 2178.1,864.3 2179.2,864.7 2180.4,866.8 2182.2,864.7 2184.0,864.4 2185.8,862.9 2187.6,862.8 2188.5,860.6 2189.5,860.0 2190.4,857.6 2191.4,856.7 2192.3,853.7 2193.3,853.0 2195.0,851.3 2196.7,851.1 2198.4,849.9 2200.1,850.0 2201.8,848.9 2203.5,848.5 2205.2,846.4 2207.0,845.7 2208.7,844.1 2210.4,844.0 2210.6,841.4 2210.8,840.3 2211.0,837.6 2211.2,836.8 2211.4,834.2 2211.7,832.7 2211.9,830.3 2212.1,829.4 2212.3,826.9 2212.5,825.5 2212.7,823.0 2212.9,821.9 2213.2,819.7 2213.4,818.5 2213.6,816.1 2213.8,814.9 2214.0,812.3 2214.2,810.9 2214.4,808.2 2214.7,807.1 2214.9,808.4 2215.0,810.7 2215.2,812.0 2215.4,814.6 2215.6,815.6 2215.8,818.1 2216.0,818.9 2216.2,821.7 2216.4,822.7 2216.6,824.9 2216.8,826.2 2217.0,828.6 2217.2,830.0 2217.4,832.3 2217.6,833.6 2217.8,835.9 2218.0,836.7 2218.2,839.6 2218.4,840.7 2218.5,843.1 2218.7,844.3 2218.9,846.7 2219.1,843.9 2219.2,842.9 2219.4,840.5 2219.5,839.3 2219.7,836.8 2219.8,835.6 2220.0,833.0 2220.1,831.9 2220.3,829.8 2220.4,828.4 2220.6,825.9 2220.7,825.0 2220.9,822.4 2221.0,821.3 2221.2,818.9 2221.3,817.9 2221.5,815.0 2221.6,814.2 2221.8,811.5 2222.1,810.3 2222.5,807.8 2222.9,806.5 2223.2,804.2 2223.6,802.9 2223.9,800.2 2224.3,799.1 2224.6,796.5 2225.0,795.3 2225.4,792.9 2225.7,791.5 2226.1,789.0 2226.2,791.6 2226.3,792.5 2226.4,795.0 2226.5,796.4 2226.6,798.6 2226.7,800.0 2226.9,802.6 2227.0,803.4 2227.1,806.2 2227.2,807.1 2227.3,809.8 2227.4,811.0 2227.5,813.4 2227.7,814.3 2227.8,817.0 2227.9,818.0 2228.0,820.8 2228.1,821.5 2228.2,824.5 2228.3,825.1 2228.5,828.0 2228.6,829.0 2228.7,831.3 2228.8,832.7 2228.9,835.3 2229.0,836.2 2229.0,838.6 2229.1,840.1 2229.1,842.6 2229.1,843.4 2229.2,846.3 2229.2,847.0 2229.3,850.0 2229.3,850.8 2229.4,853.5 2229.4,854.7 2229.5,857.3 2229.5,858.4 2229.6,860.8 2229.6,862.1 2229.7,864.5 2229.7,865.6 2229.7,867.9 2229.8,869.4 2229.8,871.8 2229.9,872.7 2229.9,875.7 2230.0,876.6 2230.0,879.3 2230.1,880.4 2230.1,882.9 2230.2,883.8 2230.2,886.5 2230.3,887.6 2230.3,890.3 2230.3,891.4"/>
</g>
<g fill="none" stroke-width="6" stroke-linecap="round" stroke-linejoin="round">
<polyline points="1466.9,524.7 1466.9,600 1468.2,610 1471,1347.5" stroke="#00f" stroke-dasharray="8.2 16.6"/>
<polyline points="1623.6,540 1626,959" stroke="#00f" stroke-dasharray="27.2 19.4 1.45 19.4"/>
<polyline points="1668.4,581 1668.8,690 1672.7,1057" stroke="#00f" stroke-dasharray="27.2 19.4 1.45 19.4"/>
<polyline points="1805.5,911 1805.5,1201" stroke="#00f" stroke-dasharray="27.2 19.4 1.45 19.4"/>
<polyline points="1840,607 1844.5,1124" stroke="#f00" stroke-dasharray="27.2 19.4 1.45 19.4"/>
<polyline points="2122,208.5 2122,964" stroke="#f00" stroke-dasharray="27.2 19.4 1.45 19.4"/>
<polyline points="2190.4,246.5 2199.7,1014" stroke="#f00" stroke-dasharray="27.2 19.4 1.45 19.4"/>
</g>
<line x1="1618.2" y1="915.0" x2="1594.2" y2="969.3" stroke="#00f" stroke-width="7.0" stroke-linecap="round"/><polygon points="1579.5,1002.7 1585.2,965.3 1603.3,973.2" fill="#00f" stroke="#00f" stroke-width="6.0" stroke-linejoin="round"/>
<line x1="1692.0" y1="1035.0" x2="1717.8" y2="1064.1" stroke="#00f" stroke-width="7.0" stroke-linecap="round"/><polygon points="1742.0,1091.4 1710.4,1070.6 1725.2,1057.5" fill="#00f" stroke="#00f" stroke-width="6.0" stroke-linejoin="round"/>
<line x1="2158.0" y1="997.5" x2="2166.7" y2="991.3" stroke="#f00" stroke-width="6.0" stroke-linecap="round"/><polygon points="2198.1,968.9 2172.3,999.2 2161.1,983.4" fill="#f00" stroke="#f00" stroke-width="4.6" stroke-linejoin="round"/>
<g stroke="#000" stroke-width="11" stroke-linecap="round">
<line x1="165.3" y1="1551.4" x2="165.3" y2="1582.0"/>
<line x1="739.2" y1="1551.4" x2="739.2" y2="1582.0"/>
<line x1="1313.0" y1="1551.4" x2="1313.0" y2="1582.0"/>
<line x1="1886.9" y1="1551.4" x2="1886.9" y2="1582.0"/>
<line x1="452.2" y1="1551.4" x2="452.2" y2="1566.5"/>
<line x1="1026.1" y1="1551.4" x2="1026.1" y2="1566.5"/>
<line x1="1600.0" y1="1551.4" x2="1600.0" y2="1566.5"/>
<line x1="2173.8" y1="1551.4" x2="2173.8" y2="1566.5"/>
</g>
<g font-family="'Liberation Serif', 'Times New Roman', serif" font-weight="bold" font-size="120" fill="#000">
<text x="165.3" y="1697.3" text-anchor="middle" font-size="123">4000</text>
<text x="739.2" y="1697.3" text-anchor="middle" font-size="123">3000</text>
<text x="1313.0" y="1697.3" text-anchor="middle" font-size="123">2000</text>
<text x="1886.9" y="1697.3" text-anchor="middle" font-size="123">1000</text>
<text x="194" y="125.3">a</text>
<text x="194" y="327">b</text>
<text x="189" y="564.6">c</text>
<text x="186" y="791.3">d</text>
<text x="639.3" y="1823.1" font-size="121.3">Wavenumbers (cm<tspan x="1608" dy="-41">-</tspan><tspan x="1647.5">1</tspan><tspan x="1708.5" dy="41">)</tspan></text>
<text transform="translate(99.8,1317.5) rotate(-90)" font-size="123.8">Transmittance</text>
<text transform="translate(99.8,497.1) rotate(-90) scale(1.155,1)" font-size="123.8" text-anchor="middle">(</text>
<text transform="translate(99.8,417.9) rotate(-90) scale(1.09,1)" font-size="123.8" text-anchor="middle">%</text>
<text transform="translate(99.8,338.0) rotate(-90) scale(1.14,1)" font-size="123.8" text-anchor="middle">)</text>
</g>
<g font-family="'Liberation Serif', 'Times New Roman', serif" font-weight="bold" font-size="90">
<text x="936.6" y="334.4" fill="#000" text-anchor="middle">2856</text>
<text x="807.2" y="563.5" fill="#000" text-anchor="middle">2924</text>
<text x="2127.6" y="181.7" fill="#f00" text-anchor="middle">560</text>
<text x="2161.5" y="1070.8" fill="#f00" text-anchor="middle">460</text>
<text x="1945.1" y="1125.7" fill="#f00" text-anchor="middle">1084</text>
<text x="1589.4" y="1073.0" fill="#00f" text-anchor="middle">1457</text>
<text x="1707.2" y="1164.2" fill="#00f" text-anchor="middle">1389</text>
<text x="1818.7" y="1262.5" fill="#00f" text-anchor="middle">1155</text>
<text x="1482.5" y="1415.9" fill="#00f" text-anchor="middle">1728</text>
</g>
<text transform="translate(1251.1,1049) scale(0.957,1)" text-anchor="middle" font-family="'Liberation Sans', Arial, sans-serif" font-weight="bold" font-size="82" fill="#000">1636</text>
</svg>
</body></html>
